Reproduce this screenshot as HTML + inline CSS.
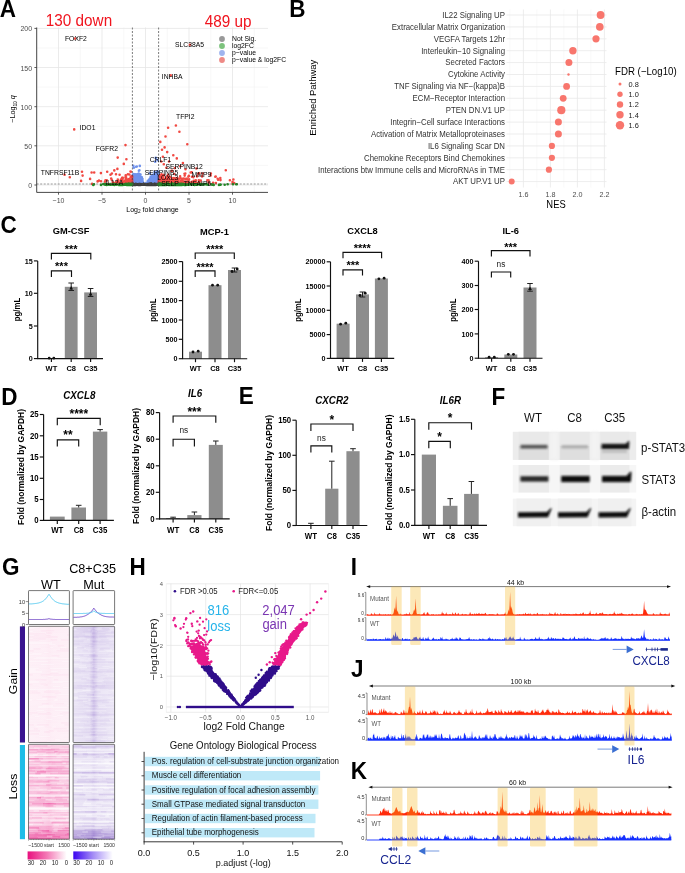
<!DOCTYPE html><html><head><meta charset="utf-8"><style>html,body{margin:0;padding:0;background:#fff;overflow:hidden;}svg{display:block;}</style></head><body><svg style="opacity:0.999" width="685" height="873" viewBox="0 0 685 873" font-family='"Liberation Sans", sans-serif'>
<rect x="0" y="0" width="685" height="873" fill="#fff"/>
<text transform="translate(-0.3 16.7) scale(1 1.08)" font-size="22.5" font-weight="bold">A</text>
<text transform="translate(289.2 16.9) scale(1 1.08)" font-size="22.5" font-weight="bold">B</text>
<text transform="translate(0.6 232.6) scale(1 1.08)" font-size="22.5" font-weight="bold">C</text>
<text transform="translate(1.3 404.7) scale(1 1.08)" font-size="22.5" font-weight="bold">D</text>
<text transform="translate(238.7 404.3) scale(1 1.08)" font-size="22.5" font-weight="bold">E</text>
<text transform="translate(491.6 404.5) scale(1 1.08)" font-size="22.5" font-weight="bold">F</text>
<text transform="translate(1.9 575) scale(1 1.08)" font-size="22.5" font-weight="bold">G</text>
<text transform="translate(129.5 575) scale(1 1.08)" font-size="22.5" font-weight="bold">H</text>
<text transform="translate(350.8 574.7) scale(1 1.08)" font-size="22.5" font-weight="bold">I</text>
<text transform="translate(351.1 677.3) scale(1 1.08)" font-size="22.5" font-weight="bold">J</text>
<text transform="translate(350.8 779.2) scale(1 1.08)" font-size="22.5" font-weight="bold">K</text>
<line x1="36.8" y1="27.5" x2="36.8" y2="192.4" stroke="#f2f2f2" stroke-width="0.6"/>
<line x1="80.2" y1="27.5" x2="80.2" y2="192.4" stroke="#f2f2f2" stroke-width="0.6"/>
<line x1="123.8" y1="27.5" x2="123.8" y2="192.4" stroke="#f2f2f2" stroke-width="0.6"/>
<line x1="167.2" y1="27.5" x2="167.2" y2="192.4" stroke="#f2f2f2" stroke-width="0.6"/>
<line x1="210.8" y1="27.5" x2="210.8" y2="192.4" stroke="#f2f2f2" stroke-width="0.6"/>
<line x1="254.2" y1="27.5" x2="254.2" y2="192.4" stroke="#f2f2f2" stroke-width="0.6"/>
<line x1="36.7" y1="165.4" x2="268" y2="165.4" stroke="#f2f2f2" stroke-width="0.6"/>
<line x1="36.7" y1="126.3" x2="268" y2="126.3" stroke="#f2f2f2" stroke-width="0.6"/>
<line x1="36.7" y1="87.1" x2="268" y2="87.1" stroke="#f2f2f2" stroke-width="0.6"/>
<line x1="36.7" y1="48" x2="268" y2="48" stroke="#f2f2f2" stroke-width="0.6"/>
<line x1="58.5" y1="27.5" x2="58.5" y2="192.4" stroke="#e6e6e6" stroke-width="0.8"/>
<line x1="102" y1="27.5" x2="102" y2="192.4" stroke="#e6e6e6" stroke-width="0.8"/>
<line x1="145.5" y1="27.5" x2="145.5" y2="192.4" stroke="#e6e6e6" stroke-width="0.8"/>
<line x1="189" y1="27.5" x2="189" y2="192.4" stroke="#e6e6e6" stroke-width="0.8"/>
<line x1="232.5" y1="27.5" x2="232.5" y2="192.4" stroke="#e6e6e6" stroke-width="0.8"/>
<line x1="36.7" y1="185" x2="268" y2="185" stroke="#e6e6e6" stroke-width="0.8"/>
<line x1="36.7" y1="145.8" x2="268" y2="145.8" stroke="#e6e6e6" stroke-width="0.8"/>
<line x1="36.7" y1="106.7" x2="268" y2="106.7" stroke="#e6e6e6" stroke-width="0.8"/>
<line x1="36.7" y1="67.5" x2="268" y2="67.5" stroke="#e6e6e6" stroke-width="0.8"/>
<line x1="36.7" y1="28.4" x2="268" y2="28.4" stroke="#e6e6e6" stroke-width="0.8"/>
<path d="M155.6 176h0M156.2 174.5h0M154.6 182.8h0M150.7 178.7h0M148.6 182.2h0M133.8 182.8h0M148.1 182.8h0M153.1 179.7h0M142.5 179.1h0M153 180.7h0M140 183.6h0M149.4 182.3h0M139.7 176.3h0M134.3 181.3h0M143.3 183.1h0M142.3 181.2h0M155.5 182.3h0M142.3 181.8h0M141.6 183.8h0M157.2 178.7h0M153.5 174.6h0M150 181h0M155.2 161.8h0M152.4 180h0M138.2 174.6h0M151.8 175.9h0M148 183h0M140.2 183.2h0M157.7 171.3h0M148 183.1h0M155.1 180.1h0M157.7 177.6h0M152.3 183.6h0M142.2 181.9h0M152.9 178h0M139 180h0M133.7 180.3h0M138.2 181.8h0M142.1 183.3h0M148.7 183.4h0M142.6 183.3h0M138.7 183.6h0M139.7 183.5h0M139.8 165.9h0M143.5 183.9h0M150.6 183.6h0M149.7 181.4h0M150 182.3h0M154 183h0M158.2 183.9h0M143.5 184h0M136.7 182h0M152.2 176.1h0M146.8 183.9h0M147.4 183.7h0M139.9 177.2h0M148.5 182.1h0M153.1 180.6h0M141.8 181.5h0M142.6 182.1h0M151.1 182.7h0M146.6 183.9h0M147.6 183.5h0M157.1 177.8h0M155.3 179.7h0M139.8 182.9h0M147.7 183.4h0M144 183.9h0M146.5 183.9h0M137.8 176.2h0M156 181.7h0M143.7 184h0M132.9 175.1h0M139 175.7h0M154.2 175h0M137.3 182.9h0M153.6 182h0M152 183.3h0M138.7 173.6h0M151.5 179h0M140.4 180.7h0M143.6 183.9h0M155.2 172.7h0M157.7 177.9h0M157.4 177.1h0M151.3 176.5h0M133.3 183h0M150 180.1h0M135.6 179.7h0M135.6 181.1h0M141 183.4h0M135.3 174.3h0M157 181.8h0M139 178.6h0M134.2 179.4h0M156.2 180.9h0M146.5 183.9h0M148.4 182.5h0M152 177.3h0M146.8 184h0M140.5 174.5h0M140.8 177.4h0M141.5 178.8h0M154.6 175.3h0M143 182.5h0M156.5 180.4h0M144.4 183.9h0M152.1 176h0M153.7 178.9h0M142.4 180.5h0M151.3 180.3h0M151.9 182.7h0M138.3 175.5h0M157.7 183.5h0M153.1 181.4h0M157.5 174.4h0M138.4 174.4h0M148.7 183.4h0M134.5 181.3h0M157.9 178.2h0M143 182.2h0M141.8 183.6h0M155.4 176.6h0M146.4 183.9h0M141.4 182.2h0M146.9 183.9h0M133.6 174.1h0M154.2 183.4h0M148.5 181.8h0M147 183.9h0M143.3 183h0M143 183.8h0M133.5 180.4h0M158.5 180.1h0M133 177h0M144.4 183.9h0M153.3 178.9h0M138.1 182h0M157.7 181.4h0M156.6 180.5h0M144 184h0M147.8 180.7h0M158.4 175.8h0M147.5 183.8h0M137.3 178.9h0M140.8 178.9h0M157.8 171.7h0M132.7 182.8h0M155.3 176.6h0M132.9 179.2h0M157 176.8h0M137.1 176h0M155.8 157.9h0M132.7 181.8h0M157.1 172h0M150.8 179.9h0M140.1 175.3h0M148.2 183.3h0M148.1 183.5h0M144.3 183.9h0M155.4 174.3h0M151.7 183h0M151 176.8h0M142.3 181.7h0M144.3 184h0M148.6 182.9h0M151.6 178.5h0M143.4 183.5h0M139.3 174.1h0M144.5 183.9h0M156.4 178.6h0M157.1 178.6h0M136.8 166.5h0M153.4 181.8h0M156.8 180.2h0M154.4 181.8h0M133.7 178.7h0M150.7 176.8h0M155.4 183.3h0M140.8 176.8h0M134.6 182.8h0M151.2 182.5h0M138.6 175.5h0M147.1 184h0M141.6 179.8h0M143.3 183.5h0M149.4 183h0M153.8 176.5h0M138.1 177.7h0M143.9 183.9h0M153.4 175.4h0M149.1 180.1h0M132.5 182.2h0M150.5 179.6h0M138.2 179.2h0M156.9 177.4h0M156.4 182.8h0M153.1 175.7h0M153 176.3h0M149.9 173.3h0M150.6 179.6h0M136.1 180.1h0M137.9 176.8h0M139.8 179.9h0M147.7 182.4h0M138.5 183h0M157.6 176.5h0M143.8 184h0M147.8 183.5h0M141.4 182.8h0M152.6 182h0M156 172.9h0M136.1 181.7h0M158.2 172.3h0M136.5 178.9h0M134 179h0M151.6 181.9h0M153.5 183.5h0M136.8 176.4h0M158 173.1h0M144.1 183.9h0M148.8 180.7h0M152.3 182.7h0M154.5 182.3h0M137 182.6h0M143.6 183.9h0M158.5 179.8h0M146.4 183.9h0M144.2 184h0M147.6 183.7h0M151.8 181.2h0M139.1 180.5h0M139.6 180.8h0M153 181.3h0M144.3 184h0M149.6 180.8h0M155.3 179.1h0M143.9 183.9h0M133.3 177.8h0M143.1 183.7h0M132.5 179h0M149.4 182h0M138.9 170.7h0M157.4 160.1h0M138.9 180.9h0M137 174.4h0M132.9 183.2h0M152.8 179.4h0M147.4 183.9h0M146.4 183h0M151.5 179.4h0M139 183.7h0M135.6 179.3h0M140.3 176.6h0M152.2 181.1h0M141.7 180.6h0M142.4 183.4h0M149.5 181.2h0M139.4 170.3h0M150.8 181.8h0M141.9 180.9h0M155.2 175.2h0M151 180.5h0M139.8 176.9h0M148.7 181.5h0M158.3 172h0M147.9 182.9h0M134.2 179.7h0M142 182h0M139.2 181.5h0M133.1 180.1h0M149.8 178.9h0M141.9 182.9h0M150.4 182.4h0M153.2 179.2h0M134.4 176.5h0M147.2 184h0M132.8 174.9h0M147.8 183.9h0M149.6 179h0M133.4 177.4h0M133.7 180.6h0M153.6 182.8h0M146.7 184h0M140.6 181.2h0M151.3 181.6h0M155.9 174.7h0M147.8 183h0M151 177.2h0M140.2 183.9h0M152.2 180.1h0M155.1 172.9h0M134.1 176.1h0M143.7 183.8h0M157.1 183.3h0M143.3 183.5h0M156.1 175.6h0M153.1 175.7h0M143.6 183.9h0M146.7 183.9h0M138.4 181.9h0M155.4 175.1h0M146.5 183.9h0M149 183.5h0M151.8 178.4h0M135.8 175.4h0M141.8 179.2h0M139.9 177h0M140.5 176.9h0M143.7 183.9h0M151.3 180.5h0M143.4 183.5h0M133.1 179.4h0M153.7 179.1h0M152.4 182.3h0M150 183.5h0M151.8 182.3h0M143 182.9h0M142.5 180.8h0M153.3 177.8h0M154.5 172.1h0M146.9 184h0M137 179h0M152.7 183.4h0M150.8 181.2h0M144.2 184h0M153.4 177.2h0M147.1 184h0M148.1 183.6h0M156.3 182.1h0M136.1 166.7h0M157.7 175h0M149.6 183.3h0M134.9 176.6h0M133.9 177.2h0M146.9 184h0M136.5 176.6h0M154.8 178.4h0M156.3 179.5h0M149.2 184h0M152.3 179h0M158.1 175.1h0M157.1 172.6h0M158.4 177.8h0M136.7 176.5h0M156.4 180.1h0M154.4 178.1h0M136.8 181.1h0M157.2 180.1h0M135.7 177.5h0M135.9 180.3h0M151.8 177.7h0M147.7 183.1h0M153.4 183.7h0M154 180.9h0M147.9 183.7h0M156.2 174.5h0M138.3 175.5h0M155.6 174.3h0M137.7 183.4h0M133.8 180.9h0M150.7 180.8h0M132.8 179.2h0M147.8 183.1h0M150.6 177.6h0M154 179.9h0M158.2 176.5h0M135 182.3h0M148.4 182.9h0M156.4 174h0M141.9 177.2h0M150.1 182.7h0M143.6 183.6h0M148.2 182.7h0M133.8 167.7h0M156.4 183.1h0M137 181.9h0M157.1 172.5h0M157 176.4h0M144.3 184h0M147.8 183.3h0M157.2 171.6h0M149.6 179.8h0M156.1 176.5h0M141.8 180h0M133.3 165.8h0M134.7 174.5h0M154.9 174.8h0M133.9 183.4h0M150.2 179.4h0M141.2 177h0M156.8 174.5h0M141.6 180.7h0M135.6 178.2h0M154 181.4h0M149 180.4h0M132.9 174.6h0M155.5 181.7h0M153.4 177.6h0M156.1 182.2h0M154 184h0M132.7 177h0M151.2 179.4h0M152.9 181.2h0M153.7 175.3h0M132.9 181.4h0M147.5 183.5h0M156.9 182.5h0M138.6 181h0M153.5 176.4h0M137.4 183.6h0M152.7 180.6h0M155.9 183.9h0M151.4 182.5h0M148.5 182.2h0M136.7 176.1h0M154 177.5h0M153.5 176.7h0M135.9 183.6h0M132.6 175.8h0" stroke="#5f86ea" stroke-width="2.6" stroke-linecap="round" fill="none" stroke-opacity="0.9"/>
<path d="M127 181.8h0M125.7 179.7h0M126.1 177.3h0M110.5 174.7h0M116.2 183.2h0M126 177.9h0M127.3 181.3h0M129.7 178.7h0M127.7 182.6h0M112.5 183.6h0M132.4 182.4h0M125.5 183.6h0M126.6 179.2h0M107.2 171.7h0M113.8 183.7h0M127.1 182.1h0M132.1 179.7h0M128.6 179.3h0M119.2 182.8h0M127.5 182.1h0M129.9 183.9h0M126 183.1h0M129 179.3h0M116.5 181.8h0M132.2 179.9h0M128.9 183.7h0M116 174.3h0M129 181.6h0M106.8 180.4h0M127.4 183.4h0M132.1 177.7h0M112.8 183.1h0M120.3 183.2h0M116.3 182.1h0M118.5 181h0M131.4 181.6h0M120 183.8h0M132 183.1h0M117.4 168.9h0M125.5 177.4h0M117.9 182.7h0M125.5 177.7h0M124.7 181.6h0M117.4 183.3h0M125.2 181.5h0M122.6 179.8h0M128.7 182h0M125.2 183.6h0M114.3 170.4h0M122.8 182.1h0M127 182h0M127 183h0M97.6 181.4h0M129.6 180.7h0M132.4 182.8h0M122.8 177.9h0M128.2 183.8h0M92.1 183.9h0M126.1 181.6h0M81.1 180.9h0M129.2 183h0M126.9 183.5h0M105.5 180.4h0M116.9 182.7h0M119.6 174.7h0M129.4 174.5h0M128.5 180.1h0M99 180.6h0M101 181.3h0M125.7 175.4h0M121.6 183.8h0M130.5 181.7h0M127.6 183.8h0M112.7 182.3h0M104.9 181.7h0M130.1 182.3h0M111.9 173.5h0M122.7 182.9h0M123.6 182.9h0M127.2 184h0M132.2 176.4h0M115.3 182.8h0M121.2 183.8h0M111.7 179.8h0M117.5 181.7h0M125.8 178.4h0M128 183.7h0M131 176.8h0M128.6 183.8h0M122.7 183.5h0M125.9 179.1h0M129.3 182.3h0M100.9 173.1h0M108.6 183.8h0M90.1 178.9h0M130.5 171.5h0M130.9 171.8h0M132.1 183.8h0M124.9 180.8h0M122.1 177.8h0M131.1 180.2h0M127.9 174.3h0M120.9 179.6h0M130.8 176.8h0M128.4 183.3h0M126 179h0M127.9 182h0M121.6 182.9h0M131 182.5h0M117.8 179.5h0M129.7 180.8h0M111.2 178.5h0M130.1 183.9h0M82.6 175.6h0M128.7 179.8h0M122.3 180.4h0M127.2 180.4h0M126.8 182.4h0M163.5 181.4h0M183.4 183h0M159.5 183.5h0M176.3 182.9h0M158.7 180.9h0M165.7 183.8h0M175.9 182.2h0M182.3 178.9h0M180.4 178.1h0M164.7 180.7h0M167.2 181.8h0M161.6 182.2h0M159.5 180.6h0M161 182.5h0M181.8 179h0M183 182.4h0M159.5 176.8h0M163.1 180.2h0M165.2 182.8h0M168.4 182.3h0M177.6 181.7h0M160.9 182.6h0M159.8 180.7h0M161 183.2h0M169.8 183.1h0M186.9 179.2h0M163.7 182.9h0M175.5 182.2h0M171.3 183h0M169.2 182h0M187.6 182.6h0M178.9 183.3h0M162.9 183.5h0M191.9 183.6h0M162.8 182.8h0M174.2 181.3h0M160.2 183.1h0M174.6 183.6h0M160.2 181h0M158.6 183.8h0M161.2 180.7h0M164 182.9h0M168.4 179.2h0M159.1 183.6h0M165 181.9h0M160.4 183h0M169.2 183.8h0M163.6 183.9h0M189 183.9h0M160.7 182.3h0M161.8 182.4h0M163.8 175h0M169.2 183h0M161.1 182.8h0M177.3 180.7h0M174 182.2h0M193 182.3h0M168.5 177.3h0M178.2 182.3h0M178.6 180.1h0M162.9 183h0M176.4 182.8h0M164 182.5h0M159.5 183.5h0M213.1 182.7h0M179.3 184h0M163.2 182.6h0M163.3 178.5h0M198.5 182.7h0M160.4 179.5h0M178.5 182h0M159.3 184h0M173.3 181.2h0M166.5 183.1h0M162.6 183.1h0M165.4 182.1h0M165.3 183.2h0M161.8 182h0M193.4 183.3h0M177.2 181.3h0M161.9 183.7h0M181.4 183.5h0M160.1 183.8h0M179.8 182.7h0M158.6 183.4h0M167.8 182.6h0M160.6 180.7h0M173.6 183.2h0M163.4 183.4h0M158.8 182.4h0M162.6 182h0M181.5 182.9h0M162.8 183.1h0M166.7 183.9h0M164.8 183.2h0M160 180.9h0M173.6 182.4h0M159.5 181.8h0M164.6 179.8h0M171.7 183.3h0M176.1 181.7h0M164.1 180.9h0M163.6 183.7h0M159.1 182.4h0M162.6 183.7h0M159.2 181.5h0M162.7 180.3h0M186.8 178.8h0M161.8 178.8h0M170.9 179.7h0M188.6 182.8h0M164.5 179.5h0M162.9 183.8h0M159 182.6h0M163.2 178.4h0M158.7 183.1h0M174.2 181.7h0M181.1 181.1h0M184.5 173.8h0M183.5 181.3h0M165 182.5h0M161.7 183.4h0M167.8 182.8h0M164.7 183.8h0M208.6 182.3h0M166.8 183.1h0M168.8 180.7h0M193.7 180.8h0M193.5 182.4h0M166.6 183.1h0M201 183.5h0M161.8 181.3h0M162 183.9h0M164.3 182.8h0M166.2 183.4h0M163.9 183.3h0M161 182.7h0M161.8 183.6h0M192 176.8h0M164.6 182.5h0M159.8 183.9h0M167.6 177.9h0M159.6 182.9h0M178.4 184h0M169.7 183.3h0M176.3 179.6h0M185.6 179.4h0M159.7 182.1h0M168.9 183.2h0M161.4 182.8h0M165.5 182.9h0M197.2 183h0M183 183.5h0M173.3 182.6h0M164.9 182.7h0M160.4 183.5h0M165.2 183.6h0M182.1 180.7h0M171.1 181.3h0M160.8 184h0M159.6 180.3h0M167 176.4h0M163.5 183.1h0M171.8 179.6h0M165.6 182.7h0M164.1 183.5h0M188.4 176.6h0M165.8 183.7h0M184.3 182.1h0M175.9 182.6h0M159.6 181.6h0M160 179.2h0M160.9 183.2h0M158.6 183.6h0M171.8 183.8h0M160.1 183.9h0M158.7 182.8h0M161.8 181.4h0M172.9 182.3h0M191.8 172.4h0M163.2 181.2h0M173.5 183.5h0M177.9 183.9h0M172.7 178.4h0M171.8 181.2h0M172.1 182.7h0M160 183.2h0M163.3 180.8h0M185.3 173.6h0M163.7 179.7h0M188 183.9h0M168.5 183.8h0M159.6 183h0M174 183.5h0M163.4 182.7h0M168.5 183.7h0M161 184h0M163.4 175.6h0M161.1 181.5h0M171.7 179.4h0M179.1 183.8h0M163.6 180.6h0M171.6 179.5h0M159 180.9h0M164.9 180.9h0M169.6 183h0M168 183.9h0M193.1 177h0M171.7 181.6h0M175.4 182.5h0M162.1 182.1h0M210.6 175.4h0M178.7 183.5h0M163.3 183.4h0M169 178.9h0M170.8 182h0M165.6 183.6h0M162.4 176.5h0M188.6 180.7h0M173.2 183.4h0M158.8 183.9h0M158.8 183.6h0M208.6 180.4h0M161.7 183.8h0M158.8 184h0M160.4 183.3h0M160.7 183.5h0M170.9 183.7h0M160.4 181.4h0M162.7 182.1h0M162.8 181.7h0M158.7 183.5h0M183.7 183h0M171.3 183.4h0M160 183h0M166.3 183.9h0M168 182.8h0M164.2 181.2h0M186.2 182.4h0M163.1 181.2h0M176.5 182.2h0M170.6 183h0M174.8 181.9h0M183.3 183h0M159.4 180.6h0M169.7 180.4h0M175.9 180.3h0M164.2 180.1h0M170.7 182.8h0M160.9 183.8h0M161.9 183.3h0M163.6 182.1h0M199.1 180.9h0M172.3 184h0M173.6 182.1h0M177.5 182.9h0M171.6 182.3h0M177.7 182.5h0M180.5 178.4h0M168.1 182.5h0M174 182.2h0M202.8 173.5h0M167.2 181.5h0M160 179.9h0M170.7 183.9h0M158.7 180.9h0M177.7 181.5h0M165.1 183.4h0M166.9 179h0M171.1 183.9h0M161.5 183.8h0M183.8 178.5h0M191.4 182.1h0M163.3 183.9h0M162.3 183.2h0M164.8 183.2h0M175 179.1h0M164.6 180.6h0M162.9 183.4h0M178.6 183.7h0M159.5 175.6h0M166.6 182.9h0M177.2 178.3h0M164.4 180.8h0M160.3 180.1h0M165.3 183h0M158.7 183.9h0M164.8 183.7h0M172.2 170.7h0M162.9 181.4h0M169.6 181.8h0M177.5 182.3h0M180.8 183.5h0M173 182.2h0M161.3 183.5h0M195.8 180.4h0M167.2 182.5h0M182.4 181.1h0M161.7 178.9h0M182.4 179.7h0M174.1 181.3h0M163.5 176.8h0M174.3 183.5h0M179.5 182.5h0M159.3 180.3h0M161.8 183h0M159.8 182.7h0M168.3 180.3h0M197.3 176.2h0M172.5 182.8h0M193.8 183.1h0M163.3 182.4h0M164.3 182.3h0M160.1 183.5h0M158.8 183h0M162 180.9h0M162.3 183.6h0M174.5 183.5h0M181.6 181.9h0M160.5 181.9h0M232.5 182h0M168.8 182.3h0M196.4 168.5h0M159.3 183.2h0M179.3 182.5h0M167.5 182.2h0M158.7 183.9h0M187.2 182.4h0M166 182.3h0M176.1 178.3h0M159.7 182.3h0M158.6 182.7h0M179.9 182.2h0M164.4 180.2h0M173.4 178.1h0M168.4 183.2h0M173.4 182.4h0M158.6 183.8h0M198.8 180.2h0M159 181.6h0M176.4 183.9h0M215.9 183.1h0M167.5 181.4h0M167 183.1h0M166.7 181.9h0M197 176.4h0M215.7 176.6h0M166.7 183.1h0M188.9 175.9h0M163.1 181.1h0M164 183.9h0M166.6 179.3h0M168.2 180.4h0M181.8 179.5h0M163 179.4h0M159.7 182.8h0M159.6 183.2h0M186 178.9h0M220.5 180.1h0M167.8 183.6h0M166.9 179h0M163.8 180.3h0M163.1 180.9h0M161.2 178h0M160.1 183.8h0M169.3 180.7h0M174.2 182.7h0M174.3 183.4h0M163.6 183.3h0M161.8 183.9h0M161.6 182.6h0M170.3 183.1h0M170.5 183.1h0M179.4 183.9h0M177.2 178h0M169.5 181.7h0M209.3 183.3h0M159.8 182.8h0M174.8 182.1h0M166.9 182.8h0M166.3 179.7h0M159.5 182.2h0M159.8 180.8h0M162.4 181h0M163.4 182.1h0M167.5 177.4h0M166.6 182.5h0M167.3 183.4h0M194.3 182.5h0M160.6 183.6h0M174.6 178.3h0M169.9 177h0M161.8 180h0M177 183.4h0M159.8 183h0M165.4 182.6h0M174.7 183.3h0M162.3 183.2h0M160.8 183h0M170.1 183.3h0M160.4 181.7h0M159.7 180.6h0M170.6 183.4h0M158.7 180.9h0M158.8 181.6h0M168.2 181.5h0M161.4 181.6h0M162.3 182.3h0M200.8 180.6h0M160.7 183.5h0M165.2 180.5h0M178.7 182.7h0M169.7 183h0M167.1 183.2h0M195.2 182.4h0M163.4 182.1h0M161.7 183.8h0M166 180.4h0M164.3 183.3h0M162.9 182.2h0M162.5 182.6h0M167.6 183.9h0M163.5 180.7h0M161.5 181.5h0M159.5 182.8h0M165.5 181.9h0M158.6 183.8h0M165.1 179h0M167.3 179.8h0M168.1 174.8h0M159.6 180.5h0M162.3 183.5h0M168 182.8h0M225.8 170.3h0M174.8 183.3h0M161.9 182.9h0M163.4 183.5h0M161.5 183.4h0M163 183.8h0M163.2 178.2h0M181.4 181.3h0M198.2 173.8h0M159.8 183.9h0M163.7 182.5h0M232.5 183.8h0M173.7 180.2h0M162.4 181.3h0M184.1 183.7h0M172.1 182.5h0M177.2 183.6h0M172.3 184h0M159 183h0M163.9 182.9h0M161.5 174.3h0M165.3 182.6h0M164.1 179.9h0M160.8 179.2h0M161.2 180.2h0M165.6 182.1h0M161.9 180.9h0M161.7 181.2h0M172.1 178.6h0M215.3 176.7h0M160.9 181h0M159.9 181.1h0M190.8 183.5h0M159.1 181.2h0M164 181.8h0M180.1 176.2h0M167.8 180.1h0M189.1 179.3h0M164.4 179.1h0M165.4 179.3h0M164.6 182.7h0M159 183.8h0M191.8 182h0M175.1 182.4h0M174.9 182.2h0M160.5 183.3h0M171.3 183.6h0M194.6 183.8h0M169 179.5h0M175.1 183.6h0M160 181.9h0M165.2 183.8h0M160.2 182.1h0M158.9 183.4h0M194.3 183h0M182.6 183.9h0M161.4 183.9h0M175.1 181.9h0M177 179.6h0M174.7 183.7h0M166.3 183.9h0M178.7 182.7h0M166.4 179.4h0M218.1 179.7h0M164.7 179.9h0M182 183.3h0M166.2 177.9h0M210.9 173.5h0M167 183.6h0M186.5 183.3h0M170.2 182.9h0M182.3 182.7h0M164.5 180.3h0M174.9 168.1h0M160.2 183.7h0M172.8 182.4h0M186.8 182.1h0M159.2 182.9h0M162.2 181h0M179.4 178.6h0M160 182.5h0M161.3 177.1h0M160.6 182.1h0M174.5 183.4h0M169.6 183.7h0M159.2 183.4h0M159.6 183h0M75 38.6h0M74.2 129.4h0M125.5 145.1h0M117.7 157.6h0M123.8 163.9h0M126.4 159.2h0M82 171.7h0M91.6 172.5h0M94.2 172.5h0M64.6 174.8h0M69.8 177.2h0M168.1 127.8h0M175.9 125.5h0M179.4 131.8h0M165.5 136.5h0M187.3 144.3h0M167.2 152.1h0M173.3 155.2h0M176.8 158.4h0M182.9 163.1h0M169 161.5h0M199.4 173.3h0M217.7 178.7h0M229.9 180.3h0M233.4 179.5h0M234.2 183h0M189.9 44.8h0M170.7 75.4h0M184.7 175.6h0M193.3 177.2h0M207.3 180.3h0M163.8 164.3h0M162.9 156.8h0M162 149.8h0M161.2 161.5h0M166.4 167.8h0M171.6 170.9h0M180.3 166.2h0M185.5 169.3h0M190.7 172.5h0M174.2 174h0M202.1 176.4h0M220.3 178h0M160.3 141.9h0M164.6 147.4h0" stroke="#ee2a22" stroke-width="2.6" stroke-linecap="round" fill="none" stroke-opacity="0.85"/>
<path d="M138.8 184.4h0M142.2 184.4h0M148.7 184.9h0M133 184.1h0M139.3 184.8h0M158.3 184.5h0M154.2 184.5h0M149.1 184.8h0M149 184.1h0M146.1 184.2h0M149.9 184.9h0M152.1 184.4h0M140.4 185h0M154.9 184.5h0M151.1 184.1h0M151 184.1h0M142.8 184.2h0M144.1 184h0M155.3 184.9h0M136.1 184.8h0M157.5 184.6h0M148.8 184.7h0M145.7 184.6h0M141.7 184.4h0M147.7 184.1h0M150.2 184.1h0M154.7 184h0M149.9 184.8h0M154.8 184h0M155.9 184.4h0M151 184.8h0M154 184.4h0M140 184.9h0M154.6 184h0M134.9 184.2h0M143.2 184.8h0M140.2 184.2h0M155.1 185h0M148.4 185h0M151.1 184.7h0M155.3 184h0M145.6 184h0M140.6 184.9h0M148.1 185h0M137.7 184.6h0M148.3 184.8h0M133.7 184.1h0M140.7 184h0M155.7 184.6h0M144.5 184.5h0M149.2 184.4h0M147 184.4h0M156.8 184.5h0M143.7 184.3h0M138.7 184.7h0M157.8 184.5h0M146.7 185h0M143.3 184.4h0M133.1 184.4h0M148.9 184.9h0M148.8 184.5h0M150.1 184.6h0M150.8 184.2h0M133.2 184.9h0M150 184h0M139.1 184.5h0M147.9 184.7h0M142 184.7h0M142.1 184.4h0M140.4 184.6h0M152.5 185h0M147.3 184.3h0M140.6 184.8h0M153.3 184.8h0M137.4 184.6h0M150.6 184.9h0M140.9 184.7h0M154.1 184.6h0M154.7 184.8h0M141.3 184.3h0M155.4 184.5h0M138.4 184.9h0M146.3 184.8h0M153.4 184.1h0M137.4 184.7h0M153.4 184.3h0M153.4 184.6h0M136 184.7h0M153.1 184.7h0M141.5 184.6h0M143.4 184.6h0M156.3 184.8h0M132.7 184h0M155.3 184h0M143.8 184h0M156.5 184.8h0M151.8 184.1h0M149.7 184.5h0M140.1 184.7h0M138.5 184.9h0M147.8 184.7h0M153.5 185h0M155.9 184.3h0M156.4 184.1h0M155.8 184.4h0M133 184.2h0M137 184.7h0M149.7 184.5h0M143.3 184h0M148.4 184.7h0M139.1 184.1h0M144.9 184.2h0M141.7 184.8h0M146.4 184.2h0M137 184.2h0M156.4 184.2h0M153.8 185h0M148.8 184.1h0M133.9 184.7h0M139.5 184.5h0M143.5 184.5h0M152.6 185h0M134 184.9h0M135.8 184.9h0M157.7 184.1h0M134.8 184.5h0M140.8 184.7h0M141.7 184.3h0M147.7 184.6h0M137.5 184.7h0M135.8 184.4h0M151.1 184.6h0M134.7 184.8h0M142.2 184.4h0M152.8 184.6h0M153.3 184.4h0M143.7 184.6h0M145.4 184.3h0M143.5 184.3h0M144.5 184.8h0M146.4 184.3h0M134.5 184.6h0M143.6 184.1h0M156.7 184.6h0M155.7 184.2h0M139.4 184.5h0M135.8 184.2h0M149.7 184.1h0M153 184.3h0M151.5 184.4h0M135.3 184.4h0M132.8 184.9h0M152.6 185h0M135 184.9h0M155.3 184.8h0M133.2 184.1h0M135.7 184.1h0M150 184.1h0M157.2 184.4h0M153.2 185h0M152.4 184.5h0M151 184.9h0M151.9 184h0M134.2 184.7h0M147.1 184.2h0M138.9 184.8h0M139.1 184.4h0M152 184.6h0M142.1 184.6h0M141.6 184.6h0M134.8 184.5h0M157.7 184.6h0M151.9 184.8h0M150.4 184.2h0M150 184.5h0M145.1 184.3h0M155.7 184.8h0M135.1 184.2h0M156.2 184.5h0M144 184.3h0M137.4 184.7h0M137.8 184.4h0M140.7 184.8h0M150.4 184h0M140.2 184.3h0M143.3 184.1h0M147.7 184.7h0M138.2 185h0M145 184.6h0M137.1 184.6h0M140.9 184.2h0M136.3 184h0M145 184.4h0M144.7 184.2h0M153.8 184.4h0M145 184.3h0M154.7 184.6h0M151.5 184h0M144.7 184.8h0M138.7 184.3h0M150 184h0M154.6 184.8h0M137.5 184.7h0M137.4 184.3h0M154.7 184.1h0M139.2 184.1h0M140.7 184.6h0M151.4 184.9h0M135 184.2h0M140.1 184.6h0M147.6 184.3h0M132.8 184.7h0M143.9 184.5h0M138 184.4h0M157.2 184.6h0M146.6 184.9h0M139.7 184.3h0M135.5 184.1h0M156 184.9h0M156.9 184.6h0" stroke="#3c3c3c" stroke-width="2.6" stroke-linecap="round" fill="none"/>
<path d="M122.6 184.9h0M121.2 185h0M111 184.7h0M103.3 184.1h0M130.8 184.6h0M130.6 184.2h0M131.3 184.9h0M131.1 184.1h0M129.2 184.7h0M125.8 184.4h0M126.4 184h0M127.7 184.5h0M110 184.8h0M130.3 184.1h0M128.2 184.1h0M112.9 184.6h0M127.9 184.9h0M109.1 184.5h0M127.7 184.8h0M129.6 184.1h0M130.9 184.4h0M121.4 184.5h0M124.6 184.6h0M130 184.2h0M106.8 184.4h0M129.2 184.1h0M129.9 184.8h0M121.3 184.2h0M122.8 184.9h0M93.3 184.8h0M127.7 184h0M114.7 184.2h0M131.6 184.1h0M126.7 185h0M114.8 184.1h0M131.9 184.5h0M106.2 184.7h0M128.4 184.2h0M125.9 184h0M110.5 184.1h0M118.6 184.8h0M119.3 184.4h0M125 184.4h0M128.3 184.8h0M104.9 184.6h0M131.2 184h0M124.4 184.3h0M127.8 184.8h0M127.9 184.2h0M128.8 184.1h0M128.3 184.1h0M130.2 184.5h0M130.9 184.8h0M124.1 184.6h0M123.7 184.8h0M128.2 184.7h0M106.6 184.9h0M126.4 184.1h0M122.8 184.7h0M93.3 184.9h0M130.8 185h0M125.9 184.1h0M128.7 184.7h0M114.4 184.9h0M132.3 184.3h0M131.4 184.5h0M130.7 184.4h0M110.9 184.5h0M128.8 184.4h0M118.8 184.9h0M129.3 184.6h0M124.5 184.7h0M120.3 184.7h0M105.9 184.6h0M129.6 184.9h0M130.9 184.8h0M108.2 184.6h0M125.8 184h0M94 184.2h0M129.3 184.7h0M124.5 184.7h0M127.6 184.8h0M129.3 184.2h0M122 184.5h0M125.2 184.4h0M119.4 185h0M111.5 184.5h0M127.7 184h0M116.5 184.6h0M132.2 184.6h0M125.9 184.6h0M131.3 184.4h0M129.1 184.2h0M123.9 184.7h0M112.7 184.5h0M131.5 184.7h0M131.8 184.6h0M105.4 184h0M120.5 184.8h0M129.4 184.8h0M127.2 184.4h0M132.2 184.5h0M126.2 184.3h0M112.6 184.6h0M122 184.7h0M125.6 184.4h0M131.8 184.5h0M124.6 184.8h0M129.2 184.2h0M127.6 184.8h0M128.7 184.5h0M126.7 184.6h0M128 184.8h0M124.5 184.4h0M131.4 184.4h0M128.3 184h0M101 184.9h0M119 184.6h0M131.1 184.1h0M105.4 184.2h0M174.4 184h0M171.3 184.3h0M175.1 184.1h0M188.9 184.7h0M162.2 184.4h0M172.5 184.6h0M189.4 184.1h0M176.7 184.5h0M177.2 184.8h0M184.4 184.9h0M195.2 184.4h0M163.6 184.8h0M172.9 184.5h0M177.2 184.9h0M191.2 184.6h0M167.6 184.2h0M173.1 184.5h0M164 184.5h0M159 184.7h0M185.9 184.9h0M160 184.1h0M165.9 184.5h0M172.4 184.3h0M164.6 184.2h0M158.6 184.1h0M164.4 184.4h0M164.2 184.2h0M165.9 184.4h0M164.6 184.2h0M182 184.8h0M180.7 184h0M162.8 184.8h0M200.4 184h0M160.7 184.2h0M200.2 184.7h0M182.3 184.7h0M182.8 184.5h0M168.6 184.9h0M175.1 184.3h0M163.9 185h0M160 184.7h0M236.8 184.2h0M194 184.2h0M160.8 184.6h0M205.4 184.1h0M233 184.2h0M178 184.2h0M197.2 184.6h0M159.1 184.7h0M158.8 184.7h0M172.5 184.7h0M163 184.9h0M165.5 184.5h0M172.5 184h0M159.7 184.7h0M159.8 184.1h0M174.2 184.3h0M184.9 185h0M195.1 184.7h0M174.1 184.6h0M180 184.7h0M163.6 184.7h0M178.8 184.5h0M161.2 184.6h0M171.7 184.6h0M172.6 184.1h0M174.6 184.2h0M164.2 184.1h0M202.8 184.5h0M158.9 184.9h0M180.7 184.1h0M178.7 184.5h0M170.7 184.9h0M172.8 184h0M162.2 184.4h0M188.3 184.3h0M165.3 184.8h0M179.2 184.1h0M191.5 184.6h0M179.9 184.2h0M165.9 184.2h0M166.2 184.8h0M158.6 184.3h0M180.4 185h0M159.6 184.7h0M162.2 184.3h0M161.8 184.4h0M171.1 184.6h0M188.8 184.6h0M169.8 184.3h0M166.7 184.8h0M206.4 184.2h0M170.9 184.5h0M173.6 184.7h0M159.7 184.4h0M194.6 184.9h0M220.7 184.6h0M236.8 184.2h0M163.5 184.8h0M192.9 184h0M184.2 184.4h0M170.8 184.2h0M185.6 184.2h0M163.9 184.2h0M206.6 184.4h0M158.7 184.8h0M175 184.6h0M197.7 184.3h0M177.4 184.8h0M170.2 184.3h0M197.5 184.1h0M163.3 184.5h0M219 184.9h0M159.7 184.8h0M179.1 184.7h0M177.8 184.2h0M184.4 185h0M176.8 184.2h0M177.5 184.1h0M185.2 184.4h0M190 184.4h0M160.3 184.7h0M200.8 184.7h0M168.5 184.1h0M176.7 184.2h0M168.5 184.5h0M159.8 184.8h0M161.2 184.5h0M170.3 184.9h0M174.3 184.9h0M166.2 185h0M168.6 184.9h0M202.7 184.6h0M186.2 184.5h0M164.8 184.1h0M163.6 184.5h0M174.5 184h0M177.6 184.9h0M168.1 184h0M188.8 184.6h0M160.7 184.7h0M180.7 184.8h0M193.4 184.7h0M176.9 184.3h0M162.9 184.5h0M174.1 184.7h0M170.4 184.4h0M208 184.7h0M161.5 184.5h0M172.8 184.5h0M196.8 184.8h0M169.7 184.5h0M162 184.5h0M168 184.6h0M181.8 184h0M213 184.8h0M165.8 184h0M159.9 184.9h0M159.6 184h0M169.6 184.6h0M160.2 184.1h0M236.2 184.3h0M196.7 184.4h0M164.4 184.8h0M164.2 184.8h0M165.7 185h0M159.2 184.1h0M188.1 184.2h0M165.3 184.5h0M170.8 184.2h0M164.2 184.5h0M171 184.1h0M165.3 185h0M166.7 184.1h0M161.6 184.4h0M160.8 184.7h0M173.9 184.9h0M168 184.4h0M166.2 184.2h0M187.9 184.7h0M181 184.2h0M172.7 184.4h0M171.7 184.2h0M176.9 184.7h0M175 184.3h0M168.3 184.1h0M164.5 184.4h0M171.7 184.4h0M161.7 184.3h0M160.5 184.5h0M167.9 184.3h0M189.1 184h0M162.6 184.1h0M168.6 184.5h0M159.2 184.1h0M162.6 184.7h0M164.3 184.8h0M163.9 184.7h0M170.5 184.6h0M180.7 184.1h0M200.6 184.6h0M176.5 184.3h0M178.8 184.6h0M161.9 184.2h0M175.3 184.6h0M175.7 184.9h0M182.5 184.1h0M213.7 184.9h0M177 184.2h0M160.9 184.4h0M161.8 184.8h0M159 184.7h0M188.2 184.4h0M183.5 184h0M161.1 184.1h0M194 184.3h0M164.9 184.8h0M167.6 184.6h0M163.3 184.3h0M174.3 184.7h0M161.5 184.5h0M178 184.3h0M174.6 184.1h0M180.8 184.5h0M180 184.3h0M165.1 184.8h0M166 184.3h0M180.3 184.7h0M170.8 184.9h0M172.8 184.5h0M181.4 184.1h0M159.4 184h0M161.5 184h0M224.7 184.8h0M164 184.9h0M196.3 184.2h0M211.6 184.2h0M165.5 184.2h0M165.4 184.7h0M167.2 184.3h0M164.5 184.4h0M171.7 184.2h0M168.5 184.6h0M171.2 184.5h0M179.1 184.9h0M161.6 185h0M166.9 184.1h0M172.9 184.4h0M201.5 184.2h0M164 184.8h0M170.6 184.8h0M172.8 184.9h0M166.3 184.3h0M163.2 184.8h0M180.2 184.8h0M194.8 184.4h0M193 184.5h0M169.1 184.7h0M159.5 184h0M162.4 184.9h0M200.8 184.5h0M172.2 184.1h0M179.2 184.7h0M163.8 184.3h0M176.4 184.8h0M163 184.5h0M159.5 184.2h0M175.3 184.8h0M172.1 184.4h0M160 184.6h0M183.1 184.5h0M178.9 184.8h0M236.8 184.3h0M171.3 185h0M165.4 185h0M167.6 184.8h0M162.9 184.7h0M161 184.7h0M169.5 184.9h0M171.4 184h0M178.6 184h0M160.4 184.3h0M162.9 184h0M169.3 184.3h0M182 184.9h0M160.2 184.2h0M185.3 184.6h0M158.9 185h0M183.8 184.3h0M165.9 184.3h0M184.4 185h0M180 184h0M190.4 184.1h0M167.6 184.4h0M160.4 184.2h0M175.4 184.6h0M159.3 184.8h0M166.6 184.1h0M168.5 184.1h0M161.8 184.7h0M162.8 184.7h0M183.4 184.6h0M164.6 184.3h0M167.8 184.1h0M177.2 184.2h0M167.3 184.6h0M168 184h0M203.7 184.4h0M169.2 184.9h0M189.1 184.4h0M166.9 184.8h0M168.5 184.3h0M163.5 184.7h0M169.8 184.5h0M158.7 184.9h0M165.9 184.3h0M166.1 185h0M162.9 184.8h0M181.2 184.8h0M220.6 184.7h0M161.7 185h0M169.1 184.5h0M182.3 184.3h0M170.8 184.9h0M199.6 184.7h0M162.7 184.8h0M172.4 184.3h0M164.5 184.7h0M158.7 184.4h0M178 184.9h0M162.9 184.2h0M177.9 184.9h0M227.7 184.3h0M178.2 184.7h0M211.7 184.6h0M174.4 184h0M186.7 184.8h0M160.7 184.8h0M160.5 184.1h0M170.8 184.5h0" stroke="#1f8a22" stroke-width="2.6" stroke-linecap="round" fill="none"/>
<line x1="132.4" y1="27.5" x2="132.4" y2="192.4" stroke="#444" stroke-width="0.7" stroke-dasharray="2,1.5"/>
<line x1="158.6" y1="27.5" x2="158.6" y2="192.4" stroke="#444" stroke-width="0.7" stroke-dasharray="2,1.5"/>
<line x1="36.7" y1="184" x2="268" y2="184" stroke="#555" stroke-width="0.6" stroke-dasharray="2,1.5"/>
<line x1="36.7" y1="27.5" x2="36.7" y2="192.4" stroke="#333" stroke-width="0.9"/>
<line x1="36.7" y1="192.4" x2="268" y2="192.4" stroke="#333" stroke-width="0.9"/>
<line x1="34.4" y1="185" x2="36.7" y2="185" stroke="#333" stroke-width="0.8"/>
<text font-size="7.0" text-anchor="end" fill="#4d4d4d" transform="translate(32.1 188) scale(1 1.07)">0</text>
<line x1="34.4" y1="145.8" x2="36.7" y2="145.8" stroke="#333" stroke-width="0.8"/>
<text font-size="7.0" text-anchor="end" fill="#4d4d4d" transform="translate(32.1 148.9) scale(1 1.07)">50</text>
<line x1="34.4" y1="106.7" x2="36.7" y2="106.7" stroke="#333" stroke-width="0.8"/>
<text font-size="7.0" text-anchor="end" fill="#4d4d4d" transform="translate(32.1 109.7) scale(1 1.07)">100</text>
<line x1="34.4" y1="67.5" x2="36.7" y2="67.5" stroke="#333" stroke-width="0.8"/>
<text font-size="7.0" text-anchor="end" fill="#4d4d4d" transform="translate(32.1 70.6) scale(1 1.07)">150</text>
<line x1="34.4" y1="28.4" x2="36.7" y2="28.4" stroke="#333" stroke-width="0.8"/>
<text font-size="7.0" text-anchor="end" fill="#4d4d4d" transform="translate(32.1 31.4) scale(1 1.07)">200</text>
<line x1="58.5" y1="192.4" x2="58.5" y2="194.7" stroke="#333" stroke-width="0.8"/>
<text font-size="7.0" text-anchor="middle" fill="#4d4d4d" transform="translate(58.5 202.6) scale(1 1.07)">−10</text>
<line x1="102" y1="192.4" x2="102" y2="194.7" stroke="#333" stroke-width="0.8"/>
<text font-size="7.0" text-anchor="middle" fill="#4d4d4d" transform="translate(102 202.6) scale(1 1.07)">−5</text>
<line x1="145.5" y1="192.4" x2="145.5" y2="194.7" stroke="#333" stroke-width="0.8"/>
<text font-size="7.0" text-anchor="middle" fill="#4d4d4d" transform="translate(145.5 202.6) scale(1 1.07)">0</text>
<line x1="189" y1="192.4" x2="189" y2="194.7" stroke="#333" stroke-width="0.8"/>
<text font-size="7.0" text-anchor="middle" fill="#4d4d4d" transform="translate(189 202.6) scale(1 1.07)">5</text>
<line x1="232.5" y1="192.4" x2="232.5" y2="194.7" stroke="#333" stroke-width="0.8"/>
<text font-size="7.0" text-anchor="middle" fill="#4d4d4d" transform="translate(232.5 202.6) scale(1 1.07)">10</text>
<text font-size="7" text-anchor="middle" fill="#000" transform="translate(152.5 211.7) scale(1 1.07)">Log<tspan font-size="4.8" dy="1.5">2</tspan><tspan dy="-1.5"> fold change</tspan></text>
<text font-size="6.6" text-anchor="middle" fill="#000" transform="translate(15.3 108.9) rotate(-90) scale(1.07 1)">−Log<tspan font-size="4.5" dy="1.4">10</tspan><tspan dy="-1.4" font-style="italic"> q</tspan></text>
<g transform="translate(0,0)"></g>
<text font-size="15.3" text-anchor="middle" fill="#f0141e" transform="translate(79 26) scale(1 1.07)">130 down</text>
<text font-size="15.3" text-anchor="middle" fill="#f0141e" transform="translate(228 26.5) scale(1 1.07)">489 up</text>
<circle cx="222" cy="39" r="2.9" fill="#999999"/>
<text font-size="6.8" text-anchor="start" fill="#000" transform="translate(232 41.1) scale(1 1.07)">Not Sig.</text>
<circle cx="222" cy="46" r="2.9" fill="#7cc27c"/>
<text font-size="6.8" text-anchor="start" fill="#000" transform="translate(232 48.1) scale(1 1.07)">log2FC</text>
<circle cx="222" cy="53" r="2.9" fill="#9fb4ee"/>
<text font-size="6.8" text-anchor="start" fill="#000" transform="translate(232 55.1) scale(1 1.07)">p−value</text>
<circle cx="222" cy="60" r="2.9" fill="#ee8a86"/>
<text font-size="6.8" text-anchor="start" fill="#000" transform="translate(232 62.1) scale(1 1.07)">p−value &amp; log2FC</text>
<text font-size="6.8" text-anchor="middle" fill="#000" transform="translate(75.9 40.9) scale(1 1.07)">FOXF2</text>
<text font-size="6.8" text-anchor="middle" fill="#000" transform="translate(189.5 47.4) scale(1 1.07)">SLC38A5</text>
<text font-size="6.8" text-anchor="middle" fill="#000" transform="translate(172.2 78.8) scale(1 1.07)">INHBA</text>
<text font-size="6.8" text-anchor="middle" fill="#000" transform="translate(185.3 119.4) scale(1 1.07)">TFPI2</text>
<text font-size="6.8" text-anchor="middle" fill="#000" transform="translate(87.5 130.4) scale(1 1.07)">IDO1</text>
<text font-size="6.8" text-anchor="middle" fill="#000" transform="translate(106.8 151) scale(1 1.07)">FGFR2</text>
<text font-size="6.8" text-anchor="middle" fill="#000" transform="translate(60 175.4) scale(1 1.07)">TNFRSF11B</text>
<text font-size="6.8" text-anchor="middle" fill="#000" transform="translate(160.5 162.2) scale(1 1.07)">CRLF1</text>
<text font-size="6.8" text-anchor="middle" fill="#000" transform="translate(184.2 168.6) scale(1 1.07)">SERPINB12</text>
<text font-size="6.8" text-anchor="middle" fill="#000" transform="translate(161.5 174.7) scale(1 1.07)">SERPINB5</text>
<text font-size="6.8" text-anchor="middle" fill="#000" transform="translate(201.4 176.7) scale(1 1.07)">MMP9</text>
<text font-size="6.8" text-anchor="middle" fill="#000" transform="translate(167.7 180.2) scale(1 1.07)">LOXL3</text>
<text font-size="6.8" text-anchor="middle" fill="#000" transform="translate(170 185.9) scale(1 1.07)">SELP</text>
<text font-size="6.8" text-anchor="middle" fill="#000" transform="translate(197.5 185.9) scale(1 1.07)">TNFAIP6</text>
<text font-size="6.8" text-anchor="middle" fill="#000" transform="translate(114.3 184.9) scale(1 1.07)">IL12A</text>
<line x1="509.9" y1="9.5" x2="509.9" y2="187.5" stroke="#f3f3f3" stroke-width="0.6"/>
<line x1="536.9" y1="9.5" x2="536.9" y2="187.5" stroke="#f3f3f3" stroke-width="0.6"/>
<line x1="563.9" y1="9.5" x2="563.9" y2="187.5" stroke="#f3f3f3" stroke-width="0.6"/>
<line x1="590.9" y1="9.5" x2="590.9" y2="187.5" stroke="#f3f3f3" stroke-width="0.6"/>
<line x1="523.4" y1="9.5" x2="523.4" y2="187.5" stroke="#e9e9e9" stroke-width="0.8"/>
<line x1="550.4" y1="9.5" x2="550.4" y2="187.5" stroke="#e9e9e9" stroke-width="0.8"/>
<line x1="577.4" y1="9.5" x2="577.4" y2="187.5" stroke="#e9e9e9" stroke-width="0.8"/>
<line x1="604.4" y1="9.5" x2="604.4" y2="187.5" stroke="#e9e9e9" stroke-width="0.8"/>
<line x1="506.5" y1="15" x2="606.5" y2="15" stroke="#e9e9e9" stroke-width="0.8"/>
<line x1="506.5" y1="26.9" x2="606.5" y2="26.9" stroke="#e9e9e9" stroke-width="0.8"/>
<line x1="506.5" y1="38.8" x2="606.5" y2="38.8" stroke="#e9e9e9" stroke-width="0.8"/>
<line x1="506.5" y1="50.7" x2="606.5" y2="50.7" stroke="#e9e9e9" stroke-width="0.8"/>
<line x1="506.5" y1="62.6" x2="606.5" y2="62.6" stroke="#e9e9e9" stroke-width="0.8"/>
<line x1="506.5" y1="74.5" x2="606.5" y2="74.5" stroke="#e9e9e9" stroke-width="0.8"/>
<line x1="506.5" y1="86.4" x2="606.5" y2="86.4" stroke="#e9e9e9" stroke-width="0.8"/>
<line x1="506.5" y1="98.3" x2="606.5" y2="98.3" stroke="#e9e9e9" stroke-width="0.8"/>
<line x1="506.5" y1="110.2" x2="606.5" y2="110.2" stroke="#e9e9e9" stroke-width="0.8"/>
<line x1="506.5" y1="122.1" x2="606.5" y2="122.1" stroke="#e9e9e9" stroke-width="0.8"/>
<line x1="506.5" y1="134" x2="606.5" y2="134" stroke="#e9e9e9" stroke-width="0.8"/>
<line x1="506.5" y1="145.9" x2="606.5" y2="145.9" stroke="#e9e9e9" stroke-width="0.8"/>
<line x1="506.5" y1="157.8" x2="606.5" y2="157.8" stroke="#e9e9e9" stroke-width="0.8"/>
<line x1="506.5" y1="169.7" x2="606.5" y2="169.7" stroke="#e9e9e9" stroke-width="0.8"/>
<line x1="506.5" y1="181.6" x2="606.5" y2="181.6" stroke="#e9e9e9" stroke-width="0.8"/>
<text font-size="7.85" text-anchor="end" fill="#333" transform="translate(505 17.8) scale(1 1.07)">IL22 Signaling UP</text>
<circle cx="600.6" cy="15" r="3.9" fill="#f8766d"/>
<text font-size="7.85" text-anchor="end" fill="#333" transform="translate(505 29.7) scale(1 1.07)">Extracellular Matrix Organization</text>
<circle cx="599.8" cy="26.9" r="3.8" fill="#f8766d"/>
<text font-size="7.85" text-anchor="end" fill="#333" transform="translate(505 41.6) scale(1 1.07)">VEGFA Targets 12hr</text>
<circle cx="596" cy="38.8" r="3.6" fill="#f8766d"/>
<text font-size="7.85" text-anchor="end" fill="#333" transform="translate(505 53.5) scale(1 1.07)">Interleukin−10 Signaling</text>
<circle cx="572.9" cy="50.7" r="3.7" fill="#f8766d"/>
<text font-size="7.85" text-anchor="end" fill="#333" transform="translate(505 65.4) scale(1 1.07)">Secreted Factors</text>
<circle cx="568.9" cy="62.6" r="3.5" fill="#f8766d"/>
<text font-size="7.85" text-anchor="end" fill="#333" transform="translate(505 77.3) scale(1 1.07)">Cytokine Activity</text>
<circle cx="568.5" cy="74.5" r="1.2" fill="#f8766d"/>
<text font-size="7.85" text-anchor="end" fill="#333" transform="translate(505 89.2) scale(1 1.07)">TNF Signaling via NF−(kappa)B</text>
<circle cx="566.6" cy="86.4" r="3.4" fill="#f8766d"/>
<text font-size="7.85" text-anchor="end" fill="#333" transform="translate(505 101.1) scale(1 1.07)">ECM−Receptor Interaction</text>
<circle cx="563.2" cy="98.3" r="3.4" fill="#f8766d"/>
<text font-size="7.85" text-anchor="end" fill="#333" transform="translate(505 113) scale(1 1.07)">PTEN DN.V1 UP</text>
<circle cx="561.3" cy="110.2" r="4.1" fill="#f8766d"/>
<text font-size="7.85" text-anchor="end" fill="#333" transform="translate(505 124.9) scale(1 1.07)">Integrin−Cell surface Interactions</text>
<circle cx="558.4" cy="122.1" r="3.5" fill="#f8766d"/>
<text font-size="7.85" text-anchor="end" fill="#333" transform="translate(505 136.8) scale(1 1.07)">Activation of Matrix Metalloproteinases</text>
<circle cx="558.4" cy="134" r="3.5" fill="#f8766d"/>
<text font-size="7.85" text-anchor="end" fill="#333" transform="translate(505 148.7) scale(1 1.07)">IL6 Signaling Scar DN</text>
<circle cx="551.9" cy="145.9" r="3.1" fill="#f8766d"/>
<text font-size="7.85" text-anchor="end" fill="#333" transform="translate(505 160.6) scale(1 1.07)">Chemokine Receptors Bind Chemokines</text>
<circle cx="551.9" cy="157.8" r="3.1" fill="#f8766d"/>
<text font-size="7.85" text-anchor="end" fill="#333" transform="translate(505 172.5) scale(1 1.07)">Interactions btw Immune cells and MicroRNAs in TME</text>
<circle cx="548.9" cy="169.7" r="3.1" fill="#f8766d"/>
<text font-size="7.85" text-anchor="end" fill="#333" transform="translate(505 184.4) scale(1 1.07)">AKT UP.V1 UP</text>
<circle cx="511.7" cy="181.6" r="3" fill="#f8766d"/>
<text font-size="7.2" text-anchor="middle" fill="#4d4d4d" transform="translate(523.4 197.4) scale(1 1.07)">1.6</text>
<text font-size="7.2" text-anchor="middle" fill="#4d4d4d" transform="translate(550.4 197.4) scale(1 1.07)">1.8</text>
<text font-size="7.2" text-anchor="middle" fill="#4d4d4d" transform="translate(577.4 197.4) scale(1 1.07)">2.0</text>
<text font-size="7.2" text-anchor="middle" fill="#4d4d4d" transform="translate(604.4 197.4) scale(1 1.07)">2.2</text>
<text font-size="9.4" text-anchor="middle" fill="#000" transform="translate(556 208.4) scale(1 1.07)">NES</text>
<text font-size="8.75" text-anchor="middle" fill="#000" transform="translate(316.1 97.8) rotate(-90) scale(1.08 1)">Enriched Pathway</text>
<text font-size="9.7" text-anchor="start" fill="#000" transform="translate(615 74.5) scale(1 1.07)">FDR (−Log10)</text>
<circle cx="620" cy="84" r="1.5" fill="#f8766d"/>
<text font-size="7.4" text-anchor="start" fill="#222" transform="translate(628.5 86.7) scale(1 1.07)">0.8</text>
<circle cx="620" cy="94.3" r="2.7" fill="#f8766d"/>
<text font-size="7.4" text-anchor="start" fill="#222" transform="translate(628.5 97) scale(1 1.07)">1.0</text>
<circle cx="620" cy="104.5" r="3.2" fill="#f8766d"/>
<text font-size="7.4" text-anchor="start" fill="#222" transform="translate(628.5 107.2) scale(1 1.07)">1.2</text>
<circle cx="620" cy="114.8" r="3.7" fill="#f8766d"/>
<text font-size="7.4" text-anchor="start" fill="#222" transform="translate(628.5 117.5) scale(1 1.07)">1.4</text>
<circle cx="620" cy="125.2" r="4.2" fill="#f8766d"/>
<text font-size="7.4" text-anchor="start" fill="#222" transform="translate(628.5 127.9) scale(1 1.07)">1.6</text>
<rect x="45" y="358.3" width="12.8" height="0.3" fill="#8d8d8d"/>
<rect x="64.8" y="286.8" width="12.8" height="71.8" fill="#8d8d8d"/>
<rect x="84.2" y="292.4" width="12.8" height="66.2" fill="#8d8d8d"/>
<circle cx="49.2" cy="358.2" r="1.4" fill="#111"/>
<circle cx="53.8" cy="358.2" r="1.4" fill="#111"/>
<line x1="71.2" y1="283" x2="71.2" y2="290.5" stroke="#222" stroke-width="1.0"/>
<line x1="68.4" y1="283" x2="74" y2="283" stroke="#222" stroke-width="1.0"/>
<line x1="68.4" y1="290.5" x2="74" y2="290.5" stroke="#222" stroke-width="1.0"/>
<path d="M71.2 286L69.3 289.4L73.1 289.4Z" fill="#111"/>
<line x1="90.6" y1="288.5" x2="90.6" y2="296.5" stroke="#222" stroke-width="1.0"/>
<line x1="87.8" y1="288.5" x2="93.4" y2="288.5" stroke="#222" stroke-width="1.0"/>
<line x1="87.8" y1="296.5" x2="93.4" y2="296.5" stroke="#222" stroke-width="1.0"/>
<path d="M90.6 292L88.7 295.4L92.5 295.4Z" fill="#111"/>
<line x1="37.7" y1="260.9" x2="37.7" y2="359.1" stroke="#111" stroke-width="1.15"/>
<line x1="37.2" y1="358.6" x2="103" y2="358.6" stroke="#111" stroke-width="1.15"/>
<line x1="33.9" y1="358.6" x2="37.7" y2="358.6" stroke="#111" stroke-width="1.15"/>
<text font-size="7.2" text-anchor="end" fill="#000" font-weight="bold" transform="translate(32.7 361.2) scale(1 1.07)">0</text>
<line x1="33.9" y1="326" x2="37.7" y2="326" stroke="#111" stroke-width="1.15"/>
<text font-size="7.2" text-anchor="end" fill="#000" font-weight="bold" transform="translate(32.7 328.6) scale(1 1.07)">5</text>
<line x1="33.9" y1="293.3" x2="37.7" y2="293.3" stroke="#111" stroke-width="1.15"/>
<text font-size="7.2" text-anchor="end" fill="#000" font-weight="bold" transform="translate(32.7 295.9) scale(1 1.07)">10</text>
<line x1="33.9" y1="260.9" x2="37.7" y2="260.9" stroke="#111" stroke-width="1.15"/>
<text font-size="7.2" text-anchor="end" fill="#000" font-weight="bold" transform="translate(32.7 263.5) scale(1 1.07)">15</text>
<line x1="51.4" y1="358.6" x2="51.4" y2="362.1" stroke="#111" stroke-width="1.15"/>
<text font-size="7.5" text-anchor="middle" fill="#000" font-weight="bold" transform="translate(51.4 370.9) scale(1 1.07)">WT</text>
<line x1="71.2" y1="358.6" x2="71.2" y2="362.1" stroke="#111" stroke-width="1.15"/>
<text font-size="7.5" text-anchor="middle" fill="#000" font-weight="bold" transform="translate(71.2 370.9) scale(1 1.07)">C8</text>
<line x1="90.6" y1="358.6" x2="90.6" y2="362.1" stroke="#111" stroke-width="1.15"/>
<text font-size="7.5" text-anchor="middle" fill="#000" font-weight="bold" transform="translate(90.6 370.9) scale(1 1.07)">C35</text>
<path d="M51.4 277L51.4 270.8L71.5 270.8L71.5 277" fill="none" stroke="#111" stroke-width="1.15"/>
<text font-size="11" text-anchor="middle" fill="#000" font-weight="bold" transform="translate(61.5 270.4) scale(1 1.07)">***</text>
<path d="M51.4 259.6L51.4 253.4L90.8 253.4L90.8 259.6" fill="none" stroke="#111" stroke-width="1.15"/>
<text font-size="11" text-anchor="middle" fill="#000" font-weight="bold" transform="translate(71.1 252.8) scale(1 1.07)">***</text>
<text font-size="9.3" text-anchor="middle" fill="#000" font-weight="bold" transform="translate(71 234.1) scale(1 1.07)">GM-CSF</text>
<text font-size="8.35" text-anchor="middle" fill="#000" font-weight="bold" transform="translate(19.9 309.5) rotate(-90) scale(0.933 1)">pg/mL</text>
<rect x="189" y="351.7" width="13" height="7" fill="#8d8d8d"/>
<rect x="208.5" y="285.2" width="13" height="73.5" fill="#8d8d8d"/>
<rect x="228" y="270" width="13" height="88.7" fill="#8d8d8d"/>
<circle cx="193" cy="352" r="1.4" fill="#111"/>
<circle cx="198.2" cy="351.2" r="1.4" fill="#111"/>
<circle cx="212.5" cy="285.2" r="1.4" fill="#111"/>
<circle cx="217.7" cy="285.2" r="1.4" fill="#111"/>
<line x1="234.5" y1="268" x2="234.5" y2="272" stroke="#222" stroke-width="1.0"/>
<line x1="231.7" y1="268" x2="237.3" y2="268" stroke="#222" stroke-width="1.0"/>
<line x1="231.7" y1="272" x2="237.3" y2="272" stroke="#222" stroke-width="1.0"/>
<circle cx="232" cy="271.5" r="1.4" fill="#111"/>
<circle cx="237.2" cy="269" r="1.4" fill="#111"/>
<line x1="182.6" y1="261.6" x2="182.6" y2="359.1" stroke="#111" stroke-width="1.15"/>
<line x1="182.2" y1="358.7" x2="247.2" y2="358.7" stroke="#111" stroke-width="1.15"/>
<line x1="178.8" y1="358.7" x2="182.6" y2="358.7" stroke="#111" stroke-width="1.15"/>
<text font-size="7.2" text-anchor="end" fill="#000" font-weight="bold" transform="translate(177.6 361.3) scale(1 1.07)">0</text>
<line x1="178.8" y1="339.3" x2="182.6" y2="339.3" stroke="#111" stroke-width="1.15"/>
<text font-size="7.2" text-anchor="end" fill="#000" font-weight="bold" transform="translate(177.6 341.9) scale(1 1.07)">500</text>
<line x1="178.8" y1="320" x2="182.6" y2="320" stroke="#111" stroke-width="1.15"/>
<text font-size="7.2" text-anchor="end" fill="#000" font-weight="bold" transform="translate(177.6 322.6) scale(1 1.07)">1000</text>
<line x1="178.8" y1="300.6" x2="182.6" y2="300.6" stroke="#111" stroke-width="1.15"/>
<text font-size="7.2" text-anchor="end" fill="#000" font-weight="bold" transform="translate(177.6 303.2) scale(1 1.07)">1500</text>
<line x1="178.8" y1="281.3" x2="182.6" y2="281.3" stroke="#111" stroke-width="1.15"/>
<text font-size="7.2" text-anchor="end" fill="#000" font-weight="bold" transform="translate(177.6 283.9) scale(1 1.07)">2000</text>
<line x1="178.8" y1="261.6" x2="182.6" y2="261.6" stroke="#111" stroke-width="1.15"/>
<text font-size="7.2" text-anchor="end" fill="#000" font-weight="bold" transform="translate(177.6 264.2) scale(1 1.07)">2500</text>
<line x1="195.5" y1="358.7" x2="195.5" y2="362.2" stroke="#111" stroke-width="1.15"/>
<text font-size="7.5" text-anchor="middle" fill="#000" font-weight="bold" transform="translate(195.5 371.3) scale(1 1.07)">WT</text>
<line x1="215" y1="358.7" x2="215" y2="362.2" stroke="#111" stroke-width="1.15"/>
<text font-size="7.5" text-anchor="middle" fill="#000" font-weight="bold" transform="translate(215 371.3) scale(1 1.07)">C8</text>
<line x1="234.5" y1="358.7" x2="234.5" y2="362.2" stroke="#111" stroke-width="1.15"/>
<text font-size="7.5" text-anchor="middle" fill="#000" font-weight="bold" transform="translate(234.5 371.3) scale(1 1.07)">C35</text>
<path d="M195.2 277L195.2 270.8L215 270.8L215 277" fill="none" stroke="#111" stroke-width="1.15"/>
<text font-size="11" text-anchor="middle" fill="#000" font-weight="bold" transform="translate(205.1 271.2) scale(1 1.07)">****</text>
<path d="M195.2 259L195.2 253L234.3 253L234.3 259" fill="none" stroke="#111" stroke-width="1.15"/>
<text font-size="11" text-anchor="middle" fill="#000" font-weight="bold" transform="translate(214.8 253.1) scale(1 1.07)">****</text>
<text font-size="9.3" text-anchor="middle" fill="#000" font-weight="bold" transform="translate(214.4 234.9) scale(1 1.07)">MCP-1</text>
<text font-size="8.35" text-anchor="middle" fill="#000" font-weight="bold" transform="translate(155.7 310.2) rotate(-90) scale(0.933 1)">pg/mL</text>
<rect x="336.6" y="323.7" width="13" height="34.7" fill="#8d8d8d"/>
<rect x="356" y="294.4" width="13" height="64" fill="#8d8d8d"/>
<rect x="374.9" y="278.5" width="13" height="79.9" fill="#8d8d8d"/>
<circle cx="340.6" cy="324.2" r="1.4" fill="#111"/>
<circle cx="345.8" cy="323.2" r="1.4" fill="#111"/>
<line x1="362.5" y1="292" x2="362.5" y2="297" stroke="#222" stroke-width="1.0"/>
<line x1="359.7" y1="292" x2="365.3" y2="292" stroke="#222" stroke-width="1.0"/>
<line x1="359.7" y1="297" x2="365.3" y2="297" stroke="#222" stroke-width="1.0"/>
<circle cx="360" cy="295.5" r="1.4" fill="#111"/>
<circle cx="365.2" cy="293.2" r="1.4" fill="#111"/>
<circle cx="378.9" cy="278.8" r="1.4" fill="#111"/>
<circle cx="384.1" cy="278.2" r="1.4" fill="#111"/>
<line x1="330.5" y1="261.8" x2="330.5" y2="358.8" stroke="#111" stroke-width="1.15"/>
<line x1="330.1" y1="358.4" x2="394.2" y2="358.4" stroke="#111" stroke-width="1.15"/>
<line x1="326.7" y1="358.4" x2="330.5" y2="358.4" stroke="#111" stroke-width="1.15"/>
<text font-size="7.2" text-anchor="end" fill="#000" font-weight="bold" transform="translate(325.5 361) scale(1 1.07)">0</text>
<line x1="326.7" y1="334.6" x2="330.5" y2="334.6" stroke="#111" stroke-width="1.15"/>
<text font-size="7.2" text-anchor="end" fill="#000" font-weight="bold" transform="translate(325.5 337.2) scale(1 1.07)">5000</text>
<line x1="326.7" y1="310.3" x2="330.5" y2="310.3" stroke="#111" stroke-width="1.15"/>
<text font-size="7.2" text-anchor="end" fill="#000" font-weight="bold" transform="translate(325.5 312.9) scale(1 1.07)">10000</text>
<line x1="326.7" y1="286" x2="330.5" y2="286" stroke="#111" stroke-width="1.15"/>
<text font-size="7.2" text-anchor="end" fill="#000" font-weight="bold" transform="translate(325.5 288.6) scale(1 1.07)">15000</text>
<line x1="326.7" y1="261.8" x2="330.5" y2="261.8" stroke="#111" stroke-width="1.15"/>
<text font-size="7.2" text-anchor="end" fill="#000" font-weight="bold" transform="translate(325.5 264.4) scale(1 1.07)">20000</text>
<line x1="343.1" y1="358.4" x2="343.1" y2="361.9" stroke="#111" stroke-width="1.15"/>
<text font-size="7.5" text-anchor="middle" fill="#000" font-weight="bold" transform="translate(343.1 370.7) scale(1 1.07)">WT</text>
<line x1="362.5" y1="358.4" x2="362.5" y2="361.9" stroke="#111" stroke-width="1.15"/>
<text font-size="7.5" text-anchor="middle" fill="#000" font-weight="bold" transform="translate(362.5 370.7) scale(1 1.07)">C8</text>
<line x1="381.4" y1="358.4" x2="381.4" y2="361.9" stroke="#111" stroke-width="1.15"/>
<text font-size="7.5" text-anchor="middle" fill="#000" font-weight="bold" transform="translate(381.4 370.7) scale(1 1.07)">C35</text>
<path d="M343 275.5L343 269.8L362.5 269.8L362.5 275.5" fill="none" stroke="#111" stroke-width="1.15"/>
<text font-size="11" text-anchor="middle" fill="#000" font-weight="bold" transform="translate(352.8 269.2) scale(1 1.07)">***</text>
<path d="M343 258.2L343 252.4L381.6 252.4L381.6 258.2" fill="none" stroke="#111" stroke-width="1.15"/>
<text font-size="11" text-anchor="middle" fill="#000" font-weight="bold" transform="translate(362.3 251.8) scale(1 1.07)">****</text>
<text font-size="9.3" text-anchor="middle" fill="#000" font-weight="bold" transform="translate(362.5 233.7) scale(1 1.07)">CXCL8</text>
<text font-size="8.35" text-anchor="middle" fill="#000" font-weight="bold" transform="translate(300.8 310.2) rotate(-90) scale(0.933 1)">pg/mL</text>
<rect x="485.1" y="357.2" width="13" height="1" fill="#8d8d8d"/>
<rect x="504.3" y="354.5" width="13" height="3.7" fill="#8d8d8d"/>
<rect x="523.5" y="287.5" width="13" height="70.7" fill="#8d8d8d"/>
<circle cx="489.1" cy="357.2" r="1.4" fill="#111"/>
<circle cx="494.3" cy="357.2" r="1.4" fill="#111"/>
<circle cx="508.3" cy="354.3" r="1.4" fill="#111"/>
<circle cx="513.5" cy="354.3" r="1.4" fill="#111"/>
<line x1="530" y1="283.5" x2="530" y2="291.2" stroke="#222" stroke-width="1.0"/>
<line x1="527.2" y1="283.5" x2="532.8" y2="283.5" stroke="#222" stroke-width="1.0"/>
<line x1="527.2" y1="291.2" x2="532.8" y2="291.2" stroke="#222" stroke-width="1.0"/>
<path d="M530 286.5L528.1 289.9L531.9 289.9Z" fill="#111"/>
<line x1="478.5" y1="261.2" x2="478.5" y2="358.6" stroke="#111" stroke-width="1.15"/>
<line x1="478.1" y1="358.2" x2="542.5" y2="358.2" stroke="#111" stroke-width="1.15"/>
<line x1="474.7" y1="358.2" x2="478.5" y2="358.2" stroke="#111" stroke-width="1.15"/>
<text font-size="7.2" text-anchor="end" fill="#000" font-weight="bold" transform="translate(473.5 360.8) scale(1 1.07)">0</text>
<line x1="474.7" y1="333.9" x2="478.5" y2="333.9" stroke="#111" stroke-width="1.15"/>
<text font-size="7.2" text-anchor="end" fill="#000" font-weight="bold" transform="translate(473.5 336.5) scale(1 1.07)">100</text>
<line x1="474.7" y1="309.5" x2="478.5" y2="309.5" stroke="#111" stroke-width="1.15"/>
<text font-size="7.2" text-anchor="end" fill="#000" font-weight="bold" transform="translate(473.5 312.1) scale(1 1.07)">200</text>
<line x1="474.7" y1="285.5" x2="478.5" y2="285.5" stroke="#111" stroke-width="1.15"/>
<text font-size="7.2" text-anchor="end" fill="#000" font-weight="bold" transform="translate(473.5 288.1) scale(1 1.07)">300</text>
<line x1="474.7" y1="261.2" x2="478.5" y2="261.2" stroke="#111" stroke-width="1.15"/>
<text font-size="7.2" text-anchor="end" fill="#000" font-weight="bold" transform="translate(473.5 263.8) scale(1 1.07)">400</text>
<line x1="491.6" y1="358.2" x2="491.6" y2="361.7" stroke="#111" stroke-width="1.15"/>
<text font-size="7.5" text-anchor="middle" fill="#000" font-weight="bold" transform="translate(491.6 370.7) scale(1 1.07)">WT</text>
<line x1="510.8" y1="358.2" x2="510.8" y2="361.7" stroke="#111" stroke-width="1.15"/>
<text font-size="7.5" text-anchor="middle" fill="#000" font-weight="bold" transform="translate(510.8 370.7) scale(1 1.07)">C8</text>
<line x1="530" y1="358.2" x2="530" y2="361.7" stroke="#111" stroke-width="1.15"/>
<text font-size="7.5" text-anchor="middle" fill="#000" font-weight="bold" transform="translate(530 370.7) scale(1 1.07)">C35</text>
<path d="M491.4 277.5L491.4 272L510.7 272L510.7 277.5" fill="none" stroke="#111" stroke-width="1.15"/>
<text font-size="8.3" text-anchor="middle" fill="#222" transform="translate(501 266.8) scale(1 1.07)">ns</text>
<path d="M491.4 256.4L491.4 250.6L530 250.6L530 256.4" fill="none" stroke="#111" stroke-width="1.15"/>
<text font-size="11" text-anchor="middle" fill="#000" font-weight="bold" transform="translate(510.7 250.6) scale(1 1.07)">***</text>
<text font-size="9.3" text-anchor="middle" fill="#000" font-weight="bold" transform="translate(510.7 233.7) scale(1 1.07)">IL-6</text>
<text font-size="8.35" text-anchor="middle" fill="#000" font-weight="bold" transform="translate(456.4 310.2) rotate(-90) scale(0.933 1)">pg/mL</text>
<rect x="49.9" y="516.6" width="14.8" height="3.8" fill="#8d8d8d"/>
<rect x="71.4" y="507.5" width="14.6" height="12.9" fill="#8d8d8d"/>
<rect x="92.9" y="431.6" width="14.4" height="88.8" fill="#8d8d8d"/>
<line x1="78.7" y1="505.3" x2="78.7" y2="507.5" stroke="#222" stroke-width="1.0"/>
<line x1="75.9" y1="505.3" x2="81.5" y2="505.3" stroke="#222" stroke-width="1.0"/>
<line x1="100.1" y1="429.6" x2="100.1" y2="431.6" stroke="#222" stroke-width="1.0"/>
<line x1="97.3" y1="429.6" x2="102.9" y2="429.6" stroke="#222" stroke-width="1.0"/>
<line x1="43.6" y1="414.5" x2="43.6" y2="520.9" stroke="#111" stroke-width="1.15"/>
<line x1="43.1" y1="520.4" x2="113.9" y2="520.4" stroke="#111" stroke-width="1.15"/>
<line x1="39.8" y1="520.4" x2="43.6" y2="520.4" stroke="#111" stroke-width="1.15"/>
<text font-size="7.8" text-anchor="end" fill="#000" font-weight="bold" transform="translate(38.6 523.2) scale(1 1.07)">0</text>
<line x1="39.8" y1="499.5" x2="43.6" y2="499.5" stroke="#111" stroke-width="1.15"/>
<text font-size="7.8" text-anchor="end" fill="#000" font-weight="bold" transform="translate(38.6 502.3) scale(1 1.07)">5</text>
<line x1="39.8" y1="478.3" x2="43.6" y2="478.3" stroke="#111" stroke-width="1.15"/>
<text font-size="7.8" text-anchor="end" fill="#000" font-weight="bold" transform="translate(38.6 481.1) scale(1 1.07)">10</text>
<line x1="39.8" y1="457" x2="43.6" y2="457" stroke="#111" stroke-width="1.15"/>
<text font-size="7.8" text-anchor="end" fill="#000" font-weight="bold" transform="translate(38.6 459.8) scale(1 1.07)">15</text>
<line x1="39.8" y1="435.8" x2="43.6" y2="435.8" stroke="#111" stroke-width="1.15"/>
<text font-size="7.8" text-anchor="end" fill="#000" font-weight="bold" transform="translate(38.6 438.6) scale(1 1.07)">20</text>
<line x1="39.8" y1="414.5" x2="43.6" y2="414.5" stroke="#111" stroke-width="1.15"/>
<text font-size="7.8" text-anchor="end" fill="#000" font-weight="bold" transform="translate(38.6 417.3) scale(1 1.07)">25</text>
<line x1="57.3" y1="520.4" x2="57.3" y2="523.9" stroke="#111" stroke-width="1.15"/>
<text font-size="7.9" text-anchor="middle" fill="#000" font-weight="bold" transform="translate(57.3 533) scale(1 1.07)">WT</text>
<line x1="78.7" y1="520.4" x2="78.7" y2="523.9" stroke="#111" stroke-width="1.15"/>
<text font-size="7.9" text-anchor="middle" fill="#000" font-weight="bold" transform="translate(78.7 533) scale(1 1.07)">C8</text>
<line x1="100.1" y1="520.4" x2="100.1" y2="523.9" stroke="#111" stroke-width="1.15"/>
<text font-size="7.9" text-anchor="middle" fill="#000" font-weight="bold" transform="translate(100.1 533) scale(1 1.07)">C35</text>
<path d="M57.3 446.4L57.3 439.8L78.7 439.8L78.7 446.4" fill="none" stroke="#111" stroke-width="1.15"/>
<text font-size="12" text-anchor="middle" fill="#000" font-weight="bold" transform="translate(68 439.4) scale(1 1.07)">**</text>
<path d="M57.3 425.2L57.3 418.3L100.2 418.3L100.2 425.2" fill="none" stroke="#111" stroke-width="1.15"/>
<text font-size="12" text-anchor="middle" fill="#000" font-weight="bold" transform="translate(78.8 418.4) scale(1 1.07)">****</text>
<text font-size="9.8" text-anchor="middle" fill="#000" font-weight="bold" font-style="italic" transform="translate(79.3 399.1) scale(1 1.07)">CXCL8</text>
<text font-size="9.1" text-anchor="middle" fill="#000" font-weight="bold" transform="translate(24.1 467) rotate(-90) scale(0.933 1)">Fold (normalized by GAPDH)</text>
<rect x="166.1" y="518" width="14" height="0.9" fill="#8d8d8d"/>
<rect x="187.3" y="515.1" width="14.2" height="3.8" fill="#8d8d8d"/>
<rect x="208.8" y="444.9" width="14" height="74" fill="#8d8d8d"/>
<line x1="173.1" y1="517.2" x2="173.1" y2="518" stroke="#222" stroke-width="1.0"/>
<line x1="170.3" y1="517.2" x2="175.9" y2="517.2" stroke="#222" stroke-width="1.0"/>
<line x1="194.4" y1="512" x2="194.4" y2="515.1" stroke="#222" stroke-width="1.0"/>
<line x1="191.6" y1="512" x2="197.2" y2="512" stroke="#222" stroke-width="1.0"/>
<line x1="215.8" y1="441" x2="215.8" y2="444.9" stroke="#222" stroke-width="1.0"/>
<line x1="213" y1="441" x2="218.6" y2="441" stroke="#222" stroke-width="1.0"/>
<line x1="159.6" y1="412.6" x2="159.6" y2="519.4" stroke="#111" stroke-width="1.15"/>
<line x1="159.2" y1="518.9" x2="229.7" y2="518.9" stroke="#111" stroke-width="1.15"/>
<line x1="155.8" y1="518.9" x2="159.6" y2="518.9" stroke="#111" stroke-width="1.15"/>
<text font-size="7.8" text-anchor="end" fill="#000" font-weight="bold" transform="translate(154.6 521.7) scale(1 1.07)">0</text>
<line x1="155.8" y1="492.3" x2="159.6" y2="492.3" stroke="#111" stroke-width="1.15"/>
<text font-size="7.8" text-anchor="end" fill="#000" font-weight="bold" transform="translate(154.6 495.1) scale(1 1.07)">20</text>
<line x1="155.8" y1="465.8" x2="159.6" y2="465.8" stroke="#111" stroke-width="1.15"/>
<text font-size="7.8" text-anchor="end" fill="#000" font-weight="bold" transform="translate(154.6 468.6) scale(1 1.07)">40</text>
<line x1="155.8" y1="439.2" x2="159.6" y2="439.2" stroke="#111" stroke-width="1.15"/>
<text font-size="7.8" text-anchor="end" fill="#000" font-weight="bold" transform="translate(154.6 442) scale(1 1.07)">60</text>
<line x1="155.8" y1="412.6" x2="159.6" y2="412.6" stroke="#111" stroke-width="1.15"/>
<text font-size="7.8" text-anchor="end" fill="#000" font-weight="bold" transform="translate(154.6 415.4) scale(1 1.07)">80</text>
<line x1="173.1" y1="518.9" x2="173.1" y2="522.4" stroke="#111" stroke-width="1.15"/>
<text font-size="7.9" text-anchor="middle" fill="#000" font-weight="bold" transform="translate(173.1 532.8) scale(1 1.07)">WT</text>
<line x1="194.4" y1="518.9" x2="194.4" y2="522.4" stroke="#111" stroke-width="1.15"/>
<text font-size="7.9" text-anchor="middle" fill="#000" font-weight="bold" transform="translate(194.4 532.8) scale(1 1.07)">C8</text>
<line x1="215.8" y1="518.9" x2="215.8" y2="522.4" stroke="#111" stroke-width="1.15"/>
<text font-size="7.9" text-anchor="middle" fill="#000" font-weight="bold" transform="translate(215.8 532.8) scale(1 1.07)">C35</text>
<path d="M173.1 446.4L173.1 439.2L194.4 439.2L194.4 446.4" fill="none" stroke="#111" stroke-width="1.15"/>
<text font-size="8.3" text-anchor="middle" fill="#222" transform="translate(183.8 433.4) scale(1 1.07)">ns</text>
<path d="M173.1 422.7L173.1 416L215.8 416L215.8 422.7" fill="none" stroke="#111" stroke-width="1.15"/>
<text font-size="12" text-anchor="middle" fill="#000" font-weight="bold" transform="translate(194.4 415.8) scale(1 1.07)">***</text>
<text font-size="9.8" text-anchor="middle" fill="#000" font-weight="bold" font-style="italic" transform="translate(195 397.2) scale(1 1.07)">IL6</text>
<text font-size="9.1" text-anchor="middle" fill="#000" font-weight="bold" transform="translate(139.3 466) rotate(-90) scale(0.933 1)">Fold (normalized by GAPDH)</text>
<rect x="325.2" y="488.7" width="13.2" height="36.8" fill="#8d8d8d"/>
<rect x="346.4" y="451.2" width="13.2" height="74.3" fill="#8d8d8d"/>
<line x1="310.9" y1="523.3" x2="310.9" y2="525.5" stroke="#222" stroke-width="1.0"/>
<line x1="308.1" y1="523.3" x2="313.7" y2="523.3" stroke="#222" stroke-width="1.0"/>
<line x1="331.8" y1="461.2" x2="331.8" y2="488.7" stroke="#222" stroke-width="1.0"/>
<line x1="329" y1="461.2" x2="334.6" y2="461.2" stroke="#222" stroke-width="1.0"/>
<line x1="353" y1="448.7" x2="353" y2="451.2" stroke="#222" stroke-width="1.0"/>
<line x1="350.2" y1="448.7" x2="355.8" y2="448.7" stroke="#222" stroke-width="1.0"/>
<line x1="296.2" y1="420.2" x2="296.2" y2="526" stroke="#111" stroke-width="1.15"/>
<line x1="295.8" y1="525.5" x2="367.3" y2="525.5" stroke="#111" stroke-width="1.15"/>
<line x1="292.4" y1="525.5" x2="296.2" y2="525.5" stroke="#111" stroke-width="1.15"/>
<text font-size="7.8" text-anchor="end" fill="#000" font-weight="bold" transform="translate(291.2 528.3) scale(1 1.07)">0</text>
<line x1="292.4" y1="490.4" x2="296.2" y2="490.4" stroke="#111" stroke-width="1.15"/>
<text font-size="7.8" text-anchor="end" fill="#000" font-weight="bold" transform="translate(291.2 493.2) scale(1 1.07)">50</text>
<line x1="292.4" y1="455.3" x2="296.2" y2="455.3" stroke="#111" stroke-width="1.15"/>
<text font-size="7.8" text-anchor="end" fill="#000" font-weight="bold" transform="translate(291.2 458.1) scale(1 1.07)">100</text>
<line x1="292.4" y1="420.2" x2="296.2" y2="420.2" stroke="#111" stroke-width="1.15"/>
<text font-size="7.8" text-anchor="end" fill="#000" font-weight="bold" transform="translate(291.2 423) scale(1 1.07)">150</text>
<line x1="310.9" y1="525.5" x2="310.9" y2="529" stroke="#111" stroke-width="1.15"/>
<text font-size="7.9" text-anchor="middle" fill="#000" font-weight="bold" transform="translate(310.9 539.3) scale(1 1.07)">WT</text>
<line x1="331.8" y1="525.5" x2="331.8" y2="529" stroke="#111" stroke-width="1.15"/>
<text font-size="7.9" text-anchor="middle" fill="#000" font-weight="bold" transform="translate(331.8 539.3) scale(1 1.07)">C8</text>
<line x1="353" y1="525.5" x2="353" y2="529" stroke="#111" stroke-width="1.15"/>
<text font-size="7.9" text-anchor="middle" fill="#000" font-weight="bold" transform="translate(353 539.3) scale(1 1.07)">C35</text>
<path d="M310.9 452.5L310.9 445.8L331.8 445.8L331.8 452.5" fill="none" stroke="#111" stroke-width="1.15"/>
<text font-size="8.3" text-anchor="middle" fill="#222" transform="translate(321.4 440.6) scale(1 1.07)">ns</text>
<path d="M310.9 430.9L310.9 424L353 424L353 430.9" fill="none" stroke="#111" stroke-width="1.15"/>
<text font-size="12" text-anchor="middle" fill="#000" font-weight="bold" transform="translate(331.9 424) scale(1 1.07)">*</text>
<text font-size="9.8" text-anchor="middle" fill="#000" font-weight="bold" font-style="italic" transform="translate(331.8 404) scale(1 1.07)">CXCR2</text>
<text font-size="9.1" text-anchor="middle" fill="#000" font-weight="bold" transform="translate(271.5 473) rotate(-90) scale(0.933 1)">Fold (normalized by GAPDH)</text>
<rect x="421.8" y="454.6" width="14.2" height="70.8" fill="#8d8d8d"/>
<rect x="442.9" y="505.8" width="14.6" height="19.6" fill="#8d8d8d"/>
<rect x="464.1" y="493.9" width="14.6" height="31.5" fill="#8d8d8d"/>
<line x1="450.2" y1="498.6" x2="450.2" y2="505.8" stroke="#222" stroke-width="1.0"/>
<line x1="447.4" y1="498.6" x2="453" y2="498.6" stroke="#222" stroke-width="1.0"/>
<line x1="471.4" y1="481.5" x2="471.4" y2="493.9" stroke="#222" stroke-width="1.0"/>
<line x1="468.6" y1="481.5" x2="474.2" y2="481.5" stroke="#222" stroke-width="1.0"/>
<line x1="414.8" y1="419.3" x2="414.8" y2="525.9" stroke="#111" stroke-width="1.15"/>
<line x1="414.4" y1="525.4" x2="487" y2="525.4" stroke="#111" stroke-width="1.15"/>
<line x1="411" y1="525.4" x2="414.8" y2="525.4" stroke="#111" stroke-width="1.15"/>
<text font-size="7.8" text-anchor="end" fill="#000" font-weight="bold" transform="translate(409.8 528.2) scale(1 1.07)">0.0</text>
<line x1="411" y1="490" x2="414.8" y2="490" stroke="#111" stroke-width="1.15"/>
<text font-size="7.8" text-anchor="end" fill="#000" font-weight="bold" transform="translate(409.8 492.8) scale(1 1.07)">0.5</text>
<line x1="411" y1="454.6" x2="414.8" y2="454.6" stroke="#111" stroke-width="1.15"/>
<text font-size="7.8" text-anchor="end" fill="#000" font-weight="bold" transform="translate(409.8 457.4) scale(1 1.07)">1.0</text>
<line x1="411" y1="419.3" x2="414.8" y2="419.3" stroke="#111" stroke-width="1.15"/>
<text font-size="7.8" text-anchor="end" fill="#000" font-weight="bold" transform="translate(409.8 422.1) scale(1 1.07)">1.5</text>
<line x1="428.9" y1="525.4" x2="428.9" y2="528.9" stroke="#111" stroke-width="1.15"/>
<text font-size="7.9" text-anchor="middle" fill="#000" font-weight="bold" transform="translate(428.9 538.8) scale(1 1.07)">WT</text>
<line x1="450.2" y1="525.4" x2="450.2" y2="528.9" stroke="#111" stroke-width="1.15"/>
<text font-size="7.9" text-anchor="middle" fill="#000" font-weight="bold" transform="translate(450.2 538.8) scale(1 1.07)">C8</text>
<line x1="471.4" y1="525.4" x2="471.4" y2="528.9" stroke="#111" stroke-width="1.15"/>
<text font-size="7.9" text-anchor="middle" fill="#000" font-weight="bold" transform="translate(471.4 538.8) scale(1 1.07)">C35</text>
<path d="M428.8 448.3L428.8 441.3L450.3 441.3L450.3 448.3" fill="none" stroke="#111" stroke-width="1.15"/>
<text font-size="12" text-anchor="middle" fill="#000" font-weight="bold" transform="translate(439.6 441.4) scale(1 1.07)">*</text>
<path d="M428.8 429.7L428.8 422.7L471.5 422.7L471.5 429.7" fill="none" stroke="#111" stroke-width="1.15"/>
<text font-size="12" text-anchor="middle" fill="#000" font-weight="bold" transform="translate(450.1 422.1) scale(1 1.07)">*</text>
<text font-size="9.8" text-anchor="middle" fill="#000" font-weight="bold" font-style="italic" transform="translate(450.4 403.5) scale(1 1.07)">IL6R</text>
<text font-size="9.1" text-anchor="middle" fill="#000" font-weight="bold" transform="translate(392.4 472.5) rotate(-90) scale(0.933 1)">Fold (normalized by GAPDH)</text>
<defs><filter id="bl1" x="-20%" y="-50%" width="140%" height="200%"><feGaussianBlur stdDeviation="0.9"/></filter><filter id="bl2" x="-20%" y="-50%" width="140%" height="200%"><feGaussianBlur stdDeviation="1.6"/></filter></defs>
<text font-size="11.5" text-anchor="middle" fill="#111" transform="translate(533 422.4) scale(1 1.07)">WT</text>
<text font-size="11.5" text-anchor="middle" fill="#111" transform="translate(574.6 422.4) scale(1 1.07)">C8</text>
<text font-size="11.5" text-anchor="middle" fill="#111" transform="translate(614.7 422.4) scale(1 1.07)">C35</text>
<rect x="512.8" y="431.8" width="123.4" height="28.1" fill="#ececec"/>
<rect x="518.5" y="431.8" width="30.4" height="14" fill="#e9e9e9"/>
<rect x="518.5" y="445.8" width="30.4" height="14.1" fill="#dedede"/>
<rect x="559.7" y="431.8" width="30" height="14" fill="#e9e9e9"/>
<rect x="559.7" y="445.8" width="30" height="14.1" fill="#dedede"/>
<rect x="600.1" y="431.8" width="29.4" height="14" fill="#e9e9e9"/>
<rect x="600.1" y="445.8" width="29.4" height="14.1" fill="#dedede"/>
<rect x="549.9" y="431.8" width="8.8" height="28.1" fill="#f3f3f3" filter="url(#bl2)"/>
<rect x="590.7" y="431.8" width="8.4" height="28.1" fill="#f3f3f3" filter="url(#bl2)"/>
<g filter="url(#bl1)">
<rect x="520.5" y="444.8" width="27" height="3.8" fill="#585858"/>
<rect x="561.5" y="445.2" width="26.5" height="3.2" fill="#adadad"/>
<rect x="601.5" y="443.8" width="26" height="5.4" fill="#151515"/>
<path d="M625 444.5 L628.6 441 L629.4 441.5 L629 448.8 L625 448.8Z" fill="#151515"/>
<rect x="602" y="450.6" width="25" height="2" fill="#b5b5b5"/>
</g>
<rect x="512.8" y="465" width="123.4" height="27.5" fill="#f6f6f6"/>
<rect x="518.5" y="465" width="30.4" height="27.5" fill="#ebebeb"/>
<rect x="559.7" y="465" width="30" height="27.5" fill="#ebebeb"/>
<rect x="600.1" y="465" width="29.4" height="27.5" fill="#ebebeb"/>
<g filter="url(#bl1)">
<rect x="520.4" y="476.2" width="28" height="5.4" fill="#2c2c2c"/>
<rect x="561.2" y="475.9" width="28.5" height="6.2" fill="#0c0c0c"/>
<rect x="602" y="475.9" width="28.5" height="6.2" fill="#0c0c0c"/>
<path d="M626 476.5 L630.5 471.5 L631.5 472 L631 481.6 L626 481.6Z" fill="#0c0c0c"/>
</g>
<rect x="512.8" y="498.6" width="123.4" height="27.6" fill="#f4f4f4"/>
<rect x="516.5" y="498.6" width="34.4" height="27.6" fill="#f0f0f0"/>
<rect x="557.7" y="498.6" width="34" height="27.6" fill="#f0f0f0"/>
<rect x="598.1" y="498.6" width="33.4" height="27.6" fill="#f0f0f0"/>
<g filter="url(#bl1)">
<path d="M518 512.2 L547 512.0 L551 508.0 L551.8 508.6 L548 517.2 L518 517.6 Z" fill="#0a0a0a"/>
<path d="M558 512.2 L586.5 512.0 L590.5 508.0 L591.3 508.6 L587.5 517.2 L558 517.6 Z" fill="#0a0a0a"/>
<path d="M598.5 512.2 L626 512.0 L630 508.0 L630.8 508.6 L627 517.2 L598.5 517.6 Z" fill="#0a0a0a"/>
</g>
<text font-size="11.5" text-anchor="start" fill="#111" transform="translate(641 452.1) scale(1 1.07)">p-STAT3</text>
<text font-size="11.5" text-anchor="start" fill="#111" transform="translate(641.5 483.8) scale(1 1.07)">STAT3</text>
<text font-size="11.5" text-anchor="start" fill="#111" transform="translate(641.5 516.1) scale(1 1.07)">β-actin</text>
<defs><linearGradient id="hgP" gradientUnits="userSpaceOnUse" x1="28.5" x2="69.4" y1="0" y2="0"><stop offset="0" stop-color="#e8127f" stop-opacity="0.78"/><stop offset="0.4" stop-color="#e8127f" stop-opacity="0.85"/><stop offset="0.5" stop-color="#e8127f" stop-opacity="1"/><stop offset="0.6" stop-color="#e8127f" stop-opacity="0.85"/><stop offset="1" stop-color="#e8127f" stop-opacity="0.78"/></linearGradient><linearGradient id="hgM" gradientUnits="userSpaceOnUse" x1="73.1" x2="114.6" y1="0" y2="0"><stop offset="0" stop-color="#6a3fb8" stop-opacity="0.42"/><stop offset="0.4" stop-color="#6a3fb8" stop-opacity="0.55"/><stop offset="0.5" stop-color="#6a3fb8" stop-opacity="1"/><stop offset="0.6" stop-color="#6a3fb8" stop-opacity="0.55"/><stop offset="1" stop-color="#6a3fb8" stop-opacity="0.42"/></linearGradient><linearGradient id="hgM2" gradientUnits="userSpaceOnUse" x1="73.1" x2="114.6" y1="0" y2="0"><stop offset="0" stop-color="#6a3fb8" stop-opacity="0.75"/><stop offset="0.42" stop-color="#6a3fb8" stop-opacity="0.8"/><stop offset="0.5" stop-color="#6a3fb8" stop-opacity="1"/><stop offset="0.58" stop-color="#6a3fb8" stop-opacity="0.8"/><stop offset="1" stop-color="#6a3fb8" stop-opacity="0.75"/></linearGradient><linearGradient id="cbP" x1="0" x2="1" y1="0" y2="0"><stop offset="0" stop-color="#e8107e"/><stop offset="0.5" stop-color="#f47ab6"/><stop offset="1" stop-color="#ffffff"/></linearGradient><linearGradient id="cbM" x1="0" x2="1" y1="0" y2="0"><stop offset="0" stop-color="#3a04f0"/><stop offset="0.5" stop-color="#a48cf6"/><stop offset="1" stop-color="#ffffff"/></linearGradient></defs>
<rect x="28.5" y="626.3" width="40.9" height="116.2" fill="#fff"/>
<path d="M28.5 689.3h3.7v1.1h-3.7zM32.2 689.3h9.5v1.1h-9.5zM41.6 689.3h3.5v1.1h-3.5zM45 689.3h5.1v1.1h-5.1zM50 689.3h5.6v1.1h-5.6zM55.6 689.3h9.6v1.1h-9.6zM65.2 689.3h4.3v1.1h-4.3zM35.2 726.3h9.8v1.1h-9.8zM52.4 726.3h3.7v1.1h-3.7z" fill="url(#hgP)" fill-opacity="0.04"/>
<path d="M28.5 626.3h8.2v1.1h-8.2zM36.6 626.3h9.5v1.1h-9.5zM46.1 626.3h8.7v1.1h-8.7zM54.7 626.3h11.8v1.1h-11.8zM66.4 626.3h3v1.1h-3zM28.5 627.3h10.7v1.1h-10.7zM63.1 627.3h6.3v1.1h-6.3zM28.5 628.3h5.7v1.1h-5.7zM54.7 629.3h6.5v1.1h-6.5zM61.2 629.3h6.2v1.1h-6.2zM28.5 630.3h12.4v1.1h-12.4zM28.5 631.3h4v1.1h-4zM46.1 631.3h4.3v1.1h-4.3zM50.4 631.3h4.2v1.1h-4.2zM54.5 631.3h11.8v1.1h-11.8zM66.2 631.3h3.2v1.1h-3.2zM65.4 638.3h4v1.1h-4zM28.5 641.3h9.9v1.1h-9.9zM38.4 641.3h9.5v1.1h-9.5zM47.8 641.3h3.9v1.1h-3.9zM51.7 641.3h14v1.1h-14zM65.6 641.3h3.9v1.1h-3.9zM28.5 642.3h12.3v1.1h-12.3zM40.7 642.3h11.3v1.1h-11.3zM28.5 643.3h5.9v1.1h-5.9zM34.3 643.3h6.4v1.1h-6.4zM40.6 643.3h5.3v1.1h-5.3zM45.9 643.3h13v1.1h-13zM58.8 643.3h7.9v1.1h-7.9zM66.7 643.3h2.8v1.1h-2.8zM48.8 644.3h6.5v1.1h-6.5zM41.2 646.3h11.8v1.1h-11.8zM60.7 646.3h5.7v1.1h-5.7zM50.3 647.3h10.6v1.1h-10.6zM60.8 647.3h8.6v1.1h-8.6zM43.9 651.3h12.5v1.1h-12.5zM56.3 651.3h4v1.1h-4zM32.2 652.3h5v1.1h-5zM37.1 652.3h11.7v1.1h-11.7zM28.5 653.3h13.5v1.1h-13.5zM28.5 654.3h13v1.1h-13zM36.1 656.3h13.2v1.1h-13.2zM49.2 656.3h8.3v1.1h-8.3zM33.6 657.3h13.2v1.1h-13.2zM46.8 657.3h11.6v1.1h-11.6zM58.4 657.3h5.2v1.1h-5.2zM63.5 657.3h6v1.1h-6zM28.5 658.3h11.1v1.1h-11.1zM39.5 658.3h8.7v1.1h-8.7zM48.2 658.3h5.2v1.1h-5.2zM53.3 658.3h7.9v1.1h-7.9zM61.1 658.3h8.3v1.1h-8.3zM28.5 660.3h6.5v1.1h-6.5zM35 660.3h13.2v1.1h-13.2zM62.1 660.3h4.5v1.1h-4.5zM66.6 660.3h2.9v1.1h-2.9zM28.5 661.3h12.2v1.1h-12.2zM40.7 661.3h11.7v1.1h-11.7zM52.3 661.3h7.5v1.1h-7.5zM59.8 661.3h3.2v1.1h-3.2zM63 661.3h6.5v1.1h-6.5zM40.7 663.3h13.2v1.1h-13.2zM28.5 664.3h3.2v1.1h-3.2zM31.6 664.3h12.3v1.1h-12.3zM43.9 664.3h8v1.1h-8zM51.9 664.3h7.5v1.1h-7.5zM59.4 664.3h4.9v1.1h-4.9zM67.4 664.3h2.1v1.1h-2.1zM28.5 667.3h6.8v1.1h-6.8zM35.3 667.3h3.2v1.1h-3.2zM38.4 667.3h10.1v1.1h-10.1zM48.4 667.3h5.6v1.1h-5.6zM54 667.3h10.4v1.1h-10.4zM64.3 667.3h5.2v1.1h-5.2zM28.5 668.3h10.1v1.1h-10.1zM49.9 668.3h3.3v1.1h-3.3zM53.2 668.3h11.2v1.1h-11.2zM64.3 668.3h5.1v1.1h-5.1zM28.5 669.3h7.2v1.1h-7.2zM28.5 670.3h11.4v1.1h-11.4zM39.9 670.3h13.3v1.1h-13.3zM53.1 670.3h8.2v1.1h-8.2zM28.5 671.3h13.4v1.1h-13.4zM50.7 671.3h7.1v1.1h-7.1zM28.5 672.3h3.2v1.1h-3.2zM31.7 672.3h3.5v1.1h-3.5zM35.1 672.3h11.4v1.1h-11.4zM62.9 672.3h6.6v1.1h-6.6zM42.5 675.3h11.1v1.1h-11.1zM47.7 676.3h5.1v1.1h-5.1zM66.5 676.3h2.9v1.1h-2.9zM28.5 678.3h12.3v1.1h-12.3zM28.5 680.3h3.9v1.1h-3.9zM32.3 680.3h10.3v1.1h-10.3zM49 680.3h10.7v1.1h-10.7zM59.6 680.3h4.6v1.1h-4.6zM64.2 680.3h5.3v1.1h-5.3zM28.5 681.3h10.9v1.1h-10.9zM52.4 681.3h13.1v1.1h-13.1zM65.5 681.3h4v1.1h-4zM28.5 682.3h12.9v1.1h-12.9zM41.3 682.3h7v1.1h-7zM48.3 682.3h7v1.1h-7zM55.3 682.3h7.3v1.1h-7.3zM28.5 685.3h10.2v1.1h-10.2zM52.8 685.3h7.4v1.1h-7.4zM39.3 686.3h7.6v1.1h-7.6zM46.8 686.3h10.4v1.1h-10.4zM57.1 686.3h12.3v1.1h-12.3zM62.6 687.3h6.8v1.1h-6.8zM28.5 688.3h4.9v1.1h-4.9zM33.3 688.3h7.7v1.1h-7.7zM41 688.3h13.7v1.1h-13.7zM54.7 688.3h6.4v1.1h-6.4zM58.3 693.3h11.1v1.1h-11.1zM38 694.3h6.4v1.1h-6.4zM55.9 694.3h5.3v1.1h-5.3zM61.2 694.3h8.3v1.1h-8.3zM42.1 697.3h5.9v1.1h-5.9zM28.5 698.3h4.1v1.1h-4.1zM36.6 698.3h10.8v1.1h-10.8zM54.8 698.3h9.6v1.1h-9.6zM64.3 698.3h5.2v1.1h-5.2zM28.5 699.3h7.5v1.1h-7.5zM36 699.3h13.2v1.1h-13.2zM49.1 699.3h8.7v1.1h-8.7zM28.5 700.3h3.2v1.1h-3.2zM54.1 700.3h9.7v1.1h-9.7zM63.7 700.3h5.7v1.1h-5.7zM48 702.3h12.2v1.1h-12.2zM42.4 704.3h9.7v1.1h-9.7zM52 704.3h12.1v1.1h-12.1zM64.1 704.3h5.3v1.1h-5.3zM28.5 705.3h12.2v1.1h-12.2zM40.6 705.3h9.1v1.1h-9.1zM49.7 705.3h3.4v1.1h-3.4zM66.9 705.3h2.6v1.1h-2.6zM38 706.3h3.2v1.1h-3.2zM41.2 706.3h8.2v1.1h-8.2zM49.3 706.3h7.3v1.1h-7.3zM56.6 706.3h5v1.1h-5zM61.5 706.3h6v1.1h-6zM28.5 707.3h10.4v1.1h-10.4zM38.9 707.3h13.6v1.1h-13.6zM52.4 707.3h8.2v1.1h-8.2zM60.6 707.3h8.8v1.1h-8.8zM28.5 709.3h7.8v1.1h-7.8zM36.3 709.3h6.6v1.1h-6.6zM42.8 709.3h11v1.1h-11zM53.8 709.3h11.1v1.1h-11.1zM64.8 709.3h4.6v1.1h-4.6zM36.4 710.3h7.4v1.1h-7.4zM54.4 710.3h5.7v1.1h-5.7zM60.1 710.3h9.4v1.1h-9.4zM57.3 714.3h12.2v1.1h-12.2zM28.5 715.3h11v1.1h-11zM52.4 715.3h10.9v1.1h-10.9zM34.9 716.3h5.2v1.1h-5.2zM45.6 716.3h11.7v1.1h-11.7zM65.1 717.3h4.4v1.1h-4.4zM28.5 718.3h11.9v1.1h-11.9zM46.5 718.3h5.8v1.1h-5.8zM52.2 718.3h9.1v1.1h-9.1zM43.8 719.3h8.5v1.1h-8.5zM28.5 721.3h5.6v1.1h-5.6zM34.1 721.3h5.5v1.1h-5.5zM39.5 721.3h8.5v1.1h-8.5zM48 721.3h9.6v1.1h-9.6zM66.9 721.3h2.6v1.1h-2.6zM35.8 725.3h7.7v1.1h-7.7zM28.5 726.3h6.8v1.1h-6.8zM44.9 726.3h7.5v1.1h-7.5zM56 726.3h10.7v1.1h-10.7zM66.6 726.3h2.8v1.1h-2.8zM53.2 729.3h13v1.1h-13zM28.5 732.3h3.5v1.1h-3.5zM60.1 732.3h9.4v1.1h-9.4zM39.2 735.3h10.8v1.1h-10.8zM35.3 736.3h9.3v1.1h-9.3zM44.5 736.3h10.4v1.1h-10.4zM63.1 736.3h6.4v1.1h-6.4zM54.2 738.3h5.6v1.1h-5.6zM55.1 739.3h14.3v1.1h-14.3zM28.5 740.3h10.9v1.1h-10.9zM49.9 740.3h12.1v1.1h-12.1zM62 740.3h7.5v1.1h-7.5zM28.5 742.3h10.8v0.3h-10.8z" fill="url(#hgP)" fill-opacity="0.06"/>
<path d="M39.1 627.3h13.9v1.1h-13.9zM52.9 627.3h10.2v1.1h-10.2zM34.2 628.3h8.2v1.1h-8.2zM42.3 628.3h12.3v1.1h-12.3zM54.5 628.3h10.1v1.1h-10.1zM64.6 628.3h4.9v1.1h-4.9zM28.5 629.3h14v1.1h-14zM42.5 629.3h12.3v1.1h-12.3zM67.4 629.3h2.1v1.1h-2.1zM54.3 630.3h7.4v1.1h-7.4zM61.7 630.3h7.8v1.1h-7.8zM32.5 631.3h13.7v1.1h-13.7zM28.5 632.3h10.1v1.1h-10.1zM38.6 632.3h7.7v1.1h-7.7zM52.2 632.3h11.9v1.1h-11.9zM64 632.3h5.4v1.1h-5.4zM45 633.3h5.4v1.1h-5.4zM50.3 633.3h11.5v1.1h-11.5zM61.8 633.3h7.6v1.1h-7.6zM28.5 634.3h9.7v1.1h-9.7zM46.1 634.3h8.4v1.1h-8.4zM54.4 634.3h12.6v1.1h-12.6zM28.5 635.3h5.8v1.1h-5.8zM50.5 635.3h12.8v1.1h-12.8zM63.2 635.3h6.2v1.1h-6.2zM57.5 636.3h11.9v1.1h-11.9zM28.5 637.3h9.2v1.1h-9.2zM37.7 637.3h9.8v1.1h-9.8zM47.4 637.3h13.1v1.1h-13.1zM60.5 637.3h3.2v1.1h-3.2zM63.7 637.3h5.8v1.1h-5.8zM28.5 638.3h4.5v1.1h-4.5zM45.7 638.3h10.3v1.1h-10.3zM56 638.3h9.5v1.1h-9.5zM39.2 639.3h3.3v1.1h-3.3zM42.4 639.3h8.4v1.1h-8.4zM57.3 639.3h3.9v1.1h-3.9zM28.5 640.3h13.1v1.1h-13.1zM41.6 640.3h10.6v1.1h-10.6zM52.1 640.3h12.6v1.1h-12.6zM64.7 640.3h4.8v1.1h-4.8zM52 642.3h9.7v1.1h-9.7zM61.6 642.3h5.6v1.1h-5.6zM67.1 642.3h2.3v1.1h-2.3zM28.5 644.3h13.1v1.1h-13.1zM41.6 644.3h7.3v1.1h-7.3zM55.3 644.3h8.5v1.1h-8.5zM63.7 644.3h5.7v1.1h-5.7zM28.5 645.3h6.1v1.1h-6.1zM34.5 645.3h8v1.1h-8zM42.5 645.3h5.4v1.1h-5.4zM47.9 645.3h9.9v1.1h-9.9zM64.2 645.3h5.2v1.1h-5.2zM28.5 646.3h3.5v1.1h-3.5zM32 646.3h9.3v1.1h-9.3zM52.9 646.3h4.5v1.1h-4.5zM57.4 646.3h3.3v1.1h-3.3zM66.3 646.3h3.1v1.1h-3.1zM28.5 647.3h10v1.1h-10zM38.4 647.3h11.9v1.1h-11.9zM28.5 648.3h5v1.1h-5zM40.3 648.3h8.8v1.1h-8.8zM49 648.3h11.4v1.1h-11.4zM28.5 649.3h13.3v1.1h-13.3zM41.8 649.3h4.5v1.1h-4.5zM46.2 649.3h9.9v1.1h-9.9zM56.1 649.3h7.2v1.1h-7.2zM63.2 649.3h6.2v1.1h-6.2zM33.8 650.3h12.1v1.1h-12.1zM45.8 650.3h10.9v1.1h-10.9zM28.5 651.3h9v1.1h-9zM37.4 651.3h6.6v1.1h-6.6zM60.3 651.3h9.2v1.1h-9.2zM28.5 652.3h3.8v1.1h-3.8zM48.8 652.3h4.7v1.1h-4.7zM53.4 652.3h11v1.1h-11zM64.4 652.3h5.1v1.1h-5.1zM41.9 653.3h5.5v1.1h-5.5zM47.4 653.3h6.2v1.1h-6.2zM53.6 653.3h10.1v1.1h-10.1zM63.6 653.3h5.9v1.1h-5.9zM41.4 654.3h12.4v1.1h-12.4zM53.8 654.3h8.8v1.1h-8.8zM62.5 654.3h6.9v1.1h-6.9zM28.5 655.3h9.7v1.1h-9.7zM38.2 655.3h13.7v1.1h-13.7zM59.2 655.3h10.2v1.1h-10.2zM28.5 656.3h7.6v1.1h-7.6zM57.4 656.3h7.8v1.1h-7.8zM65.2 656.3h4.3v1.1h-4.3zM28.5 657.3h5.2v1.1h-5.2zM28.5 659.3h5.3v1.1h-5.3zM33.7 659.3h10.1v1.1h-10.1zM43.8 659.3h12.4v1.1h-12.4zM56.1 659.3h13.3v1.1h-13.3zM48.1 660.3h14v1.1h-14zM28.5 662.3h11.4v1.1h-11.4zM39.8 662.3h10.6v1.1h-10.6zM50.4 662.3h3.8v1.1h-3.8zM54.2 662.3h3.5v1.1h-3.5zM57.6 662.3h8.7v1.1h-8.7zM66.2 662.3h3.2v1.1h-3.2zM28.5 663.3h12.3v1.1h-12.3zM53.9 663.3h3.7v1.1h-3.7zM57.6 663.3h8.1v1.1h-8.1zM65.7 663.3h3.7v1.1h-3.7zM64.2 664.3h3.2v1.1h-3.2zM28.5 665.3h10v1.1h-10zM38.4 665.3h9.6v1.1h-9.6zM48 665.3h13.9v1.1h-13.9zM61.8 665.3h7.6v1.1h-7.6zM28.5 666.3h7.5v1.1h-7.5zM36 666.3h12.7v1.1h-12.7zM48.6 666.3h11.5v1.1h-11.5zM60.1 666.3h9.4v1.1h-9.4zM38.6 668.3h11.4v1.1h-11.4zM35.6 669.3h5.8v1.1h-5.8zM41.4 669.3h9.1v1.1h-9.1zM50.4 669.3h13.7v1.1h-13.7zM64.1 669.3h5.4v1.1h-5.4zM61.3 670.3h8.2v1.1h-8.2zM41.9 671.3h8.8v1.1h-8.8zM57.7 671.3h11.7v1.1h-11.7zM46.4 672.3h12.9v1.1h-12.9zM59.3 672.3h3.6v1.1h-3.6zM28.5 673.3h7.8v1.1h-7.8zM36.2 673.3h13.8v1.1h-13.8zM58.7 673.3h10.8v1.1h-10.8zM32.8 674.3h8.1v1.1h-8.1zM28.5 675.3h14v1.1h-14zM53.6 675.3h4.3v1.1h-4.3zM57.8 675.3h11.6v1.1h-11.6zM28.5 676.3h9.3v1.1h-9.3zM37.7 676.3h10v1.1h-10zM52.8 676.3h13.8v1.1h-13.8zM28.5 677.3h6v1.1h-6zM34.5 677.3h9.9v1.1h-9.9zM44.3 677.3h9v1.1h-9zM53.3 677.3h4v1.1h-4zM57.2 677.3h9.1v1.1h-9.1zM66.3 677.3h3.1v1.1h-3.1zM40.7 678.3h4.4v1.1h-4.4zM45 678.3h9.9v1.1h-9.9zM54.9 678.3h5.4v1.1h-5.4zM60.2 678.3h5.9v1.1h-5.9zM66.1 678.3h3.4v1.1h-3.4zM28.5 679.3h6.6v1.1h-6.6zM46.3 679.3h7.8v1.1h-7.8zM58.1 679.3h3.9v1.1h-3.9zM61.9 679.3h7.5v1.1h-7.5zM42.6 680.3h6.4v1.1h-6.4zM39.3 681.3h13.2v1.1h-13.2zM62.6 682.3h6.9v1.1h-6.9zM28.5 683.3h12.3v1.1h-12.3zM45.6 683.3h12.7v1.1h-12.7zM58.3 683.3h3.3v1.1h-3.3zM61.6 683.3h7.9v1.1h-7.9zM32.2 684.3h11.7v1.1h-11.7zM47.8 684.3h12.9v1.1h-12.9zM60.7 684.3h8.8v1.1h-8.8zM38.6 685.3h5.5v1.1h-5.5zM44.1 685.3h8.8v1.1h-8.8zM60.1 685.3h9.3v1.1h-9.3zM28.5 686.3h10.8v1.1h-10.8zM28.5 687.3h13.6v1.1h-13.6zM42 687.3h8.8v1.1h-8.8zM50.8 687.3h11.9v1.1h-11.9zM61.1 688.3h8.4v1.1h-8.4zM37.5 690.3h8.3v1.1h-8.3zM58.6 690.3h6.8v1.1h-6.8zM65.3 690.3h4.1v1.1h-4.1zM32 691.3h11.9v1.1h-11.9zM58.7 691.3h10.8v1.1h-10.8zM40.3 692.3h9.7v1.1h-9.7zM49.9 692.3h4.8v1.1h-4.8zM60.5 692.3h8.9v1.1h-8.9zM28.5 693.3h6v1.1h-6zM34.4 693.3h4.7v1.1h-4.7zM39.1 693.3h3.1v1.1h-3.1zM42.1 693.3h12.4v1.1h-12.4zM54.4 693.3h4v1.1h-4zM28.5 694.3h9.5v1.1h-9.5zM44.3 694.3h7.6v1.1h-7.6zM51.9 694.3h4.1v1.1h-4.1zM28.5 695.3h6.5v1.1h-6.5zM34.9 695.3h3.9v1.1h-3.9zM38.8 695.3h8.2v1.1h-8.2zM46.9 695.3h7v1.1h-7zM53.9 695.3h4.2v1.1h-4.2zM58 695.3h8.1v1.1h-8.1zM66.1 695.3h3.3v1.1h-3.3zM28.5 696.3h5.7v1.1h-5.7zM34.1 696.3h8.1v1.1h-8.1zM56.1 696.3h5.3v1.1h-5.3zM61.3 696.3h8.1v1.1h-8.1zM28.5 697.3h6.3v1.1h-6.3zM34.8 697.3h7.4v1.1h-7.4zM47.9 697.3h11.1v1.1h-11.1zM59 697.3h10.5v1.1h-10.5zM32.5 698.3h4.1v1.1h-4.1zM47.3 698.3h7.5v1.1h-7.5zM57.7 699.3h11.7v1.1h-11.7zM31.7 700.3h10.7v1.1h-10.7zM42.4 700.3h11.7v1.1h-11.7zM28.5 701.3h4.2v1.1h-4.2zM32.7 701.3h8.7v1.1h-8.7zM41.3 701.3h12.1v1.1h-12.1zM53.3 701.3h4.8v1.1h-4.8zM58.1 701.3h11.4v1.1h-11.4zM28.5 702.3h10.9v1.1h-10.9zM39.3 702.3h8.7v1.1h-8.7zM60.2 702.3h9.2v1.1h-9.2zM28.5 703.3h4v1.1h-4zM32.4 703.3h9.4v1.1h-9.4zM48.4 703.3h7v1.1h-7zM64.2 703.3h5.2v1.1h-5.2zM28.5 704.3h14v1.1h-14zM53 705.3h13.9v1.1h-13.9zM28.5 706.3h9.6v1.1h-9.6zM67.4 706.3h2.1v1.1h-2.1zM28.5 708.3h14v1.1h-14zM42.4 708.3h12.5v1.1h-12.5zM54.8 708.3h7.8v1.1h-7.8zM62.6 708.3h6.8v1.1h-6.8zM28.5 710.3h8v1.1h-8zM43.8 710.3h10.7v1.1h-10.7zM28.5 711.3h13.1v1.1h-13.1zM41.5 711.3h10.4v1.1h-10.4zM51.8 711.3h7.7v1.1h-7.7zM59.5 711.3h5.5v1.1h-5.5zM64.9 711.3h4.5v1.1h-4.5zM37.4 712.3h3.1v1.1h-3.1zM40.4 712.3h6.3v1.1h-6.3zM50.4 712.3h12v1.1h-12zM31.8 713.3h6.4v1.1h-6.4zM51.5 713.3h8.2v1.1h-8.2zM65.9 713.3h3.5v1.1h-3.5zM28.5 714.3h4.9v1.1h-4.9zM33.4 714.3h14v1.1h-14zM47.3 714.3h10v1.1h-10zM39.5 715.3h13v1.1h-13zM63.2 715.3h6.2v1.1h-6.2zM28.5 716.3h6.4v1.1h-6.4zM40 716.3h5.6v1.1h-5.6zM57.3 716.3h12.1v1.1h-12.1zM28.5 717.3h5.6v1.1h-5.6zM34 717.3h13.2v1.1h-13.2zM47.2 717.3h6.1v1.1h-6.1zM53.3 717.3h4v1.1h-4zM57.2 717.3h7.9v1.1h-7.9zM40.3 718.3h6.2v1.1h-6.2zM61.2 718.3h8.2v1.1h-8.2zM28.5 719.3h8.1v1.1h-8.1zM36.6 719.3h7.3v1.1h-7.3zM52.3 719.3h9.2v1.1h-9.2zM61.4 719.3h8v1.1h-8zM28.5 720.3h12.3v1.1h-12.3zM40.8 720.3h8.8v1.1h-8.8zM49.5 720.3h5v1.1h-5zM54.4 720.3h4.9v1.1h-4.9zM59.3 720.3h5.6v1.1h-5.6zM64.8 720.3h4.6v1.1h-4.6zM57.6 721.3h9.3v1.1h-9.3zM28.5 722.3h7.9v1.1h-7.9zM36.4 722.3h11.8v1.1h-11.8zM48.1 722.3h13v1.1h-13zM28.5 723.3h4.7v1.1h-4.7zM33.1 723.3h3.5v1.1h-3.5zM36.6 723.3h9.9v1.1h-9.9zM46.4 723.3h6v1.1h-6zM52.3 723.3h4v1.1h-4zM56.3 723.3h4.9v1.1h-4.9zM61.2 723.3h4.8v1.1h-4.8zM65.9 723.3h3.5v1.1h-3.5zM33.9 724.3h3.5v1.1h-3.5zM48.7 724.3h4.6v1.1h-4.6zM53.3 724.3h11.2v1.1h-11.2zM28.5 725.3h7.4v1.1h-7.4zM46.9 725.3h11.4v1.1h-11.4zM58.3 725.3h5.6v1.1h-5.6zM63.8 725.3h5.7v1.1h-5.7zM28.5 727.3h7.4v1.1h-7.4zM35.8 727.3h7.2v1.1h-7.2zM43 727.3h5.4v1.1h-5.4zM48.4 727.3h5.1v1.1h-5.1zM53.4 727.3h4.9v1.1h-4.9zM58.2 727.3h5.4v1.1h-5.4zM63.6 727.3h5.9v1.1h-5.9zM28.5 728.3h5.3v1.1h-5.3zM37.6 728.3h7v1.1h-7zM44.5 728.3h3.3v1.1h-3.3zM47.7 728.3h5.9v1.1h-5.9zM66.8 728.3h2.7v1.1h-2.7zM28.5 729.3h13.4v1.1h-13.4zM41.8 729.3h11.5v1.1h-11.5zM66.2 729.3h3.2v1.1h-3.2zM40 730.3h3.7v1.1h-3.7zM43.6 730.3h5.7v1.1h-5.7zM53.9 730.3h3.4v1.1h-3.4zM28.5 731.3h11v1.1h-11zM39.5 731.3h4.7v1.1h-4.7zM50.2 731.3h7.5v1.1h-7.5zM57.6 731.3h11.8v1.1h-11.8zM31.9 732.3h10v1.1h-10zM41.9 732.3h11.9v1.1h-11.9zM53.8 732.3h6.3v1.1h-6.3zM38.8 733.3h12.6v1.1h-12.6zM51.4 733.3h10v1.1h-10zM61.3 733.3h8.1v1.1h-8.1zM28.5 734.3h8.5v1.1h-8.5zM37 734.3h4.8v1.1h-4.8zM41.7 734.3h8.3v1.1h-8.3zM49.9 734.3h10.4v1.1h-10.4zM60.3 734.3h4.1v1.1h-4.1zM64.3 734.3h5.2v1.1h-5.2zM28.5 735.3h10.8v1.1h-10.8zM49.9 735.3h7.4v1.1h-7.4zM57.2 735.3h3.7v1.1h-3.7zM60.9 735.3h3.7v1.1h-3.7zM64.5 735.3h4.9v1.1h-4.9zM28.5 736.3h6.9v1.1h-6.9zM54.9 736.3h8.2v1.1h-8.2zM28.5 737.3h13.4v1.1h-13.4zM41.9 737.3h10v1.1h-10zM51.8 737.3h7.6v1.1h-7.6zM59.3 737.3h6.1v1.1h-6.1zM65.3 737.3h4.1v1.1h-4.1zM28.5 738.3h8.6v1.1h-8.6zM37.1 738.3h7v1.1h-7zM44 738.3h4.7v1.1h-4.7zM48.7 738.3h5.6v1.1h-5.6zM59.8 738.3h9.7v1.1h-9.7zM28.5 739.3h8.5v1.1h-8.5zM36.9 739.3h9.1v1.1h-9.1zM46 739.3h9.2v1.1h-9.2zM39.4 740.3h10.6v1.1h-10.6zM28.5 741.3h7.1v1.1h-7.1zM46.8 741.3h5.7v1.1h-5.7zM52.4 741.3h6.6v1.1h-6.6zM59 741.3h10.5v1.1h-10.5zM39.3 742.3h8v0.3h-8zM47.2 742.3h8.3v0.3h-8.3zM55.5 742.3h13.9v0.3h-13.9z" fill="url(#hgP)" fill-opacity="0.08"/>
<path d="M40.8 630.3h5.4v1.1h-5.4zM46.1 630.3h8.2v1.1h-8.2zM46.2 632.3h6v1.1h-6zM28.5 633.3h12.4v1.1h-12.4zM40.9 633.3h4.2v1.1h-4.2zM38.1 634.3h8v1.1h-8zM67 634.3h2.5v1.1h-2.5zM34.2 635.3h11.2v1.1h-11.2zM45.4 635.3h5.2v1.1h-5.2zM28.5 636.3h10.8v1.1h-10.8zM39.3 636.3h12.1v1.1h-12.1zM51.3 636.3h6.3v1.1h-6.3zM32.9 638.3h12.9v1.1h-12.9zM28.5 639.3h10.8v1.1h-10.8zM50.7 639.3h6.6v1.1h-6.6zM61.1 639.3h8.4v1.1h-8.4zM57.7 645.3h6.5v1.1h-6.5zM33.5 648.3h6.9v1.1h-6.9zM60.3 648.3h9.1v1.1h-9.1zM28.5 650.3h5.3v1.1h-5.3zM56.6 650.3h12.8v1.1h-12.8zM51.8 655.3h7.5v1.1h-7.5zM49.9 673.3h8.8v1.1h-8.8zM28.5 674.3h4.3v1.1h-4.3zM40.8 674.3h3.6v1.1h-3.6zM44.4 674.3h4.4v1.1h-4.4zM48.7 674.3h10.4v1.1h-10.4zM59.1 674.3h5.9v1.1h-5.9zM64.9 674.3h4.5v1.1h-4.5zM35.1 679.3h11.3v1.1h-11.3zM54 679.3h4.1v1.1h-4.1zM40.7 683.3h5v1.1h-5zM28.5 684.3h3.8v1.1h-3.8zM43.9 684.3h3.9v1.1h-3.9zM28.5 690.3h9.1v1.1h-9.1zM45.8 690.3h12.8v1.1h-12.8zM28.5 691.3h3.6v1.1h-3.6zM43.9 691.3h8.9v1.1h-8.9zM52.7 691.3h6.1v1.1h-6.1zM28.5 692.3h11.8v1.1h-11.8zM54.7 692.3h5.9v1.1h-5.9zM42.2 696.3h14v1.1h-14zM41.8 703.3h6.7v1.1h-6.7zM55.4 703.3h4.4v1.1h-4.4zM59.7 703.3h4.5v1.1h-4.5zM28.5 712.3h9v1.1h-9zM46.7 712.3h3.7v1.1h-3.7zM62.4 712.3h7.1v1.1h-7.1zM28.5 713.3h3.4v1.1h-3.4zM38.2 713.3h13.3v1.1h-13.3zM59.7 713.3h6.3v1.1h-6.3zM61.1 722.3h8.3v1.1h-8.3zM28.5 724.3h5.4v1.1h-5.4zM37.3 724.3h11.4v1.1h-11.4zM64.5 724.3h4.9v1.1h-4.9zM43.5 725.3h3.4v1.1h-3.4zM33.8 728.3h3.9v1.1h-3.9zM53.6 728.3h13.2v1.1h-13.2zM28.5 730.3h11.5v1.1h-11.5zM49.2 730.3h4.7v1.1h-4.7zM57.2 730.3h7.7v1.1h-7.7zM64.9 730.3h4.6v1.1h-4.6zM44.1 731.3h6.1v1.1h-6.1zM28.5 733.3h10.4v1.1h-10.4zM35.6 741.3h11.3v1.1h-11.3z" fill="url(#hgP)" fill-opacity="0.1"/>
<rect x="73.1" y="626.3" width="41.5" height="116.2" fill="#fff"/>
<path d="M81.7 698.3h5.1v1.1h-5.1z" fill="url(#hgM)" fill-opacity="0.14"/>
<path d="M80 660.3h8.9v1.1h-8.9zM77.1 689.3h13.6v1.1h-13.6zM94.8 689.3h13.6v1.1h-13.6zM82.5 690.3h11.9v1.1h-11.9zM73.1 698.3h5.1v1.1h-5.1zM78.1 698.3h3.6v1.1h-3.6zM86.1 710.3h10.1v1.1h-10.1zM96.2 710.3h10.4v1.1h-10.4zM73.1 717.3h4.4v1.1h-4.4zM98.3 727.3h13.1v1.1h-13.1z" fill="url(#hgM)" fill-opacity="0.16"/>
<path d="M73.1 657.3h14v1.1h-14zM73.1 658.3h7.1v1.1h-7.1zM87.5 658.3h4v1.1h-4zM88.8 660.3h11.7v1.1h-11.7zM100.5 660.3h8.6v1.1h-8.6zM109.1 660.3h5.6v1.1h-5.6zM86.7 698.3h8.8v1.1h-8.8zM82.5 716.3h6.7v1.1h-6.7zM88 717.3h9.2v1.1h-9.2zM110.4 717.3h4.2v1.1h-4.2zM108.9 719.3h3.7v1.1h-3.7zM108.5 726.3h6.1v1.1h-6.1zM84.4 727.3h14v1.1h-14zM73.1 730.3h8.5v1.1h-8.5zM85.2 736.3h10.5v1.1h-10.5z" fill="url(#hgM)" fill-opacity="0.18"/>
<path d="M73.1 638.3h7.8v1.1h-7.8zM88.8 649.3h10.7v1.1h-10.7zM103.9 649.3h8.2v1.1h-8.2zM105.5 650.3h9.1v1.1h-9.1zM106.5 651.3h8.1v1.1h-8.1zM92.5 653.3h13.5v1.1h-13.5zM95.2 657.3h10.3v1.1h-10.3zM105.4 657.3h9.3v1.1h-9.3zM101.6 658.3h13.1v1.1h-13.1zM73.1 663.3h8.9v1.1h-8.9zM99.8 663.3h12.4v1.1h-12.4zM112.1 663.3h2.5v1.1h-2.5zM73.1 664.3h5.9v1.1h-5.9zM73.1 666.3h8v1.1h-8zM81.1 666.3h12.2v1.1h-12.2zM78.6 667.3h8.4v1.1h-8.4zM88.2 669.3h10.5v1.1h-10.5zM88.1 672.3h7.9v1.1h-7.9zM102.4 672.3h3.8v1.1h-3.8zM111.6 673.3h3v1.1h-3zM93.3 679.3h5.5v1.1h-5.5zM73.1 689.3h4v1.1h-4zM111.7 689.3h2.9v1.1h-2.9zM111.8 690.3h2.8v1.1h-2.8zM73.1 696.3h4.6v1.1h-4.6zM103.6 696.3h11.1v1.1h-11.1zM73.1 697.3h5.2v1.1h-5.2zM112 697.3h2.7v1.1h-2.7zM95.5 698.3h9.3v1.1h-9.3zM102.5 703.3h12.2v1.1h-12.2zM88.3 704.3h6.2v1.1h-6.2zM86.5 707.3h8.4v1.1h-8.4zM107.1 707.3h7.6v1.1h-7.6zM73.1 716.3h9.4v1.1h-9.4zM111.5 716.3h3.2v1.1h-3.2zM77.4 717.3h10.6v1.1h-10.6zM97.1 717.3h13.4v1.1h-13.4zM76.7 721.3h3.2v1.1h-3.2zM73.1 722.3h13.9v1.1h-13.9zM73.1 726.3h10.2v1.1h-10.2zM79 727.3h5.5v1.1h-5.5zM91.4 730.3h10.3v1.1h-10.3zM73.1 733.3h13.3v1.1h-13.3zM86.4 733.3h5v1.1h-5zM107.9 736.3h6.7v1.1h-6.7zM73.1 737.3h11v1.1h-11zM84 737.3h10.7v1.1h-10.7zM106.9 737.3h7.7v1.1h-7.7zM105.9 741.3h8.7v1.1h-8.7zM73.1 742.3h3.3v0.3h-3.3zM79.7 742.3h9.9v0.3h-9.9z" fill="url(#hgM)" fill-opacity="0.2"/>
<path d="M109 628.3h5.6v1.1h-5.6zM79.2 637.3h6.6v1.1h-6.6zM106.7 637.3h5v1.1h-5zM99 645.3h10.1v1.1h-10.1zM73.1 646.3h8.4v1.1h-8.4zM73.1 647.3h4.2v1.1h-4.2zM73.1 649.3h3.2v1.1h-3.2zM73.1 650.3h9.8v1.1h-9.8zM98.6 650.3h7v1.1h-7zM93.1 651.3h13.4v1.1h-13.4zM73.1 652.3h9.4v1.1h-9.4zM82.5 652.3h12.6v1.1h-12.6zM73.1 653.3h9.7v1.1h-9.7zM82.7 653.3h3.8v1.1h-3.8zM86.4 653.3h6.1v1.1h-6.1zM97.8 655.3h13.5v1.1h-13.5zM87.1 657.3h8.1v1.1h-8.1zM84.6 659.3h8.2v1.1h-8.2zM105.2 659.3h9.4v1.1h-9.4zM73.1 660.3h6.9v1.1h-6.9zM79 664.3h13.2v1.1h-13.2zM73.1 665.3h13v1.1h-13zM92.3 665.3h5.9v1.1h-5.9zM98.2 665.3h7.8v1.1h-7.8zM105.9 665.3h8.8v1.1h-8.8zM102.1 666.3h7.4v1.1h-7.4zM73.1 673.3h4.4v1.1h-4.4zM90.9 673.3h13.2v1.1h-13.2zM73.1 675.3h11.2v1.1h-11.2zM93.7 675.3h6.9v1.1h-6.9zM104.3 676.3h5.6v1.1h-5.6zM90.8 678.3h12.4v1.1h-12.4zM82.1 681.3h5.8v1.1h-5.8zM88.5 684.3h13.5v1.1h-13.5zM86.3 688.3h13.3v1.1h-13.3zM108.7 691.3h5.9v1.1h-5.9zM90.1 693.3h9v1.1h-9zM90.4 695.3h12.1v1.1h-12.1zM90.3 696.3h13.3v1.1h-13.3zM107.7 697.3h4.4v1.1h-4.4zM104.7 698.3h9.9v1.1h-9.9zM107.5 700.3h7.1v1.1h-7.1zM109.4 701.3h5.3v1.1h-5.3zM73.1 702.3h6.4v1.1h-6.4zM97.7 703.3h4.8v1.1h-4.8zM98.7 706.3h11.8v1.1h-11.8zM73.1 707.3h13.5v1.1h-13.5zM94.8 707.3h12.3v1.1h-12.3zM84.4 709.3h13.2v1.1h-13.2zM107.5 712.3h7.2v1.1h-7.2zM79.2 715.3h8.4v1.1h-8.4zM89.1 716.3h3.6v1.1h-3.6zM101.5 716.3h10.1v1.1h-10.1zM86.9 722.3h6.4v1.1h-6.4zM94.8 726.3h13.8v1.1h-13.8zM73.1 727.3h5.9v1.1h-5.9zM93.2 729.3h13.5v1.1h-13.5zM101.7 730.3h12.9v1.1h-12.9zM95.3 733.3h11.2v1.1h-11.2zM90.4 738.3h12.5v1.1h-12.5zM102.9 738.3h4.2v1.1h-4.2zM101.1 739.3h7v1.1h-7zM73.1 741.3h8.6v1.1h-8.6z" fill="url(#hgM)" fill-opacity="0.22"/>
<path d="M85.3 634.3h5v1.1h-5zM110.2 634.3h4.5v1.1h-4.5zM95.9 638.3h13.5v1.1h-13.5zM83.5 640.3h6.6v1.1h-6.6zM78.6 642.3h9.4v1.1h-9.4zM108.7 642.3h5.9v1.1h-5.9zM93.9 645.3h5.2v1.1h-5.2zM84 647.3h12.2v1.1h-12.2zM73.1 648.3h13v1.1h-13zM73.1 651.3h12.1v1.1h-12.1zM85.1 651.3h8.1v1.1h-8.1zM106 653.3h8.6v1.1h-8.6zM80.2 658.3h7.4v1.1h-7.4zM91.4 658.3h10.2v1.1h-10.2zM73.1 659.3h11.6v1.1h-11.6zM105.2 662.3h3.2v1.1h-3.2zM81.9 663.3h4.3v1.1h-4.3zM109.5 666.3h5.2v1.1h-5.2zM97.5 667.3h13.6v1.1h-13.6zM111.1 667.3h3.5v1.1h-3.5zM97.4 668.3h11.3v1.1h-11.3zM80.8 669.3h7.5v1.1h-7.5zM112.5 669.3h2.1v1.1h-2.1zM80.9 672.3h7.2v1.1h-7.2zM109.4 674.3h5.2v1.1h-5.2zM84.3 675.3h9.5v1.1h-9.5zM98.7 679.3h8.9v1.1h-8.9zM93.3 680.3h11v1.1h-11zM76.3 681.3h5.8v1.1h-5.8zM87.9 681.3h8.4v1.1h-8.4zM96.2 681.3h6.2v1.1h-6.2zM86.4 683.3h11.7v1.1h-11.7zM81.7 684.3h6.9v1.1h-6.9zM90.6 689.3h4.3v1.1h-4.3zM108.4 689.3h3.4v1.1h-3.4zM73.1 690.3h9.4v1.1h-9.4zM94.4 690.3h3.8v1.1h-3.8zM98.1 690.3h13.8v1.1h-13.8zM73.1 691.3h11.5v1.1h-11.5zM100.7 691.3h8.1v1.1h-8.1zM73.1 692.3h4.7v1.1h-4.7zM86 692.3h6.7v1.1h-6.7zM92.7 692.3h10.2v1.1h-10.2zM102.9 692.3h8.8v1.1h-8.8zM111.6 692.3h3v1.1h-3zM99.1 693.3h11.4v1.1h-11.4zM99.7 697.3h8v1.1h-8zM88.3 699.3h8.6v1.1h-8.6zM82.7 700.3h8.2v1.1h-8.2zM73.1 701.3h11.2v1.1h-11.2zM84.2 701.3h3.3v1.1h-3.3zM94.4 704.3h10.6v1.1h-10.6zM73.1 705.3h7.2v1.1h-7.2zM98 705.3h8.1v1.1h-8.1zM83.2 706.3h6.1v1.1h-6.1zM110.5 706.3h4.1v1.1h-4.1zM73.1 710.3h13.1v1.1h-13.1zM106.5 710.3h8.1v1.1h-8.1zM108.2 715.3h6.4v1.1h-6.4zM92.2 718.3h3.7v1.1h-3.7zM83.2 719.3h8.1v1.1h-8.1zM91.2 719.3h4.2v1.1h-4.2zM103.7 721.3h10.9v1.1h-10.9zM105.8 722.3h8.9v1.1h-8.9zM73.1 724.3h11.6v1.1h-11.6zM92.8 724.3h8.1v1.1h-8.1zM83.3 726.3h11.5v1.1h-11.5zM111.4 727.3h3.3v1.1h-3.3zM108.6 731.3h6.1v1.1h-6.1zM82.8 735.3h5.5v1.1h-5.5zM88.3 735.3h9.9v1.1h-9.9zM95.7 736.3h7v1.1h-7zM107 738.3h7.6v1.1h-7.6zM73.1 739.3h10.7v1.1h-10.7zM83.8 739.3h8.2v1.1h-8.2zM91.9 739.3h9.2v1.1h-9.2zM108 739.3h6.6v1.1h-6.6zM81.6 741.3h7.3v1.1h-7.3zM88.9 741.3h8.2v1.1h-8.2zM94.6 742.3h12.2v0.3h-12.2zM106.8 742.3h7.8v0.3h-7.8z" fill="url(#hgM)" fill-opacity="0.24"/>
<path d="M108.1 630.3h6.5v1.1h-6.5zM90.2 634.3h4.9v1.1h-4.9zM111.7 637.3h3v1.1h-3zM80.8 638.3h8.6v1.1h-8.6zM109.4 638.3h5.3v1.1h-5.3zM87 639.3h13.6v1.1h-13.6zM108 639.3h6.6v1.1h-6.6zM73.1 642.3h5.6v1.1h-5.6zM87.9 642.3h3.4v1.1h-3.4zM91.3 642.3h8v1.1h-8zM73.1 645.3h11.9v1.1h-11.9zM93.3 646.3h11.5v1.1h-11.5zM86 648.3h13.9v1.1h-13.9zM109.8 648.3h4.8v1.1h-4.8zM76.3 649.3h6.5v1.1h-6.5zM82.7 649.3h6.1v1.1h-6.1zM88 650.3h10.7v1.1h-10.7zM95.1 652.3h12.4v1.1h-12.4zM108.1 654.3h6.5v1.1h-6.5zM73.1 655.3h7v1.1h-7zM73.1 656.3h7v1.1h-7zM85 661.3h3.6v1.1h-3.6zM92.1 664.3h8.4v1.1h-8.4zM86 665.3h6.3v1.1h-6.3zM93.3 666.3h8.9v1.1h-8.9zM94.5 667.3h3.1v1.1h-3.1zM85.1 670.3h10.1v1.1h-10.1zM95.2 670.3h11.4v1.1h-11.4zM106.2 672.3h8.4v1.1h-8.4zM77.4 673.3h13.5v1.1h-13.5zM104 673.3h7.6v1.1h-7.6zM73.1 674.3h12.7v1.1h-12.7zM85.7 674.3h3.4v1.1h-3.4zM96.2 674.3h13.3v1.1h-13.3zM107.4 675.3h7.3v1.1h-7.3zM82.4 676.3h7v1.1h-7zM109.8 676.3h4.8v1.1h-4.8zM73.1 677.3h12.1v1.1h-12.1zM85.2 677.3h10.9v1.1h-10.9zM86.7 678.3h4.2v1.1h-4.2zM89.2 679.3h4.1v1.1h-4.1zM107.5 679.3h4.4v1.1h-4.4zM73.1 683.3h13.4v1.1h-13.4zM98.1 683.3h8v1.1h-8zM91.6 685.3h3.8v1.1h-3.8zM82.2 687.3h9.2v1.1h-9.2zM84.6 691.3h9.5v1.1h-9.5zM110.5 693.3h4.2v1.1h-4.2zM102.4 695.3h8.5v1.1h-8.5zM73.1 699.3h3.9v1.1h-3.9zM92.4 702.3h9.9v1.1h-9.9zM78 704.3h5.6v1.1h-5.6zM105 704.3h9.7v1.1h-9.7zM78 709.3h6.4v1.1h-6.4zM98.8 713.3h6.1v1.1h-6.1zM95.8 718.3h9.1v1.1h-9.1zM73.1 719.3h10.2v1.1h-10.2zM112.5 719.3h2.1v1.1h-2.1zM109.9 720.3h4.7v1.1h-4.7zM73.1 721.3h3.7v1.1h-3.7zM79.9 721.3h7.4v1.1h-7.4zM91.3 721.3h12.4v1.1h-12.4zM93.3 722.3h12.6v1.1h-12.6zM107 723.3h7.6v1.1h-7.6zM103.2 725.3h11.5v1.1h-11.5zM106.2 728.3h8.5v1.1h-8.5zM106.6 729.3h8v1.1h-8zM81.5 730.3h9.9v1.1h-9.9zM107.4 732.3h7.3v1.1h-7.3zM106.4 733.3h8.3v1.1h-8.3zM98.1 735.3h13.7v1.1h-13.7zM73.1 736.3h12.2v1.1h-12.2zM102.6 736.3h5.4v1.1h-5.4zM94.7 737.3h12.3v1.1h-12.3zM76.3 742.3h3.4v0.3h-3.4zM89.5 742.3h5.2v0.3h-5.2z" fill="url(#hgM)" fill-opacity="0.26"/>
<path d="M82.2 633.3h9.9v1.1h-9.9zM89.4 638.3h6.6v1.1h-6.6zM83 641.3h9.3v1.1h-9.3zM93.4 643.3h12.6v1.1h-12.6zM104.8 646.3h9.9v1.1h-9.9zM96.2 647.3h5v1.1h-5zM99.4 649.3h4.5v1.1h-4.5zM111.3 655.3h3.4v1.1h-3.4zM80.1 656.3h6.5v1.1h-6.5zM73.1 662.3h8.8v1.1h-8.8zM91.6 662.3h13.7v1.1h-13.7zM86.2 663.3h13.7v1.1h-13.7zM73.1 667.3h5.6v1.1h-5.6zM79.4 668.3h9.5v1.1h-9.5zM108.7 668.3h6v1.1h-6zM73.1 672.3h7.9v1.1h-7.9zM95.9 672.3h6.6v1.1h-6.6zM89.1 674.3h7.2v1.1h-7.2zM100.5 675.3h6.9v1.1h-6.9zM97.6 676.3h6.7v1.1h-6.7zM96.1 677.3h9.8v1.1h-9.8zM73.1 678.3h8.1v1.1h-8.1zM73.1 679.3h4.7v1.1h-4.7zM77.8 679.3h11.5v1.1h-11.5zM111.9 679.3h2.8v1.1h-2.8zM73.1 680.3h13.2v1.1h-13.2zM104.2 680.3h10.5v1.1h-10.5zM73.1 681.3h3.3v1.1h-3.3zM91.4 687.3h6.4v1.1h-6.4zM94 691.3h6.7v1.1h-6.7zM73.1 694.3h13.9v1.1h-13.9zM93.9 694.3h13.9v1.1h-13.9zM112.3 694.3h2.4v1.1h-2.4zM79.3 695.3h11.2v1.1h-11.2zM77.7 696.3h12.7v1.1h-12.7zM109.7 699.3h4.9v1.1h-4.9zM87.4 701.3h11.8v1.1h-11.8zM99.2 701.3h10.2v1.1h-10.2zM85.3 702.3h7.1v1.1h-7.1zM109.2 702.3h5.5v1.1h-5.5zM73.1 703.3h6.7v1.1h-6.7zM79.8 703.3h5.6v1.1h-5.6zM85.3 703.3h12.4v1.1h-12.4zM73.1 704.3h4.9v1.1h-4.9zM80.3 705.3h8.5v1.1h-8.5zM89.2 706.3h4v1.1h-4zM93.2 706.3h5.6v1.1h-5.6zM97.5 709.3h8.7v1.1h-8.7zM83.7 711.3h13.9v1.1h-13.9zM97.6 711.3h4.4v1.1h-4.4zM99.1 712.3h8.5v1.1h-8.5zM90.1 713.3h8.7v1.1h-8.7zM73.1 715.3h6.1v1.1h-6.1zM87.5 715.3h12.5v1.1h-12.5zM92.7 716.3h8.8v1.1h-8.8zM95.4 719.3h13.6v1.1h-13.6zM73.1 720.3h7.9v1.1h-7.9zM84.8 723.3h8v1.1h-8zM92.7 723.3h7.9v1.1h-7.9zM73.1 728.3h12.3v1.1h-12.3zM86.6 729.3h6.6v1.1h-6.6zM95.1 731.3h13.5v1.1h-13.5zM90 732.3h7.2v1.1h-7.2zM91.3 733.3h4v1.1h-4zM111.7 735.3h3v1.1h-3zM73.1 738.3h3.5v1.1h-3.5zM97 741.3h8.9v1.1h-8.9z" fill="url(#hgM)" fill-opacity="0.28"/>
<path d="M73.1 626.3h3.6v1.1h-3.6zM90.6 627.3h11.9v1.1h-11.9zM109.5 627.3h5.1v1.1h-5.1zM73.1 628.3h3.2v1.1h-3.2zM94.1 628.3h7.7v1.1h-7.7zM73.1 629.3h3.5v1.1h-3.5zM87.6 629.3h4.4v1.1h-4.4zM95.2 629.3h8.4v1.1h-8.4zM109.9 629.3h4.7v1.1h-4.7zM105.3 631.3h5.9v1.1h-5.9zM73.1 632.3h6.5v1.1h-6.5zM105.3 633.3h9.3v1.1h-9.3zM95.1 634.3h3.9v1.1h-3.9zM98.9 634.3h11.3v1.1h-11.3zM97.7 637.3h9.1v1.1h-9.1zM73.1 639.3h13.9v1.1h-13.9zM97 640.3h4.7v1.1h-4.7zM101.7 640.3h7.2v1.1h-7.2zM108.8 640.3h5.8v1.1h-5.8zM99.2 642.3h9.6v1.1h-9.6zM81.5 646.3h11.8v1.1h-11.8zM112 649.3h2.7v1.1h-2.7zM82.8 650.3h5.2v1.1h-5.2zM107.5 652.3h7.2v1.1h-7.2zM73.1 654.3h5.7v1.1h-5.7zM83.2 654.3h5.8v1.1h-5.8zM80.1 655.3h11v1.1h-11zM110 656.3h4.7v1.1h-4.7zM79.3 661.3h5.8v1.1h-5.8zM100.5 664.3h14.2v1.1h-14.2zM73.1 669.3h7.7v1.1h-7.7zM98.7 669.3h13.9v1.1h-13.9zM73.1 676.3h9.4v1.1h-9.4zM103.1 678.3h11.5v1.1h-11.5zM73.1 684.3h8.6v1.1h-8.6zM101.9 684.3h12.7v1.1h-12.7zM93.6 686.3h6.9v1.1h-6.9zM105.7 686.3h9v1.1h-9zM99.6 688.3h8.4v1.1h-8.4zM107.9 688.3h6.7v1.1h-6.7zM73.1 693.3h6.7v1.1h-6.7zM73.1 695.3h6.2v1.1h-6.2zM78.2 697.3h10.5v1.1h-10.5zM88.7 697.3h11v1.1h-11zM96.9 699.3h6.7v1.1h-6.7zM79.4 702.3h5.9v1.1h-5.9zM106.1 705.3h8.5v1.1h-8.5zM73.1 706.3h10.1v1.1h-10.1zM73.1 711.3h10.7v1.1h-10.7zM101.9 711.3h3.7v1.1h-3.7zM105.6 711.3h9.1v1.1h-9.1zM73.1 712.3h12.7v1.1h-12.7zM73.1 714.3h13.4v1.1h-13.4zM100 715.3h8.3v1.1h-8.3zM73.1 718.3h14v1.1h-14zM84.6 724.3h8.3v1.1h-8.3zM100.8 724.3h13.8v1.1h-13.8zM89.7 725.3h13.5v1.1h-13.5zM82.1 729.3h4.6v1.1h-4.6zM73.1 731.3h8.1v1.1h-8.1zM104.1 732.3h3.3v1.1h-3.3zM76.4 734.3h12.5v1.1h-12.5zM76.6 738.3h13.9v1.1h-13.9zM73.1 740.3h3.2v1.1h-3.2zM76.3 740.3h9.6v1.1h-9.6z" fill="url(#hgM)" fill-opacity="0.3"/>
<path d="M98.4 626.3h6.6v1.1h-6.6zM89.6 628.3h4.5v1.1h-4.5zM73.1 630.3h7.4v1.1h-7.4zM84.5 632.3h14v1.1h-14zM88.1 635.3h11.1v1.1h-11.1zM85.7 637.3h6.7v1.1h-6.7zM92.4 637.3h5.4v1.1h-5.4zM88.8 644.3h12.2v1.1h-12.2zM85 645.3h8.9v1.1h-8.9zM109.1 645.3h5.5v1.1h-5.5zM101.2 647.3h13.5v1.1h-13.5zM95.8 654.3h12.4v1.1h-12.4zM86.6 656.3h9.7v1.1h-9.7zM96.2 656.3h13.8v1.1h-13.8zM88.6 661.3h8v1.1h-8zM108.3 662.3h6.3v1.1h-6.3zM87 667.3h7.5v1.1h-7.5zM73.1 668.3h6.4v1.1h-6.4zM88.9 668.3h8.5v1.1h-8.5zM89.4 676.3h8.3v1.1h-8.3zM105.8 677.3h8.8v1.1h-8.8zM81.1 678.3h5.6v1.1h-5.6zM86.3 680.3h7.1v1.1h-7.1zM102.4 681.3h8.7v1.1h-8.7zM111 681.3h3.7v1.1h-3.7zM73.1 682.3h12.5v1.1h-12.5zM94.5 682.3h8.9v1.1h-8.9zM106 683.3h8.6v1.1h-8.6zM73.1 686.3h11.7v1.1h-11.7zM84.7 686.3h3.9v1.1h-3.9zM88.6 686.3h5.1v1.1h-5.1zM77.7 692.3h8.3v1.1h-8.3zM79.7 693.3h10.5v1.1h-10.5zM104.2 700.3h3.3v1.1h-3.3zM83.6 704.3h4.8v1.1h-4.8zM90.3 708.3h13.1v1.1h-13.1zM103.4 708.3h11.3v1.1h-11.3zM106.1 709.3h8.5v1.1h-8.5zM85.7 712.3h13.4v1.1h-13.4zM87.1 718.3h5.1v1.1h-5.1zM104.8 718.3h9.8v1.1h-9.8zM88.6 720.3h11.2v1.1h-11.2zM87.2 721.3h4.2v1.1h-4.2zM73.1 723.3h11.8v1.1h-11.8zM100.5 723.3h6.5v1.1h-6.5zM73.1 725.3h10.4v1.1h-10.4zM83.5 725.3h6.3v1.1h-6.3zM73.1 729.3h9v1.1h-9zM81.2 731.3h14v1.1h-14zM97.2 732.3h7v1.1h-7z" fill="url(#hgM)" fill-opacity="0.32"/>
<path d="M91.9 629.3h3.3v1.1h-3.3zM91.8 630.3h7.3v1.1h-7.3zM91 631.3h6.1v1.1h-6.1zM73.1 633.3h9.1v1.1h-9.1zM73.1 635.3h3.2v1.1h-3.2zM73.1 637.3h6.1v1.1h-6.1zM100.6 639.3h7.5v1.1h-7.5zM73.1 640.3h10.5v1.1h-10.5zM90.1 640.3h7v1.1h-7zM112.5 641.3h2.2v1.1h-2.2zM79.5 643.3h13.9v1.1h-13.9zM73.1 644.3h5.6v1.1h-5.6zM78.7 644.3h10.2v1.1h-10.2zM109.6 644.3h5.1v1.1h-5.1zM91.1 655.3h6.8v1.1h-6.8zM81.9 662.3h9.8v1.1h-9.8zM106.6 670.3h8.1v1.1h-8.1zM76.3 671.3h11.3v1.1h-11.3zM85.5 682.3h9v1.1h-9zM103.4 682.3h11.3v1.1h-11.3zM100.5 686.3h5.2v1.1h-5.2zM73.1 688.3h13.2v1.1h-13.2zM107.8 694.3h4.5v1.1h-4.5zM110.9 695.3h3.7v1.1h-3.7zM103.5 699.3h6.3v1.1h-6.3zM73.1 700.3h9.7v1.1h-9.7zM102.2 702.3h7v1.1h-7zM88.7 705.3h9.4v1.1h-9.4zM73.1 708.3h5.4v1.1h-5.4zM73.1 709.3h5v1.1h-5zM73.1 713.3h5.6v1.1h-5.6zM78.6 713.3h11.6v1.1h-11.6zM104.8 713.3h9.8v1.1h-9.8zM80.9 720.3h7.7v1.1h-7.7zM85.3 728.3h9.5v1.1h-9.5zM94.8 728.3h11.4v1.1h-11.4zM73.1 732.3h6.4v1.1h-6.4zM106.3 734.3h5.5v1.1h-5.5zM111.7 734.3h2.9v1.1h-2.9zM90 740.3h8.2v1.1h-8.2zM104.6 740.3h10v1.1h-10z" fill="url(#hgM)" fill-opacity="0.34"/>
<path d="M76.3 628.3h13.4v1.1h-13.4zM101.7 628.3h7.4v1.1h-7.4zM99.1 630.3h9.1v1.1h-9.1zM78.9 631.3h4.4v1.1h-4.4zM92 633.3h13.4v1.1h-13.4zM73.1 634.3h12.2v1.1h-12.2zM73.1 641.3h10v1.1h-10zM106 643.3h8.7v1.1h-8.7zM100.9 644.3h8.7v1.1h-8.7zM77.2 647.3h6.9v1.1h-6.9zM99.9 648.3h10v1.1h-10zM89 654.3h6.8v1.1h-6.8zM92.8 659.3h12.5v1.1h-12.5zM73.1 661.3h6.3v1.1h-6.3zM96.6 661.3h8.1v1.1h-8.1zM104.7 661.3h4.2v1.1h-4.2zM87.6 671.3h3.1v1.1h-3.1zM90.7 671.3h7.7v1.1h-7.7zM112.1 671.3h2.5v1.1h-2.5zM73.1 685.3h4.2v1.1h-4.2zM87 694.3h7v1.1h-7zM76.9 699.3h11.4v1.1h-11.4zM90.8 700.3h13.4v1.1h-13.4zM78.5 708.3h11.9v1.1h-11.9zM99.8 720.3h10.2v1.1h-10.2zM79.4 732.3h10.6v1.1h-10.6zM73.1 735.3h9.8v1.1h-9.8z" fill="url(#hgM)" fill-opacity="0.36"/>
<path d="M85.3 626.3h7.4v1.1h-7.4zM92.6 626.3h5.8v1.1h-5.8zM103.5 629.3h6.5v1.1h-6.5zM80.4 630.3h11.5v1.1h-11.5zM97 631.3h8.4v1.1h-8.4zM79.5 632.3h5.1v1.1h-5.1zM98.5 632.3h12.6v1.1h-12.6zM76.2 635.3h12v1.1h-12zM93.6 636.3h5.5v1.1h-5.5zM106.2 636.3h8.4v1.1h-8.4zM92.3 641.3h12.3v1.1h-12.3zM104.5 641.3h8v1.1h-8zM78.8 654.3h4.5v1.1h-4.5zM108.8 661.3h5.8v1.1h-5.8zM73.1 670.3h12.1v1.1h-12.1zM98.3 671.3h13.9v1.1h-13.9zM87.9 685.3h3.7v1.1h-3.7zM73.1 687.3h9.2v1.1h-9.2zM97.7 687.3h10.8v1.1h-10.8zM108.4 687.3h6.2v1.1h-6.2zM88.9 734.3h10.8v1.1h-10.8zM85.8 740.3h4.3v1.1h-4.3z" fill="url(#hgM)" fill-opacity="0.38"/>
<path d="M76.7 626.3h8.6v1.1h-8.6zM105 626.3h9.7v1.1h-9.7zM73.1 627.3h7.7v1.1h-7.7zM102.4 627.3h7.2v1.1h-7.2zM76.6 629.3h11.1v1.1h-11.1zM73.1 631.3h5.8v1.1h-5.8zM99.2 635.3h11.9v1.1h-11.9zM73.1 643.3h6.5v1.1h-6.5zM73.1 671.3h3.3v1.1h-3.3zM104.6 685.3h10v1.1h-10zM86.5 714.3h13.2v1.1h-13.2zM99.7 714.3h6.2v1.1h-6.2zM105.9 714.3h8.8v1.1h-8.8zM73.1 734.3h3.4v1.1h-3.4zM98.2 740.3h6.5v1.1h-6.5z" fill="url(#hgM)" fill-opacity="0.4"/>
<path d="M80.7 627.3h9.9v1.1h-9.9zM83.2 631.3h3.3v1.1h-3.3zM86.4 631.3h4.6v1.1h-4.6zM111.1 635.3h3.6v1.1h-3.6zM90.4 636.3h3.3v1.1h-3.3zM81.5 685.3h6.5v1.1h-6.5zM99.6 734.3h6.8v1.1h-6.8z" fill="url(#hgM)" fill-opacity="0.42"/>
<path d="M111 632.3h3.6v1.1h-3.6zM77.2 636.3h7.5v1.1h-7.5zM99.1 636.3h7.1v1.1h-7.1zM77.2 685.3h4.4v1.1h-4.4zM95.4 685.3h9.3v1.1h-9.3z" fill="url(#hgM)" fill-opacity="0.44"/>
<path d="M111.2 631.3h3.5v1.1h-3.5z" fill="url(#hgM)" fill-opacity="0.48"/>
<path d="M73.1 636.3h4.2v1.1h-4.2zM84.6 636.3h5.8v1.1h-5.8z" fill="url(#hgM)" fill-opacity="0.5"/>
<rect x="28.5" y="744.3" width="40.9" height="94.9" fill="#fff"/>
<path d="M42.3 757.3h12.6v1.1h-12.6zM28.5 759.3h9.7v1.1h-9.7zM46.1 759.3h13.9v1.1h-13.9zM36 774.3h7.2v1.1h-7.2zM50.1 774.3h6.9v1.1h-6.9zM40.9 808.3h13.9v1.1h-13.9zM54.8 808.3h14.7v1.1h-14.7z" fill="url(#hgP)" fill-opacity="0.02"/>
<path d="M28.5 755.3h3.5v1.1h-3.5zM31.9 755.3h5.2v1.1h-5.2zM40.2 755.3h9.5v1.1h-9.5zM58.6 755.3h4.5v1.1h-4.5zM63 755.3h6.4v1.1h-6.4zM28.5 757.3h13.8v1.1h-13.8zM54.8 757.3h9.7v1.1h-9.7zM64.5 757.3h5v1.1h-5zM38.2 759.3h8v1.1h-8zM60 759.3h7.1v1.1h-7.1zM67 759.3h2.5v1.1h-2.5zM28.5 774.3h7.5v1.1h-7.5zM43.1 774.3h7.1v1.1h-7.1zM57 774.3h12.5v1.1h-12.5zM28.5 775.3h12.3v1.1h-12.3zM40.8 775.3h10.1v1.1h-10.1zM50.8 775.3h6.5v1.1h-6.5zM28.5 778.3h3.4v1.1h-3.4zM45.7 778.3h12.6v1.1h-12.6zM62.7 778.3h4v1.1h-4zM66.7 778.3h2.8v1.1h-2.8zM28.5 794.3h12.5v1.1h-12.5zM28.5 807.3h13.9v1.1h-13.9zM42.4 807.3h3.2v1.1h-3.2zM45.6 807.3h10.1v1.1h-10.1zM55.6 807.3h9.8v1.1h-9.8zM65.3 807.3h4.1v1.1h-4.1zM28.5 808.3h12.4v1.1h-12.4zM28.5 813.3h10.4v1.1h-10.4zM38.9 813.3h5.4v1.1h-5.4zM44.3 813.3h9.7v1.1h-9.7zM62.8 816.3h6.6v1.1h-6.6zM58.9 819.3h10.6v1.1h-10.6z" fill="url(#hgP)" fill-opacity="0.04"/>
<path d="M54.3 744.3h3.9v1.1h-3.9zM37.1 755.3h3.2v1.1h-3.2zM49.6 755.3h9v1.1h-9zM40 765.3h8.2v1.1h-8.2zM66 765.3h3.4v1.1h-3.4zM57.3 775.3h12.1v1.1h-12.1zM31.9 778.3h6.9v1.1h-6.9zM38.8 778.3h7v1.1h-7zM58.3 778.3h4.4v1.1h-4.4zM61.8 794.3h3.6v1.1h-3.6zM55.6 811.3h11.2v1.1h-11.2zM41.5 816.3h7.1v1.1h-7.1zM55.3 819.3h3.6v1.1h-3.6z" fill="url(#hgP)" fill-opacity="0.06"/>
<path d="M58.1 744.3h11.4v1.1h-11.4zM48.2 765.3h8.3v1.1h-8.3zM32 786.3h7v1.1h-7zM38.6 789.3h4.4v1.1h-4.4zM50.8 789.3h10.5v1.1h-10.5zM40.9 794.3h11.3v1.1h-11.3zM60.1 795.3h9.4v1.1h-9.4zM59.1 809.3h7.4v1.1h-7.4zM53.9 813.3h10.4v1.1h-10.4zM64.2 813.3h5.2v1.1h-5.2zM42.1 819.3h13.2v1.1h-13.2zM53.3 823.3h5.3v1.1h-5.3z" fill="url(#hgP)" fill-opacity="0.08"/>
<path d="M41.2 744.3h13.1v1.1h-13.1zM28.5 753.3h11v1.1h-11zM51.5 753.3h4.8v1.1h-4.8zM59.6 753.3h7.2v1.1h-7.2zM32.7 754.3h5.2v1.1h-5.2zM43 754.3h4.9v1.1h-4.9zM56.4 765.3h9.7v1.1h-9.7zM32.1 769.3h6.7v1.1h-6.7zM38.7 769.3h11.6v1.1h-11.6zM33.1 776.3h12.9v1.1h-12.9zM33.7 783.3h9.4v1.1h-9.4zM56.2 786.3h3.4v1.1h-3.4zM59.5 786.3h7.1v1.1h-7.1zM48.1 790.3h12.1v1.1h-12.1zM52.2 794.3h9.6v1.1h-9.6zM65.3 794.3h4.1v1.1h-4.1zM28.5 795.3h9.2v1.1h-9.2zM62.6 798.3h6.8v1.1h-6.8zM28.5 809.3h6.6v1.1h-6.6zM35.1 809.3h14v1.1h-14zM55 809.3h4.1v1.1h-4.1zM66.4 809.3h3v1.1h-3zM28.5 816.3h6.2v1.1h-6.2zM34.7 816.3h6.9v1.1h-6.9zM48.5 816.3h3.1v1.1h-3.1zM51.6 816.3h11.3v1.1h-11.3zM28.5 819.3h13.7v1.1h-13.7zM28.5 823.3h13.9v1.1h-13.9zM58.6 823.3h4.4v1.1h-4.4zM28.5 824.3h4.6v1.1h-4.6z" fill="url(#hgP)" fill-opacity="0.1"/>
<path d="M28.5 744.3h12.7v1.1h-12.7zM28.5 748.3h11.4v1.1h-11.4zM28.5 750.3h3.8v1.1h-3.8zM32.2 750.3h5.7v1.1h-5.7zM39.4 753.3h12.1v1.1h-12.1zM28.5 754.3h4.3v1.1h-4.3zM28.5 765.3h11.6v1.1h-11.6zM61.9 769.3h7.5v1.1h-7.5zM56.9 783.3h7.2v1.1h-7.2zM28.5 786.3h3.5v1.1h-3.5zM38.9 786.3h3.9v1.1h-3.9zM33.4 789.3h5.3v1.1h-5.3zM42.9 789.3h7.9v1.1h-7.9zM61.3 789.3h8.2v1.1h-8.2zM65.8 790.3h3.6v1.1h-3.6zM37.7 795.3h11.3v1.1h-11.3zM49 795.3h11.1v1.1h-11.1zM28.5 806.3h6.8v1.1h-6.8zM35.2 806.3h10.4v1.1h-10.4zM28.5 811.3h6.2v1.1h-6.2zM34.6 811.3h11.5v1.1h-11.5zM46.1 811.3h9.6v1.1h-9.6zM66.8 811.3h2.7v1.1h-2.7zM28.5 820.3h6.9v1.1h-6.9zM50.1 820.3h10.3v1.1h-10.3zM60.3 820.3h9.1v1.1h-9.1zM54.3 824.3h4.6v1.1h-4.6z" fill="url(#hgP)" fill-opacity="0.12"/>
<path d="M33.9 747.3h5.4v1.1h-5.4zM43.2 748.3h4.6v1.1h-4.6zM47.8 748.3h3.4v1.1h-3.4zM59.3 748.3h6.6v1.1h-6.6zM65.8 748.3h3.6v1.1h-3.6zM63.9 750.3h5.5v1.1h-5.5zM47.9 754.3h8.9v1.1h-8.9zM61.4 754.3h8v1.1h-8zM28.5 760.3h3.1v1.1h-3.1zM55.7 763.3h3.3v1.1h-3.3zM59 763.3h3.4v1.1h-3.4zM64 776.3h5.4v1.1h-5.4zM66.6 786.3h2.9v1.1h-2.9zM28.5 789.3h4.9v1.1h-4.9zM43.9 796.3h11.1v1.1h-11.1zM28.5 798.3h7.8v1.1h-7.8zM28.5 800.3h5.9v1.1h-5.9zM49 809.3h6.1v1.1h-6.1zM33.7 810.3h5.5v1.1h-5.5zM52.7 815.3h10.8v1.1h-10.8zM35.4 820.3h7v1.1h-7zM58.9 824.3h4.6v1.1h-4.6z" fill="url(#hgP)" fill-opacity="0.14"/>
<path d="M47.4 745.3h3.2v1.1h-3.2zM37.8 754.3h5.3v1.1h-5.3zM56.8 754.3h4.7v1.1h-4.7zM40.6 760.3h10.1v1.1h-10.1zM39 763.3h12.5v1.1h-12.5zM50.3 769.3h3.5v1.1h-3.5zM57.2 776.3h6.9v1.1h-6.9zM67.1 782.3h2.3v1.1h-2.3zM42.8 786.3h13.4v1.1h-13.4zM35.4 788.3h11.8v1.1h-11.8zM28.5 790.3h6.3v1.1h-6.3zM54 802.3h9.3v1.1h-9.3zM60.4 810.3h9v1.1h-9zM31.8 815.3h3.5v1.1h-3.5zM63.4 815.3h6v1.1h-6zM63 823.3h6.5v1.1h-6.5zM33 824.3h9.6v1.1h-9.6z" fill="url(#hgP)" fill-opacity="0.16"/>
<path d="M51.7 746.3h9v1.1h-9zM39.3 747.3h11.4v1.1h-11.4zM37.8 750.3h12.3v1.1h-12.3zM50.1 750.3h13.8v1.1h-13.8zM28.5 762.3h4.8v1.1h-4.8zM62.3 762.3h3.7v1.1h-3.7zM62.3 763.3h3.8v1.1h-3.8zM28.5 776.3h4.6v1.1h-4.6zM50.3 782.3h8.8v1.1h-8.8zM59 782.3h8.1v1.1h-8.1zM28.5 783.3h5.2v1.1h-5.2zM28.5 788.3h7v1.1h-7zM34.7 790.3h13.4v1.1h-13.4zM28.5 796.3h11.6v1.1h-11.6zM36.3 798.3h13.4v1.1h-13.4zM49.6 798.3h13v1.1h-13zM45.4 799.3h6.5v1.1h-6.5zM28.5 815.3h3.4v1.1h-3.4zM35.2 815.3h13.2v1.1h-13.2zM48.4 815.3h4.3v1.1h-4.3zM31.8 818.3h12.7v1.1h-12.7zM28.5 821.3h11.9v1.1h-11.9zM40.4 821.3h12.1v1.1h-12.1zM42.5 824.3h11.9v1.1h-11.9zM63.4 824.3h3.4v1.1h-3.4zM66.8 824.3h2.7v1.1h-2.7zM53.7 825.3h5.4v1.1h-5.4zM53.1 829.3h10v1.1h-10z" fill="url(#hgP)" fill-opacity="0.18"/>
<path d="M28.5 746.3h5v1.1h-5zM46.3 746.3h5.4v1.1h-5.4zM50.7 747.3h13.6v1.1h-13.6zM37 752.3h9.3v1.1h-9.3zM55.2 752.3h3.4v1.1h-3.4zM66.8 753.3h2.6v1.1h-2.6zM50.6 760.3h10.9v1.1h-10.9zM33.3 762.3h7.6v1.1h-7.6zM28.5 763.3h10.6v1.1h-10.6zM51.4 763.3h4.3v1.1h-4.3zM66 763.3h3.5v1.1h-3.5zM28.5 769.3h3.6v1.1h-3.6zM53.7 769.3h8.2v1.1h-8.2zM45.9 772.3h8.1v1.1h-8.1zM45.9 776.3h5.9v1.1h-5.9zM58.7 777.3h10.8v1.1h-10.8zM59.4 780.3h4.1v1.1h-4.1zM63.4 780.3h3.6v1.1h-3.6zM49.3 781.3h11.9v1.1h-11.9zM35.7 787.3h4.2v1.1h-4.2zM60.1 790.3h5.8v1.1h-5.8zM48 800.3h10.9v1.1h-10.9zM53.3 805.3h10.5v1.1h-10.5zM56 806.3h10.4v1.1h-10.4zM51.7 810.3h8.8v1.1h-8.8zM32.5 814.3h3.9v1.1h-3.9zM36.3 814.3h13.5v1.1h-13.5zM48.1 817.3h5.5v1.1h-5.5zM42.3 820.3h7.8v1.1h-7.8zM42.3 823.3h11v1.1h-11zM65.5 826.3h3.9v1.1h-3.9zM28.5 829.3h9.1v1.1h-9.1z" fill="url(#hgP)" fill-opacity="0.2"/>
<path d="M62.1 745.3h7.4v1.1h-7.4zM28.5 747.3h5.5v1.1h-5.5zM64.2 747.3h5.3v1.1h-5.3zM39.8 748.3h3.4v1.1h-3.4zM56.3 753.3h3.4v1.1h-3.4zM31.5 760.3h3.1v1.1h-3.1zM54 772.3h4.1v1.1h-4.1zM51.7 776.3h5.5v1.1h-5.5zM49.7 777.3h5.2v1.1h-5.2zM61.2 781.3h8.3v1.1h-8.3zM40 782.3h10.4v1.1h-10.4zM43.1 783.3h13.9v1.1h-13.9zM28.5 784.3h13.4v1.1h-13.4zM41.8 784.3h4.4v1.1h-4.4zM28.5 792.3h8.3v1.1h-8.3zM41.9 817.3h6.3v1.1h-6.3zM44.4 818.3h10.8v1.1h-10.8zM65.7 818.3h3.7v1.1h-3.7zM28.5 831.3h4.7v1.1h-4.7z" fill="url(#hgP)" fill-opacity="0.22"/>
<path d="M57.9 745.3h4.3v1.1h-4.3zM33.4 746.3h13v1.1h-13zM60.7 746.3h8.8v1.1h-8.8zM28.5 756.3h6.2v1.1h-6.2zM42.8 767.3h4.7v1.1h-4.7zM56.1 779.3h10.2v1.1h-10.2zM67 780.3h2.5v1.1h-2.5zM64.1 783.3h5.3v1.1h-5.3zM57.3 792.3h3.3v1.1h-3.3zM55 796.3h14.5v1.1h-14.5zM51.9 799.3h4v1.1h-4zM66.9 799.3h2.6v1.1h-2.6zM41.4 804.3h11.9v1.1h-11.9zM53.2 804.3h5.3v1.1h-5.3zM45.5 806.3h10.5v1.1h-10.5zM66.4 806.3h3.1v1.1h-3.1zM28.5 810.3h5.2v1.1h-5.2zM45.5 810.3h6.3v1.1h-6.3zM56.9 817.3h7.7v1.1h-7.7zM64.5 817.3h4.9v1.1h-4.9zM59.8 821.3h3.1v1.1h-3.1zM43.8 822.3h7.6v1.1h-7.6zM52.4 826.3h13.2v1.1h-13.2z" fill="url(#hgP)" fill-opacity="0.24"/>
<path d="M50.6 745.3h7.3v1.1h-7.3zM51.1 748.3h8.3v1.1h-8.3zM56.6 756.3h5.1v1.1h-5.1zM38.9 764.3h12.8v1.1h-12.8zM40.4 773.3h9.7v1.1h-9.7zM37.9 777.3h11.9v1.1h-11.9zM28.5 782.3h11.5v1.1h-11.5zM64.7 784.3h4.8v1.1h-4.8zM28.5 787.3h7.2v1.1h-7.2zM39.9 787.3h11.5v1.1h-11.5zM62.2 787.3h4v1.1h-4zM47.1 788.3h12v1.1h-12zM59.1 788.3h10.4v1.1h-10.4zM67 793.3h2.5v1.1h-2.5zM40 796.3h3.9v1.1h-3.9zM58.9 800.3h10.5v1.1h-10.5zM58.5 804.3h11v1.1h-11zM31.5 805.3h5.7v1.1h-5.7zM28.5 825.3h13.1v1.1h-13.1zM41.5 825.3h12.2v1.1h-12.2zM59 825.3h3.7v1.1h-3.7zM54 828.3h3.7v1.1h-3.7zM63 829.3h6.4v1.1h-6.4z" fill="url(#hgP)" fill-opacity="0.26"/>
<path d="M65.9 762.3h3.5v1.1h-3.5zM64.5 766.3h5v1.1h-5zM66.5 767.3h2.9v1.1h-2.9zM28.5 771.3h8.6v1.1h-8.6zM28.5 772.3h6.8v1.1h-6.8zM66.2 779.3h3.2v1.1h-3.2zM51.7 784.3h13.1v1.1h-13.1zM34.4 800.3h13.7v1.1h-13.7zM28.5 804.3h13v1.1h-13zM49.8 814.3h10.9v1.1h-10.9zM67.3 814.3h2.1v1.1h-2.1zM53.6 817.3h3.4v1.1h-3.4zM52.4 821.3h7.4v1.1h-7.4zM62.8 821.3h6.6v1.1h-6.6zM62.6 825.3h6.8v1.1h-6.8zM47.5 827.3h9.3v1.1h-9.3zM56.8 827.3h8.1v1.1h-8.1zM33.2 831.3h9.4v1.1h-9.4zM52.3 831.3h11.3v1.1h-11.3zM63.5 831.3h5.9v1.1h-5.9z" fill="url(#hgP)" fill-opacity="0.28"/>
<path d="M28.5 745.3h6.5v1.1h-6.5zM28.5 751.3h8.5v1.1h-8.5zM45.3 751.3h8.9v1.1h-8.9zM61.5 760.3h8v1.1h-8zM40.8 762.3h11.1v1.1h-11.1zM28.5 764.3h10.4v1.1h-10.4zM42.4 766.3h6.2v1.1h-6.2zM35.4 767.3h3.6v1.1h-3.6zM55.1 767.3h11.4v1.1h-11.4zM41.2 768.3h4.5v1.1h-4.5zM58 772.3h11.4v1.1h-11.4zM42.6 779.3h13.6v1.1h-13.6zM37.2 780.3h10.6v1.1h-10.6zM41.1 791.3h9.3v1.1h-9.3zM60.2 791.3h7.2v1.1h-7.2zM67.3 791.3h2.1v1.1h-2.1zM36.8 792.3h12.7v1.1h-12.7zM28.5 793.3h6.8v1.1h-6.8zM56 793.3h11v1.1h-11zM44.8 801.3h10.1v1.1h-10.1zM41.7 802.3h12.4v1.1h-12.4zM28.5 805.3h3.1v1.1h-3.1zM37.2 805.3h5.5v1.1h-5.5zM39.1 810.3h6.4v1.1h-6.4zM28.5 814.3h4v1.1h-4zM28.5 817.3h3.6v1.1h-3.6zM28.5 818.3h3.4v1.1h-3.4zM43.6 829.3h9.5v1.1h-9.5z" fill="url(#hgP)" fill-opacity="0.3"/>
<path d="M34.9 745.3h8.7v1.1h-8.7zM43.6 745.3h3.9v1.1h-3.9zM28.5 752.3h8.5v1.1h-8.5zM46.2 752.3h5.1v1.1h-5.1zM66.7 752.3h2.8v1.1h-2.8zM28.5 761.3h13.3v1.1h-13.3zM41.8 761.3h6.5v1.1h-6.5zM51.6 764.3h9.5v1.1h-9.5zM46.1 771.3h12.6v1.1h-12.6zM33.2 779.3h9.4v1.1h-9.4zM28.5 780.3h8.7v1.1h-8.7zM32.1 791.3h9.1v1.1h-9.1zM35.3 793.3h8.6v1.1h-8.6zM54.8 801.3h14.6v1.1h-14.6zM28.5 802.3h13.2v1.1h-13.2zM63.2 802.3h6.2v1.1h-6.2zM28.5 803.3h3.5v1.1h-3.5zM47.6 812.3h8.7v1.1h-8.7zM38.9 827.3h8.6v1.1h-8.6zM46.7 835.3h5.5v1.1h-5.5z" fill="url(#hgP)" fill-opacity="0.32"/>
<path d="M59.8 749.3h9.7v1.1h-9.7zM51.3 752.3h3.9v1.1h-3.9zM58.5 752.3h8.2v1.1h-8.2zM34.5 760.3h6.1v1.1h-6.1zM61 764.3h8.4v1.1h-8.4zM47.5 767.3h7.7v1.1h-7.7zM58.6 771.3h10.9v1.1h-10.9zM28.5 773.3h7.1v1.1h-7.1zM34.6 777.3h3.4v1.1h-3.4zM28.5 779.3h4.8v1.1h-4.8zM28.5 781.3h8.2v1.1h-8.2zM28.5 791.3h3.6v1.1h-3.6zM49.5 792.3h7.9v1.1h-7.9zM43.8 793.3h12.2v1.1h-12.2zM28.5 799.3h10.1v1.1h-10.1zM60.6 814.3h3.1v1.1h-3.1zM55.2 818.3h10.6v1.1h-10.6zM37.6 829.3h6.1v1.1h-6.1z" fill="url(#hgP)" fill-opacity="0.34"/>
<path d="M34.6 756.3h11.3v1.1h-11.3zM61.6 756.3h7.8v1.1h-7.8zM52.5 758.3h11.6v1.1h-11.6zM38.9 767.3h3.9v1.1h-3.9zM35.2 772.3h10.7v1.1h-10.7zM28.5 777.3h6.1v1.1h-6.1zM47.7 780.3h11.7v1.1h-11.7zM38.6 785.3h11.6v1.1h-11.6zM58.2 785.3h7.1v1.1h-7.1zM53.5 791.3h6.7v1.1h-6.7zM60.6 792.3h8.8v1.1h-8.8zM34.5 801.3h10.3v1.1h-10.3zM63.8 805.3h5.7v1.1h-5.7zM56.2 812.3h13.3v1.1h-13.3zM63.7 814.3h3.7v1.1h-3.7zM28.5 822.3h5.2v1.1h-5.2zM28.5 828.3h8.1v1.1h-8.1zM40.1 828.3h9.3v1.1h-9.3zM49.4 828.3h4.6v1.1h-4.6zM57.7 828.3h3.9v1.1h-3.9zM54.3 830.3h3.2v1.1h-3.2zM28.5 833.3h6.5v1.1h-6.5zM38.4 833.3h5.7v1.1h-5.7zM44 833.3h11.6v1.1h-11.6z" fill="url(#hgP)" fill-opacity="0.36"/>
<path d="M45.9 756.3h10.7v1.1h-10.7zM43.3 758.3h9.3v1.1h-9.3zM51.9 762.3h10.5v1.1h-10.5zM28.5 766.3h13.9v1.1h-13.9zM48.6 766.3h8.6v1.1h-8.6zM54.8 777.3h3.9v1.1h-3.9zM46.1 784.3h5.6v1.1h-5.6zM50.2 785.3h8.1v1.1h-8.1zM40.9 797.3h13.3v1.1h-13.3zM62.1 797.3h7.3v1.1h-7.3zM32 817.3h9.9v1.1h-9.9zM41 826.3h11.4v1.1h-11.4z" fill="url(#hgP)" fill-opacity="0.38"/>
<path d="M57.5 751.3h7.1v1.1h-7.1zM54.7 761.3h8.1v1.1h-8.1zM62.2 768.3h7.2v1.1h-7.2zM34.8 770.3h5.3v1.1h-5.3zM43.9 770.3h13.5v1.1h-13.5zM50.1 773.3h10.8v1.1h-10.8zM36.6 781.3h6.1v1.1h-6.1zM50.3 791.3h3.2v1.1h-3.2zM55.9 799.3h11.1v1.1h-11.1zM33.7 822.3h6.1v1.1h-6.1zM28.5 826.3h12.6v1.1h-12.6zM46.7 836.3h5.6v1.1h-5.6z" fill="url(#hgP)" fill-opacity="0.4"/>
<path d="M54.7 749.3h5.1v1.1h-5.1zM36.9 751.3h8.5v1.1h-8.5zM48.3 761.3h6.5v1.1h-6.5zM62.8 761.3h6.6v1.1h-6.6zM57.1 766.3h7.4v1.1h-7.4zM28.5 768.3h12.8v1.1h-12.8zM57.4 770.3h6.6v1.1h-6.6zM42.7 781.3h6.7v1.1h-6.7zM51.3 787.3h11v1.1h-11zM66.2 787.3h3.3v1.1h-3.3zM38.6 799.3h6.9v1.1h-6.9zM28.5 801.3h6v1.1h-6zM28.5 812.3h4.8v1.1h-4.8zM33.2 812.3h9.9v1.1h-9.9zM55.6 833.3h11.4v1.1h-11.4z" fill="url(#hgP)" fill-opacity="0.42"/>
<path d="M38.3 749.3h3.5v1.1h-3.5zM64.1 758.3h5.4v1.1h-5.4zM28.5 767.3h7v1.1h-7zM63.9 770.3h5.6v1.1h-5.6zM28.5 785.3h10.2v1.1h-10.2zM65.3 785.3h4.2v1.1h-4.2zM42.7 805.3h10.7v1.1h-10.7zM39.8 822.3h4v1.1h-4zM49 830.3h5.3v1.1h-5.3z" fill="url(#hgP)" fill-opacity="0.44"/>
<path d="M60.8 773.3h8.6v1.1h-8.6zM54.2 797.3h8v1.1h-8zM36.5 828.3h3.7v1.1h-3.7zM28.5 830.3h9.6v1.1h-9.6zM42.5 831.3h9.8v1.1h-9.8z" fill="url(#hgP)" fill-opacity="0.46"/>
<path d="M58.5 768.3h3.8v1.1h-3.8zM28.5 770.3h6.4v1.1h-6.4zM40.1 770.3h3.9v1.1h-3.9zM28.5 797.3h8.3v1.1h-8.3zM55.7 822.3h13.8v1.1h-13.8zM61.6 828.3h4.6v1.1h-4.6zM41.1 832.3h12.9v1.1h-12.9zM60.1 836.3h9.3v1.1h-9.3zM45.8 837.3h11.7v1.1h-11.7z" fill="url(#hgP)" fill-opacity="0.48"/>
<path d="M49 749.3h5.8v1.1h-5.8zM64.6 751.3h4.9v1.1h-4.9zM38.7 758.3h4.6v1.1h-4.6zM45.7 768.3h12.8v1.1h-12.8zM32 803.3h11.1v1.1h-11.1zM51.4 822.3h4.4v1.1h-4.4zM66.1 828.3h3.4v1.1h-3.4zM52.2 835.3h7.1v1.1h-7.1z" fill="url(#hgP)" fill-opacity="0.5"/>
<path d="M41.7 749.3h7.3v1.1h-7.3zM35.5 773.3h5v1.1h-5z" fill="url(#hgP)" fill-opacity="0.52"/>
<path d="M43.1 812.3h4.5v1.1h-4.5zM64.8 827.3h4.6v1.1h-4.6zM59.2 835.3h10.2v1.1h-10.2zM37.8 837.3h8v1.1h-8zM63 837.3h6.4v1.1h-6.4z" fill="url(#hgP)" fill-opacity="0.54"/>
<path d="M28.5 749.3h9.8v1.1h-9.8zM37 771.3h9.1v1.1h-9.1zM34.9 833.3h3.5v1.1h-3.5z" fill="url(#hgP)" fill-opacity="0.56"/>
<path d="M55.8 803.3h8v1.1h-8zM63.8 803.3h5.7v1.1h-5.7zM53.9 832.3h13.5v1.1h-13.5zM28.5 835.3h5.8v1.1h-5.8zM57.5 837.3h5.6v1.1h-5.6z" fill="url(#hgP)" fill-opacity="0.58"/>
<path d="M28.5 827.3h10.5v1.1h-10.5zM38 830.3h3.6v1.1h-3.6zM67.4 832.3h2.1v1.1h-2.1zM55.6 834.3h9.5v1.1h-9.5zM37.6 836.3h9.2v1.1h-9.2z" fill="url(#hgP)" fill-opacity="0.6"/>
<path d="M28.5 832.3h12.6v1.1h-12.6zM34.2 835.3h12.6v1.1h-12.6z" fill="url(#hgP)" fill-opacity="0.62"/>
<path d="M54.2 751.3h3.4v1.1h-3.4z" fill="url(#hgP)" fill-opacity="0.64"/>
<path d="M28.5 836.3h9.1v1.1h-9.1zM57.5 838.3h11.9v1h-11.9z" fill="url(#hgP)" fill-opacity="0.66"/>
<path d="M43 803.3h12.9v1.1h-12.9zM66.9 833.3h2.6v1.1h-2.6z" fill="url(#hgP)" fill-opacity="0.7"/>
<path d="M36.8 797.3h4.2v1.1h-4.2zM65 834.3h4.5v1.1h-4.5zM28.5 837.3h9.4v1.1h-9.4z" fill="url(#hgP)" fill-opacity="0.72"/>
<path d="M28.5 758.3h10.3v1.1h-10.3zM57.5 830.3h12v1.1h-12zM28.5 834.3h13.8v1.1h-13.8z" fill="url(#hgP)" fill-opacity="0.74"/>
<path d="M41.5 830.3h7.6v1.1h-7.6zM42.3 834.3h13.3v1.1h-13.3zM52.3 836.3h7.9v1.1h-7.9z" fill="url(#hgP)" fill-opacity="0.76"/>
<path d="M51.3 838.3h6.3v1h-6.3z" fill="url(#hgP)" fill-opacity="0.82"/>
<path d="M43 838.3h8.3v1h-8.3z" fill="url(#hgP)" fill-opacity="0.92"/>
<path d="M28.5 838.3h4.9v1h-4.9zM33.4 838.3h9.7v1h-9.7z" fill="url(#hgP)" fill-opacity="0.94"/>
<rect x="73.1" y="744.3" width="41.5" height="94.9" fill="#fff"/>
<path d="M79 752.3h7.9v1.1h-7.9zM86.8 752.3h9.4v1.1h-9.4zM73.1 763.3h8.8v1.1h-8.8zM81.9 763.3h3.8v1.1h-3.8zM85.6 763.3h8.8v1.1h-8.8zM94.4 763.3h8.1v1.1h-8.1zM102.5 763.3h9.3v1.1h-9.3zM73.1 769.3h10.4v1.1h-10.4zM83.4 769.3h5.9v1.1h-5.9zM89.3 769.3h9.4v1.1h-9.4zM98.6 769.3h10.9v1.1h-10.9zM109.5 769.3h5.2v1.1h-5.2zM73.1 787.3h6.4v1.1h-6.4zM90.5 787.3h9.7v1.1h-9.7zM100.1 787.3h11.2v1.1h-11.2zM73.1 807.3h11.3v1.1h-11.3zM84.4 807.3h6.9v1.1h-6.9zM91.3 807.3h6.9v1.1h-6.9zM98.1 807.3h7.7v1.1h-7.7zM105.7 807.3h8.9v1.1h-8.9zM73.1 821.3h9.4v1.1h-9.4zM93.9 821.3h5.8v1.1h-5.8zM99.7 821.3h6.8v1.1h-6.8zM106.4 821.3h8.2v1.1h-8.2zM73.1 824.3h5.5v1.1h-5.5zM92.5 824.3h11.2v1.1h-11.2z" fill="url(#hgM2)" fill-opacity="0.02"/>
<path d="M102.2 749.3h12.5v1.1h-12.5zM73.1 752.3h6v1.1h-6zM96.2 752.3h9.1v1.1h-9.1zM105.2 752.3h9.4v1.1h-9.4zM73.1 760.3h8.7v1.1h-8.7zM76.2 762.3h10.3v1.1h-10.3zM86.5 762.3h11.5v1.1h-11.5zM103.5 762.3h11.1v1.1h-11.1zM111.7 763.3h3v1.1h-3zM79 786.3h4.9v1.1h-4.9zM79.5 787.3h11.1v1.1h-11.1zM111.3 787.3h3.3v1.1h-3.3zM111 791.3h3.7v1.1h-3.7zM82 809.3h6.4v1.1h-6.4zM107.6 809.3h3.1v1.1h-3.1zM87.3 814.3h4.7v1.1h-4.7zM82.5 821.3h7.6v1.1h-7.6zM90 821.3h4v1.1h-4zM78.5 824.3h14v1.1h-14zM103.6 824.3h11.1v1.1h-11.1z" fill="url(#hgM2)" fill-opacity="0.04"/>
<path d="M73.1 749.3h9.6v1.1h-9.6zM82.7 749.3h13.6v1.1h-13.6zM96.2 749.3h6v1.1h-6zM73.1 758.3h11.6v1.1h-11.6zM81.7 760.3h11.1v1.1h-11.1zM92.8 760.3h7.5v1.1h-7.5zM100.2 760.3h9.6v1.1h-9.6zM109.8 760.3h4.9v1.1h-4.9zM83.7 777.3h4.1v1.1h-4.1zM97.7 777.3h4.3v1.1h-4.3zM110.7 777.3h4v1.1h-4zM73.1 783.3h13.7v1.1h-13.7zM94.1 783.3h3.3v1.1h-3.3zM97.4 783.3h6v1.1h-6zM73.1 784.3h10.7v1.1h-10.7zM112.4 784.3h2.3v1.1h-2.3zM73.1 786.3h6v1.1h-6zM99.7 786.3h7.7v1.1h-7.7zM73.1 790.3h9.3v1.1h-9.3zM84.8 791.3h13.4v1.1h-13.4zM104.9 795.3h9.7v1.1h-9.7zM88.3 809.3h8.6v1.1h-8.6zM110.7 809.3h4v1.1h-4zM73.1 810.3h8.2v1.1h-8.2zM91.2 813.3h4.1v1.1h-4.1zM106.3 813.3h8.3v1.1h-8.3zM73.1 814.3h5v1.1h-5zM78 814.3h9.3v1.1h-9.3zM106.8 814.3h7.8v1.1h-7.8z" fill="url(#hgM2)" fill-opacity="0.06"/>
<path d="M84.7 758.3h4.5v1.1h-4.5zM89.1 758.3h5.1v1.1h-5.1zM108 758.3h6.6v1.1h-6.6zM73.1 762.3h3.2v1.1h-3.2zM98 762.3h5.6v1.1h-5.6zM76.3 768.3h3.8v1.1h-3.8zM92 773.3h7.5v1.1h-7.5zM111.3 774.3h3.4v1.1h-3.4zM88.3 775.3h10v1.1h-10zM98.3 775.3h10.4v1.1h-10.4zM87.7 777.3h5v1.1h-5zM92.7 777.3h5.1v1.1h-5.1zM86.8 783.3h7.4v1.1h-7.4zM103.4 783.3h11.3v1.1h-11.3zM94 784.3h9.8v1.1h-9.8zM103.7 784.3h8.7v1.1h-8.7zM83.9 786.3h10.2v1.1h-10.2zM107.4 786.3h7.2v1.1h-7.2zM97.2 789.3h6v1.1h-6zM73.1 791.3h11.7v1.1h-11.7zM73.1 795.3h4.8v1.1h-4.8zM84.8 795.3h10.5v1.1h-10.5zM95.3 795.3h9.7v1.1h-9.7zM103 797.3h3.6v1.1h-3.6zM83.8 802.3h9.9v1.1h-9.9zM93.6 802.3h8.1v1.1h-8.1zM101.7 802.3h8.7v1.1h-8.7zM83.1 803.3h8v1.1h-8zM110.5 803.3h4.1v1.1h-4.1zM88.6 805.3h4v1.1h-4zM92.5 805.3h9.4v1.1h-9.4zM73.1 809.3h8.9v1.1h-8.9zM96.8 809.3h10.9v1.1h-10.9zM73.1 813.3h6.4v1.1h-6.4zM79.5 813.3h11.8v1.1h-11.8zM95.2 813.3h11.2v1.1h-11.2zM102.5 814.3h4.4v1.1h-4.4zM89.9 816.3h10.3v1.1h-10.3zM105.3 816.3h9.3v1.1h-9.3z" fill="url(#hgM2)" fill-opacity="0.08"/>
<path d="M94.1 758.3h6.2v1.1h-6.2zM100.2 758.3h7.8v1.1h-7.8zM104 759.3h10.6v1.1h-10.6zM105.1 761.3h4.5v1.1h-4.5zM108.5 764.3h6.2v1.1h-6.2zM82.1 765.3h7.8v1.1h-7.8zM96.2 765.3h12.8v1.1h-12.8zM105.5 766.3h9.2v1.1h-9.2zM80.7 767.3h8.8v1.1h-8.8zM89.4 767.3h3.2v1.1h-3.2zM105.5 768.3h5v1.1h-5zM110.4 768.3h4.2v1.1h-4.2zM101.5 770.3h10.5v1.1h-10.5zM85 773.3h7v1.1h-7zM98 774.3h13.3v1.1h-13.3zM76.2 775.3h3.9v1.1h-3.9zM108.6 775.3h6v1.1h-6zM73.1 777.3h10.7v1.1h-10.7zM83.7 784.3h10.3v1.1h-10.3zM94 786.3h5.8v1.1h-5.8zM73.1 789.3h3.2v1.1h-3.2zM82.7 789.3h3.4v1.1h-3.4zM98.1 791.3h12.9v1.1h-12.9zM84.2 793.3h6.6v1.1h-6.6zM77.8 795.3h7.1v1.1h-7.1zM96.3 797.3h6.8v1.1h-6.8zM106.6 797.3h8.1v1.1h-8.1zM73.1 802.3h3.9v1.1h-3.9zM101.3 803.3h5.5v1.1h-5.5zM106.7 803.3h3.8v1.1h-3.8zM82.1 804.3h4.6v1.1h-4.6zM86.7 804.3h9.7v1.1h-9.7zM112.2 804.3h2.5v1.1h-2.5zM83 805.3h5.6v1.1h-5.6zM91.9 810.3h4.1v1.1h-4.1zM95.9 810.3h9.8v1.1h-9.8zM105.6 810.3h9v1.1h-9zM95.3 812.3h13.2v1.1h-13.2zM91.9 814.3h10.6v1.1h-10.6zM105.2 815.3h3.7v1.1h-3.7zM73.1 820.3h13.2v1.1h-13.2zM86.3 820.3h6.9v1.1h-6.9zM104.3 820.3h5.4v1.1h-5.4zM85.3 827.3h12.4v1.1h-12.4z" fill="url(#hgM2)" fill-opacity="0.1"/>
<path d="M73.1 748.3h13v1.1h-13zM96.1 748.3h4.9v1.1h-4.9zM108.9 765.3h5.7v1.1h-5.7zM73.1 766.3h10v1.1h-10zM73.1 767.3h7.6v1.1h-7.6zM80.1 768.3h13.4v1.1h-13.4zM93.4 768.3h12.1v1.1h-12.1zM73.1 770.3h12.7v1.1h-12.7zM108.8 771.3h5.8v1.1h-5.8zM73.1 773.3h4.8v1.1h-4.8zM77.8 773.3h7.2v1.1h-7.2zM99.4 773.3h11.8v1.1h-11.8zM111.1 773.3h3.5v1.1h-3.5zM73.1 774.3h12.7v1.1h-12.7zM101.9 777.3h8.8v1.1h-8.8zM76.9 788.3h11.1v1.1h-11.1zM103.8 788.3h5.6v1.1h-5.6zM82.3 790.3h11.2v1.1h-11.2zM93.5 790.3h12.2v1.1h-12.2zM92.1 792.3h11.4v1.1h-11.4zM106.9 796.3h7.8v1.1h-7.8zM84.4 797.3h11.9v1.1h-11.9zM84.7 800.3h9.3v1.1h-9.3zM93.9 800.3h4.6v1.1h-4.6zM106.3 800.3h8.4v1.1h-8.4zM73.1 801.3h13.2v1.1h-13.2zM110.3 802.3h4.3v1.1h-4.3zM73.1 803.3h6.5v1.1h-6.5zM91 803.3h6.3v1.1h-6.3zM73.1 805.3h9.9v1.1h-9.9zM81.3 810.3h10.6v1.1h-10.6zM108.5 812.3h6.1v1.1h-6.1zM85.7 815.3h11.1v1.1h-11.1zM73.1 816.3h5.1v1.1h-5.1zM78.2 816.3h11.7v1.1h-11.7zM109.7 818.3h5v1.1h-5zM73.1 819.3h8.8v1.1h-8.8zM93.1 820.3h11.2v1.1h-11.2zM97.7 827.3h6.9v1.1h-6.9z" fill="url(#hgM2)" fill-opacity="0.12"/>
<path d="M91.4 745.3h4v1.1h-4zM110.3 747.3h4.3v1.1h-4.3zM86.1 748.3h10.1v1.1h-10.1zM108.8 748.3h5.9v1.1h-5.9zM73.1 750.3h8.4v1.1h-8.4zM81.5 750.3h4.8v1.1h-4.8zM94 750.3h9.7v1.1h-9.7zM86.8 751.3h6.7v1.1h-6.7zM104.4 751.3h10.3v1.1h-10.3zM79.1 755.3h4.1v1.1h-4.1zM88.2 755.3h10.6v1.1h-10.6zM99.6 756.3h4.2v1.1h-4.2zM97.1 759.3h7v1.1h-7zM73.1 761.3h8.5v1.1h-8.5zM100.8 761.3h4.4v1.1h-4.4zM97.9 764.3h10.6v1.1h-10.6zM73.1 765.3h9.1v1.1h-9.1zM89.9 765.3h6.4v1.1h-6.4zM83.1 766.3h11.5v1.1h-11.5zM94.5 766.3h11v1.1h-11zM105.3 767.3h9.4v1.1h-9.4zM73.1 768.3h3.3v1.1h-3.3zM112 770.3h2.7v1.1h-2.7zM99.4 771.3h9.4v1.1h-9.4zM85.8 774.3h12.3v1.1h-12.3zM73.1 775.3h3.1v1.1h-3.1zM80 775.3h8.4v1.1h-8.4zM103.2 776.3h11.5v1.1h-11.5zM73.1 779.3h4.8v1.1h-4.8zM105.6 790.3h9v1.1h-9zM73.1 797.3h4.1v1.1h-4.1zM98.5 800.3h7.8v1.1h-7.8zM95.8 801.3h7.4v1.1h-7.4zM79.5 803.3h3.6v1.1h-3.6zM97.2 803.3h4.1v1.1h-4.1zM100.1 816.3h5.2v1.1h-5.2zM73.1 817.3h6.7v1.1h-6.7zM97.1 817.3h13.2v1.1h-13.2zM102 819.3h4.1v1.1h-4.1zM73.1 822.3h6v1.1h-6zM91.2 822.3h12.8v1.1h-12.8zM73.1 827.3h12.2v1.1h-12.2zM104.5 827.3h3.6v1.1h-3.6zM111 827.3h3.6v1.1h-3.6z" fill="url(#hgM2)" fill-opacity="0.14"/>
<path d="M92.3 744.3h11.5v1.1h-11.5zM96.4 747.3h14v1.1h-14zM86.2 750.3h7.9v1.1h-7.9zM103.6 750.3h11v1.1h-11zM87.1 756.3h8.7v1.1h-8.7zM83.6 757.3h9.9v1.1h-9.9zM90.6 759.3h6.5v1.1h-6.5zM92.5 767.3h8.3v1.1h-8.3zM100.8 767.3h4.6v1.1h-4.6zM85.7 770.3h6.3v1.1h-6.3zM91.3 771.3h8.2v1.1h-8.2zM73.1 776.3h8v1.1h-8zM87.5 776.3h6.9v1.1h-6.9zM85.9 780.3h3.5v1.1h-3.5zM93.6 780.3h8.3v1.1h-8.3zM73.1 781.3h3.7v1.1h-3.7zM96.5 782.3h10.9v1.1h-10.9zM73.1 788.3h3.9v1.1h-3.9zM88 788.3h3.5v1.1h-3.5zM86.1 789.3h11.1v1.1h-11.1zM103.4 792.3h11.2v1.1h-11.2zM73.1 793.3h11.1v1.1h-11.1zM77.1 797.3h7.3v1.1h-7.3zM98.4 798.3h13.7v1.1h-13.7zM86.3 801.3h9.6v1.1h-9.6zM107.7 801.3h6.9v1.1h-6.9zM76.9 802.3h6.9v1.1h-6.9zM73.1 804.3h9.1v1.1h-9.1zM96.3 804.3h3.4v1.1h-3.4zM101.9 805.3h12.8v1.1h-12.8zM73.1 808.3h11.9v1.1h-11.9zM73.1 812.3h12.8v1.1h-12.8zM109.6 820.3h5.1v1.1h-5.1zM103.9 822.3h5.1v1.1h-5.1z" fill="url(#hgM2)" fill-opacity="0.16"/>
<path d="M103.8 744.3h7.1v1.1h-7.1zM100.9 748.3h7.9v1.1h-7.9zM93.5 751.3h10.9v1.1h-10.9zM104.2 754.3h8.3v1.1h-8.3zM73.1 755.3h6.1v1.1h-6.1zM83.1 755.3h5.1v1.1h-5.1zM98.7 755.3h10.6v1.1h-10.6zM107.7 756.3h7v1.1h-7zM93.4 757.3h9v1.1h-9zM73.1 759.3h4.4v1.1h-4.4zM77.5 759.3h13.2v1.1h-13.2zM96.1 761.3h4.8v1.1h-4.8zM85.8 764.3h12.2v1.1h-12.2zM85.5 771.3h5.9v1.1h-5.9zM73.1 778.3h3.9v1.1h-3.9zM92.9 782.3h3.7v1.1h-3.7zM76.2 789.3h6.6v1.1h-6.6zM103.1 789.3h11.5v1.1h-11.5zM73.1 796.3h11.1v1.1h-11.1zM84.2 796.3h8.9v1.1h-8.9zM93 796.3h13.9v1.1h-13.9zM103.2 801.3h4.6v1.1h-4.6zM99.6 804.3h12.6v1.1h-12.6zM96.8 806.3h3.8v1.1h-3.8zM103.7 806.3h8.3v1.1h-8.3zM85 808.3h13v1.1h-13zM98 808.3h10.7v1.1h-10.7zM85.9 812.3h9.5v1.1h-9.5zM73.1 815.3h12.7v1.1h-12.7zM110.2 817.3h4.5v1.1h-4.5zM95.7 818.3h4.6v1.1h-4.6zM97.6 819.3h4.5v1.1h-4.5zM106 819.3h8.6v1.1h-8.6zM94.6 825.3h12v1.1h-12zM73.1 826.3h3.5v1.1h-3.5z" fill="url(#hgM2)" fill-opacity="0.18"/>
<path d="M82.5 744.3h9.8v1.1h-9.8zM81.6 745.3h9.9v1.1h-9.9zM73.1 747.3h8.7v1.1h-8.7zM73.1 751.3h13.8v1.1h-13.8zM102.3 757.3h12.3v1.1h-12.3zM87.8 761.3h8.3v1.1h-8.3zM73.1 764.3h12.7v1.1h-12.7zM91.9 770.3h9.6v1.1h-9.6zM73.1 771.3h12.5v1.1h-12.5zM77 778.3h8.4v1.1h-8.4zM101.8 780.3h12.8v1.1h-12.8zM91.4 788.3h12.4v1.1h-12.4zM82.9 792.3h9.2v1.1h-9.2zM90.7 793.3h11.7v1.1h-11.7zM102.4 793.3h12.3v1.1h-12.3zM85.5 794.3h5.3v1.1h-5.3zM90.7 794.3h8v1.1h-8zM73.1 799.3h10.5v1.1h-10.5zM83.6 799.3h3.9v1.1h-3.9zM73.1 800.3h11.7v1.1h-11.7zM89.8 806.3h7v1.1h-7zM108.6 808.3h6v1.1h-6zM96.8 815.3h8.5v1.1h-8.5zM108.9 815.3h5.8v1.1h-5.8zM73.1 818.3h9.6v1.1h-9.6zM100.3 818.3h4v1.1h-4zM81.8 819.3h11.5v1.1h-11.5zM93.3 819.3h4.3v1.1h-4.3zM76.4 823.3h7.8v1.1h-7.8zM108 827.3h3.1v1.1h-3.1z" fill="url(#hgM2)" fill-opacity="0.2"/>
<path d="M110.9 744.3h3.8v1.1h-3.8zM73.1 756.3h14v1.1h-14zM73.1 757.3h10.5v1.1h-10.5zM81.5 761.3h6.3v1.1h-6.3zM94.3 776.3h8.9v1.1h-8.9zM97 778.3h8.8v1.1h-8.8zM91.1 779.3h14v1.1h-14zM105.1 779.3h9.6v1.1h-9.6zM73.1 780.3h4.9v1.1h-4.9zM78 780.3h7.9v1.1h-7.9zM79.9 782.3h5.3v1.1h-5.3zM85.2 782.3h7.8v1.1h-7.8zM82.9 785.3h10.2v1.1h-10.2zM93 785.3h13.5v1.1h-13.5zM109.3 788.3h5.3v1.1h-5.3zM73.1 792.3h9.9v1.1h-9.9zM73.1 798.3h13.8v1.1h-13.8zM86.7 806.3h3.1v1.1h-3.1zM100.5 806.3h3.2v1.1h-3.2zM96.9 811.3h3.8v1.1h-3.8zM106.2 811.3h8.4v1.1h-8.4zM79.8 817.3h3.9v1.1h-3.9zM83.6 817.3h13.5v1.1h-13.5zM104.2 818.3h5.5v1.1h-5.5zM79 822.3h12.2v1.1h-12.2zM110.7 826.3h3.9v1.1h-3.9zM92.3 828.3h9.4v1.1h-9.4z" fill="url(#hgM2)" fill-opacity="0.22"/>
<path d="M91.5 747.3h4.9v1.1h-4.9zM98.5 754.3h5.7v1.1h-5.7zM109.3 755.3h5.3v1.1h-5.3zM103.7 756.3h4v1.1h-4zM109.5 761.3h5.2v1.1h-5.2zM85.4 778.3h11.7v1.1h-11.7zM89.3 780.3h4.3v1.1h-4.3zM108.3 781.3h4.2v1.1h-4.2zM112.4 781.3h2.2v1.1h-2.2zM73.1 782.3h6.8v1.1h-6.8zM86.9 798.3h11.6v1.1h-11.6zM82.7 818.3h13.1v1.1h-13.1zM84.1 823.3h6.9v1.1h-6.9zM110.1 823.3h4.6v1.1h-4.6zM73.1 825.3h9v1.1h-9zM73.1 828.3h3.7v1.1h-3.7z" fill="url(#hgM2)" fill-opacity="0.24"/>
<path d="M73.1 744.3h9.5v1.1h-9.5zM95.3 745.3h9.6v1.1h-9.6zM104.8 745.3h9.8v1.1h-9.8zM86.5 747.3h5v1.1h-5zM112.4 754.3h2.2v1.1h-2.2zM95.7 756.3h4v1.1h-4zM81 776.3h6.5v1.1h-6.5zM73.1 806.3h13.7v1.1h-13.7zM109 822.3h5.6v1.1h-5.6zM91 823.3h12.7v1.1h-12.7zM103.6 823.3h6.6v1.1h-6.6zM106.6 825.3h8.1v1.1h-8.1zM90.1 826.3h11.2v1.1h-11.2zM76.8 828.3h11.5v1.1h-11.5z" fill="url(#hgM2)" fill-opacity="0.26"/>
<path d="M76.7 753.3h6.1v1.1h-6.1zM87.6 753.3h12.3v1.1h-12.3zM99.9 753.3h4.9v1.1h-4.9zM73.1 754.3h12.5v1.1h-12.5zM77.8 779.3h13.3v1.1h-13.3zM99.3 781.3h9v1.1h-9zM106.5 785.3h8.2v1.1h-8.2zM112.1 798.3h2.6v1.1h-2.6zM76.5 826.3h13.6v1.1h-13.6zM104.5 826.3h6.3v1.1h-6.3zM88.3 828.3h4.1v1.1h-4.1zM108.8 828.3h5.8v1.1h-5.8zM73.1 829.3h11.3v1.1h-11.3zM82.4 831.3h5.4v1.1h-5.4z" fill="url(#hgM2)" fill-opacity="0.28"/>
<path d="M73.1 745.3h8.5v1.1h-8.5zM108.6 746.3h6.1v1.1h-6.1zM81.7 747.3h4.9v1.1h-4.9zM85.5 754.3h13.1v1.1h-13.1zM107.3 782.3h7.3v1.1h-7.3zM73.1 823.3h3.4v1.1h-3.4zM101.2 826.3h3.3v1.1h-3.3zM102.3 829.3h12.3v1.1h-12.3z" fill="url(#hgM2)" fill-opacity="0.3"/>
<path d="M84.3 746.3h10v1.1h-10zM94.2 746.3h10.4v1.1h-10.4zM105.8 778.3h3.4v1.1h-3.4zM109.1 778.3h5.6v1.1h-5.6zM76.8 781.3h13.6v1.1h-13.6zM73.1 794.3h6.1v1.1h-6.1zM99.1 799.3h13.1v1.1h-13.1zM112 806.3h2.7v1.1h-2.7zM101.7 828.3h7.2v1.1h-7.2z" fill="url(#hgM2)" fill-opacity="0.32"/>
<path d="M73.1 746.3h11.2v1.1h-11.2zM90.3 781.3h9v1.1h-9zM102 794.3h9.7v1.1h-9.7zM111.6 794.3h3v1.1h-3zM73.1 811.3h12v1.1h-12zM82.1 825.3h12.5v1.1h-12.5zM103.6 830.3h7.3v1.1h-7.3zM101.4 832.3h13.3v1.1h-13.3z" fill="url(#hgM2)" fill-opacity="0.34"/>
<path d="M104.6 746.3h4v1.1h-4zM98.7 794.3h3.4v1.1h-3.4zM100.7 811.3h5.6v1.1h-5.6zM93.3 837.3h8.2v1.1h-8.2z" fill="url(#hgM2)" fill-opacity="0.36"/>
<path d="M104.7 753.3h3.6v1.1h-3.6zM73.1 785.3h9.8v1.1h-9.8zM112.2 799.3h2.5v1.1h-2.5zM77.1 834.3h8.4v1.1h-8.4zM98.4 834.3h5.7v1.1h-5.7zM92.9 836.3h11.4v1.1h-11.4z" fill="url(#hgM2)" fill-opacity="0.38"/>
<path d="M79.2 794.3h6.3v1.1h-6.3zM85 811.3h11.9v1.1h-11.9zM100.6 831.3h10.9v1.1h-10.9z" fill="url(#hgM2)" fill-opacity="0.4"/>
<path d="M87.4 799.3h11.7v1.1h-11.7zM92.7 830.3h11v1.1h-11zM102.7 835.3h12v1.1h-12z" fill="url(#hgM2)" fill-opacity="0.42"/>
<path d="M82.7 753.3h5v1.1h-5zM89.3 772.3h9.7v1.1h-9.7zM84.4 829.3h13.1v1.1h-13.1zM77.1 832.3h10.8v1.1h-10.8zM110.3 837.3h4.3v1.1h-4.3z" fill="url(#hgM2)" fill-opacity="0.44"/>
<path d="M73.1 772.3h8.8v1.1h-8.8z" fill="url(#hgM2)" fill-opacity="0.46"/>
<path d="M85.8 830.3h7v1.1h-7zM110.9 830.3h3.7v1.1h-3.7zM73.1 835.3h7.8v1.1h-7.8zM85.1 836.3h7.8v1.1h-7.8zM80 837.3h4.2v1.1h-4.2z" fill="url(#hgM2)" fill-opacity="0.48"/>
<path d="M81.9 772.3h7.5v1.1h-7.5zM99 772.3h6.2v1.1h-6.2zM105.1 772.3h6.9v1.1h-6.9zM87.9 832.3h13.5v1.1h-13.5zM85.5 834.3h13v1.1h-13zM104.1 834.3h10.6v1.1h-10.6zM78.6 836.3h6.5v1.1h-6.5zM82.9 838.3h4.2v1h-4.2z" fill="url(#hgM2)" fill-opacity="0.5"/>
<path d="M112 772.3h2.7v1.1h-2.7zM97.4 829.3h5v1.1h-5zM73.1 834.3h4v1.1h-4z" fill="url(#hgM2)" fill-opacity="0.52"/>
<path d="M73.1 830.3h12.8v1.1h-12.8zM73.1 831.3h9.3v1.1h-9.3zM73.1 832.3h4.1v1.1h-4.1zM73.1 833.3h8.5v1.1h-8.5zM107.9 833.3h6.8v1.1h-6.8z" fill="url(#hgM2)" fill-opacity="0.54"/>
<path d="M73.1 753.3h3.6v1.1h-3.6zM87.8 831.3h12.9v1.1h-12.9z" fill="url(#hgM2)" fill-opacity="0.56"/>
<path d="M111.4 831.3h3.2v1.1h-3.2z" fill="url(#hgM2)" fill-opacity="0.58"/>
<path d="M81.6 833.3h14v1.1h-14zM73.1 838.3h9.9v1h-9.9z" fill="url(#hgM2)" fill-opacity="0.6"/>
<path d="M108.3 753.3h6.3v1.1h-6.3zM95.5 833.3h12.4v1.1h-12.4zM94.1 835.3h8.6v1.1h-8.6zM73.1 837.3h7v1.1h-7zM84.1 837.3h9.2v1.1h-9.2z" fill="url(#hgM2)" fill-opacity="0.62"/>
<path d="M84.4 835.3h9.8v1.1h-9.8zM104.2 836.3h10.4v1.1h-10.4z" fill="url(#hgM2)" fill-opacity="0.66"/>
<path d="M73.1 836.3h5.6v1.1h-5.6z" fill="url(#hgM2)" fill-opacity="0.7"/>
<path d="M101.4 837.3h9v1.1h-9z" fill="url(#hgM2)" fill-opacity="0.74"/>
<path d="M80.8 835.3h3.6v1.1h-3.6z" fill="url(#hgM2)" fill-opacity="0.76"/>
<path d="M96.9 838.3h11.5v1h-11.5z" fill="url(#hgM2)" fill-opacity="0.82"/>
<path d="M108.4 838.3h6.2v1h-6.2z" fill="url(#hgM2)" fill-opacity="0.98"/>
<path d="M87.1 838.3h9.9v1h-9.9z" fill="url(#hgM2)" fill-opacity="1.0"/>
<rect x="28.5" y="626.3" width="40.9" height="116.2" fill="none" stroke="#555" stroke-width="0.8" rx="0.6"/>
<rect x="28.5" y="744.3" width="40.9" height="94.9" fill="none" stroke="#555" stroke-width="0.8" rx="0.6"/>
<rect x="28.5" y="590.6" width="40.9" height="33.9" fill="none" stroke="#555" stroke-width="0.8" rx="0.6"/>
<rect x="73.1" y="626.3" width="41.5" height="116.2" fill="none" stroke="#555" stroke-width="0.8" rx="0.6"/>
<rect x="73.1" y="744.3" width="41.5" height="94.9" fill="none" stroke="#555" stroke-width="0.8" rx="0.6"/>
<rect x="73.1" y="590.6" width="41.5" height="33.9" fill="none" stroke="#555" stroke-width="0.8" rx="0.6"/>
<line x1="28.5" y1="839.2" x2="28.5" y2="840.8" stroke="#444" stroke-width="0.4"/>
<line x1="31.1" y1="839.2" x2="31.1" y2="840.1" stroke="#444" stroke-width="0.4"/>
<line x1="33.6" y1="839.2" x2="33.6" y2="840.1" stroke="#444" stroke-width="0.4"/>
<line x1="36.2" y1="839.2" x2="36.2" y2="840.1" stroke="#444" stroke-width="0.4"/>
<line x1="38.7" y1="839.2" x2="38.7" y2="840.1" stroke="#444" stroke-width="0.4"/>
<line x1="41.3" y1="839.2" x2="41.3" y2="840.1" stroke="#444" stroke-width="0.4"/>
<line x1="43.8" y1="839.2" x2="43.8" y2="840.1" stroke="#444" stroke-width="0.4"/>
<line x1="46.4" y1="839.2" x2="46.4" y2="840.1" stroke="#444" stroke-width="0.4"/>
<line x1="49" y1="839.2" x2="49" y2="840.8" stroke="#444" stroke-width="0.4"/>
<line x1="51.5" y1="839.2" x2="51.5" y2="840.1" stroke="#444" stroke-width="0.4"/>
<line x1="54.1" y1="839.2" x2="54.1" y2="840.1" stroke="#444" stroke-width="0.4"/>
<line x1="56.6" y1="839.2" x2="56.6" y2="840.1" stroke="#444" stroke-width="0.4"/>
<line x1="59.2" y1="839.2" x2="59.2" y2="840.1" stroke="#444" stroke-width="0.4"/>
<line x1="61.7" y1="839.2" x2="61.7" y2="840.1" stroke="#444" stroke-width="0.4"/>
<line x1="64.3" y1="839.2" x2="64.3" y2="840.1" stroke="#444" stroke-width="0.4"/>
<line x1="66.8" y1="839.2" x2="66.8" y2="840.1" stroke="#444" stroke-width="0.4"/>
<line x1="69.4" y1="839.2" x2="69.4" y2="840.8" stroke="#444" stroke-width="0.4"/>
<text font-size="5.2" text-anchor="middle" fill="#333" transform="translate(35.5 846.7) scale(1 1.07)">−1500</text>
<text font-size="5.2" text-anchor="middle" fill="#333" transform="translate(49 847.2) scale(1 1.07)">start</text>
<text font-size="5.2" text-anchor="middle" fill="#333" transform="translate(64.1 846.7) scale(1 1.07)">1500</text>
<line x1="73.1" y1="839.2" x2="73.1" y2="840.8" stroke="#444" stroke-width="0.4"/>
<line x1="75.7" y1="839.2" x2="75.7" y2="840.1" stroke="#444" stroke-width="0.4"/>
<line x1="78.3" y1="839.2" x2="78.3" y2="840.1" stroke="#444" stroke-width="0.4"/>
<line x1="80.9" y1="839.2" x2="80.9" y2="840.1" stroke="#444" stroke-width="0.4"/>
<line x1="83.5" y1="839.2" x2="83.5" y2="840.1" stroke="#444" stroke-width="0.4"/>
<line x1="86.1" y1="839.2" x2="86.1" y2="840.1" stroke="#444" stroke-width="0.4"/>
<line x1="88.7" y1="839.2" x2="88.7" y2="840.1" stroke="#444" stroke-width="0.4"/>
<line x1="91.3" y1="839.2" x2="91.3" y2="840.1" stroke="#444" stroke-width="0.4"/>
<line x1="93.8" y1="839.2" x2="93.8" y2="840.8" stroke="#444" stroke-width="0.4"/>
<line x1="96.4" y1="839.2" x2="96.4" y2="840.1" stroke="#444" stroke-width="0.4"/>
<line x1="99" y1="839.2" x2="99" y2="840.1" stroke="#444" stroke-width="0.4"/>
<line x1="101.6" y1="839.2" x2="101.6" y2="840.1" stroke="#444" stroke-width="0.4"/>
<line x1="104.2" y1="839.2" x2="104.2" y2="840.1" stroke="#444" stroke-width="0.4"/>
<line x1="106.8" y1="839.2" x2="106.8" y2="840.1" stroke="#444" stroke-width="0.4"/>
<line x1="109.4" y1="839.2" x2="109.4" y2="840.1" stroke="#444" stroke-width="0.4"/>
<line x1="112" y1="839.2" x2="112" y2="840.1" stroke="#444" stroke-width="0.4"/>
<line x1="114.6" y1="839.2" x2="114.6" y2="840.8" stroke="#444" stroke-width="0.4"/>
<text font-size="5.2" text-anchor="middle" fill="#333" transform="translate(80.2 846.7) scale(1 1.07)">−1500</text>
<text font-size="5.2" text-anchor="middle" fill="#333" transform="translate(93.8 847.2) scale(1 1.07)">start</text>
<text font-size="5.2" text-anchor="middle" fill="#333" transform="translate(109.2 846.7) scale(1 1.07)">1500</text>
<rect x="19.9" y="626.4" width="5.1" height="116.1" fill="#3a148f"/>
<rect x="19.9" y="745" width="5.1" height="94.2" fill="#1fbde8"/>
<text font-size="11.8" text-anchor="middle" fill="#000" transform="translate(16.7 681.2) rotate(-90) scale(1.04 1)">Gain</text>
<text font-size="11.8" text-anchor="middle" fill="#000" transform="translate(16.7 786.6) rotate(-90) scale(1.04 1)">Loss</text>
<text font-size="12.7" text-anchor="middle" fill="#000" transform="translate(92.6 572.8) scale(1 1.07)">C8+C35</text>
<text font-size="12.7" text-anchor="middle" fill="#000" transform="translate(50.8 588.9) scale(1 1.07)">WT</text>
<text font-size="12.7" text-anchor="middle" fill="#000" transform="translate(93.8 588.9) scale(1 1.07)">Mut</text>
<polyline points="28.9,604 29.4,603.9 29.9,603.9 30.4,603.9 30.9,603.9 31.4,603.9 31.9,603.8 32.4,603.8 32.9,603.8 33.4,603.7 33.9,603.7 34.4,603.6 34.9,603.6 35.4,603.5 35.9,603.4 36.4,603.4 36.9,603.3 37.4,603.2 37.9,603.1 38.4,603 38.9,602.9 39.4,602.7 39.9,602.6 40.4,602.4 40.9,602.2 41.4,602 41.9,601.8 42.4,601.5 42.9,601.2 43.4,600.9 43.9,600.5 44.4,600.1 44.9,599.6 45.4,599.1 45.9,598.5 46.4,597.9 46.9,597.3 47.4,596.6 47.9,595.8 48.4,595.1 49,594.3 49.5,594.9 50,595.7 50.5,596.5 51,597.2 51.5,597.8 52,598.5 52.5,599.1 53,599.6 53.5,600.1 54,600.5 54.5,600.9 55,601.3 55.5,601.6 56,601.9 56.5,602.1 57,602.3 57.5,602.5 58,602.7 58.5,602.9 59,603 59.5,603.2 60,603.3 60.5,603.4 61,603.5 61.5,603.6 62,603.7 62.5,603.8 63,603.8 63.5,603.9 64,604 64.5,604 65,604.1 65.5,604.1 66,604.2 66.5,604.2 67,604.2 67.5,604.3 68,604.3 68.5,604.3 69,604.4" fill="none" stroke="#49c6ef" stroke-width="0.9"/>
<polyline points="28.9,619.5 29.4,619.5 29.9,619.5 30.4,619.5 30.9,619.5 31.4,619.5 31.9,619.5 32.4,619.5 32.9,619.5 33.4,619.5 33.9,619.5 34.4,619.5 34.9,619.5 35.4,619.5 35.9,619.5 36.4,619.5 36.9,619.5 37.4,619.5 37.9,619.5 38.4,619.5 38.9,619.5 39.4,619.5 39.9,619.5 40.4,619.5 40.9,619.5 41.4,619.5 41.9,619.5 42.4,619.5 42.9,619.5 43.4,619.4 43.9,619.4 44.4,619.4 44.9,619.4 45.4,619.3 45.9,619.3 46.4,619.2 46.9,619.2 47.4,619.1 47.9,619 48.4,618.8 49,618.6 49.5,618.8 50,618.9 50.5,619.1 51,619.2 51.5,619.2 52,619.3 52.5,619.3 53,619.4 53.5,619.4 54,619.4 54.5,619.4 55,619.5 55.5,619.5 56,619.5 56.5,619.5 57,619.5 57.5,619.5 58,619.5 58.5,619.5 59,619.5 59.5,619.5 60,619.5 60.5,619.5 61,619.5 61.5,619.5 62,619.5 62.5,619.5 63,619.5 63.5,619.5 64,619.5 64.5,619.5 65,619.5 65.5,619.5 66,619.5 66.5,619.5 67,619.5 67.5,619.5 68,619.5 68.5,619.5 69,619.5" fill="none" stroke="#6a3ec4" stroke-width="0.9"/>
<polyline points="73.5,617.4 74,617.3 74.5,617.3 75,617.3 75.5,617.3 76,617.3 76.6,617.3 77.1,617.2 77.6,617.2 78.1,617.2 78.6,617.2 79.1,617.1 79.6,617.1 80.1,617 80.6,616.9 81.1,616.9 81.6,616.8 82.1,616.7 82.7,616.6 83.2,616.5 83.7,616.3 84.2,616.2 84.7,616 85.2,615.8 85.7,615.6 86.2,615.3 86.7,615.1 87.2,614.8 87.7,614.5 88.3,614.1 88.8,613.8 89.3,613.4 89.8,613 90.3,612.5 90.8,612 91.3,611.5 91.8,611 92.3,610.4 92.8,609.7 93.3,609 93.8,608.2 94.4,608.9 94.9,609.6 95.4,610.2 95.9,610.8 96.4,611.4 96.9,611.9 97.4,612.4 97.9,612.8 98.4,613.2 98.9,613.6 99.4,614 100,614.3 100.5,614.6 101,614.9 101.5,615.2 102,615.4 102.5,615.6 103,615.8 103.5,616 104,616.1 104.5,616.3 105,616.4 105.6,616.5 106.1,616.6 106.6,616.7 107.1,616.7 107.6,616.8 108.1,616.8 108.6,616.9 109.1,616.9 109.6,617 110.1,617 110.6,617 111.1,617 111.7,617 112.2,617 112.7,617 113.2,617 113.7,617.1 114.2,617.1" fill="none" stroke="#6a3ec4" stroke-width="0.9"/>
<polyline points="73.5,613.5 74,613.5 74.5,613.5 75,613.5 75.5,613.5 76,613.5 76.6,613.5 77.1,613.5 77.6,613.5 78.1,613.5 78.6,613.5 79.1,613.5 79.6,613.5 80.1,613.5 80.6,613.5 81.1,613.5 81.6,613.5 82.1,613.5 82.7,613.5 83.2,613.4 83.7,613.4 84.2,613.4 84.7,613.4 85.2,613.4 85.7,613.4 86.2,613.3 86.7,613.3 87.2,613.3 87.7,613.2 88.3,613.2 88.8,613.1 89.3,613 89.8,612.9 90.3,612.8 90.8,612.6 91.3,612.5 91.8,612.3 92.3,612 92.8,611.7 93.3,611.4 93.8,610.9 94.4,611.3 94.9,611.7 95.4,612 95.9,612.2 96.4,612.4 96.9,612.6 97.4,612.8 97.9,612.9 98.4,613 98.9,613.1 99.4,613.1 100,613.2 100.5,613.3 101,613.3 101.5,613.3 102,613.4 102.5,613.4 103,613.4 103.5,613.4 104,613.4 104.5,613.4 105,613.5 105.6,613.5 106.1,613.5 106.6,613.5 107.1,613.5 107.6,613.5 108.1,613.5 108.6,613.5 109.1,613.5 109.6,613.5 110.1,613.5 110.6,613.5 111.1,613.5 111.7,613.5 112.2,613.5 112.7,613.5 113.2,613.5 113.7,613.5 114.2,613.5" fill="none" stroke="#49c6ef" stroke-width="0.9"/>
<line x1="25.8" y1="601.6" x2="28.3" y2="601.6" stroke="#444" stroke-width="0.6"/>
<text font-size="5.6" text-anchor="end" fill="#333" transform="translate(25 603.6) scale(1 1.07)">10</text>
<line x1="25.8" y1="613.4" x2="28.3" y2="613.4" stroke="#444" stroke-width="0.6"/>
<text font-size="5.6" text-anchor="end" fill="#333" transform="translate(25 615.4) scale(1 1.07)">5</text>
<line x1="25.8" y1="624.5" x2="28.3" y2="624.5" stroke="#444" stroke-width="0.6"/>
<text font-size="5.6" text-anchor="end" fill="#333" transform="translate(25 626.5) scale(1 1.07)">0</text>
<rect x="27.6" y="851.4" width="39.1" height="8.1" fill="url(#cbP)"/>
<rect x="73.3" y="851.4" width="39.4" height="8.1" fill="url(#cbM)"/>
<text font-size="6.0" text-anchor="middle" fill="#222" transform="translate(31 865.4) scale(1 1.07)">30</text>
<text font-size="6.0" text-anchor="middle" fill="#222" transform="translate(43 865.4) scale(1 1.07)">20</text>
<text font-size="6.0" text-anchor="middle" fill="#222" transform="translate(55 865.4) scale(1 1.07)">10</text>
<text font-size="6.0" text-anchor="middle" fill="#222" transform="translate(66.4 865.4) scale(1 1.07)">0</text>
<text font-size="6.0" text-anchor="middle" fill="#222" transform="translate(76.6 865.4) scale(1 1.07)">30</text>
<text font-size="6.0" text-anchor="middle" fill="#222" transform="translate(88.9 865.4) scale(1 1.07)">20</text>
<text font-size="6.0" text-anchor="middle" fill="#222" transform="translate(101 865.4) scale(1 1.07)">10</text>
<text font-size="6.0" text-anchor="middle" fill="#222" transform="translate(111.5 865.4) scale(1 1.07)">0</text>
<line x1="170.9" y1="583.7" x2="170.9" y2="712.3" stroke="#e4e4e4" stroke-width="0.7"/>
<line x1="205.7" y1="583.7" x2="205.7" y2="712.3" stroke="#e4e4e4" stroke-width="0.7"/>
<line x1="240.5" y1="583.7" x2="240.5" y2="712.3" stroke="#e4e4e4" stroke-width="0.7"/>
<line x1="275.3" y1="583.7" x2="275.3" y2="712.3" stroke="#e4e4e4" stroke-width="0.7"/>
<line x1="310.1" y1="583.7" x2="310.1" y2="712.3" stroke="#e4e4e4" stroke-width="0.7"/>
<line x1="166.3" y1="707" x2="328.6" y2="707" stroke="#e4e4e4" stroke-width="0.7"/>
<line x1="166.3" y1="676.2" x2="328.6" y2="676.2" stroke="#e4e4e4" stroke-width="0.7"/>
<line x1="166.3" y1="645.4" x2="328.6" y2="645.4" stroke="#e4e4e4" stroke-width="0.7"/>
<line x1="166.3" y1="614.6" x2="328.6" y2="614.6" stroke="#e4e4e4" stroke-width="0.7"/>
<line x1="166.3" y1="583.8" x2="328.6" y2="583.8" stroke="#e4e4e4" stroke-width="0.7"/>
<line x1="166.3" y1="583.7" x2="166.3" y2="712.3" stroke="#ececec" stroke-width="0.6"/>
<line x1="328.6" y1="583.7" x2="328.6" y2="712.3" stroke="#ececec" stroke-width="0.6"/>
<line x1="166.3" y1="712.3" x2="328.6" y2="712.3" stroke="#e4e4e4" stroke-width="0.7"/>
<text font-size="5.8" text-anchor="end" fill="#555" transform="translate(163 709.1) scale(1 1.07)">0</text>
<text font-size="5.8" text-anchor="end" fill="#555" transform="translate(163 678.3) scale(1 1.07)">1</text>
<text font-size="5.8" text-anchor="end" fill="#555" transform="translate(163 647.5) scale(1 1.07)">2</text>
<text font-size="5.8" text-anchor="end" fill="#555" transform="translate(163 616.7) scale(1 1.07)">3</text>
<text font-size="5.8" text-anchor="end" fill="#555" transform="translate(163 585.9) scale(1 1.07)">4</text>
<text font-size="6.2" text-anchor="middle" fill="#555" transform="translate(170.9 720.2) scale(1 1.07)">−1.0</text>
<text font-size="6.2" text-anchor="middle" fill="#555" transform="translate(205.7 720.2) scale(1 1.07)">−0.5</text>
<text font-size="6.2" text-anchor="middle" fill="#555" transform="translate(240.5 720.2) scale(1 1.07)">0.0</text>
<text font-size="6.2" text-anchor="middle" fill="#555" transform="translate(275.3 720.2) scale(1 1.07)">0.5</text>
<text font-size="6.2" text-anchor="middle" fill="#555" transform="translate(310.1 720.2) scale(1 1.07)">1.0</text>
<text font-size="10.3" text-anchor="middle" fill="#111" transform="translate(244 729.7) scale(1 1.07)">log2 Fold Change</text>
<text font-size="9.4" text-anchor="middle" fill="#111" transform="translate(157 649.5) rotate(-90) scale(1.15 1)">−log10(FDR)</text>
<rect x="185.9" y="705.8" width="107.9" height="2.4" fill="#2f0d8a"/>
<circle cx="177.9" cy="707" r="1.2" fill="#2f0d8a"/>
<circle cx="179.9" cy="707" r="1.2" fill="#2f0d8a"/>
<polygon points="240.5,707 238.3,704.9 236.2,702.8 234,700.8 231.8,698.7 229.7,696.6 227.5,694.5 225.4,692.4 223.2,690.4 221.1,688.3 218.9,686.2 216.8,684.1 215,682.1 213.2,680 211.5,677.9 209.7,675.8 207.9,673.7 206.1,671.7 204.4,669.6 202.6,667.5 200.8,665.4 208.8,665.4 210.4,667.5 212,669.6 213.6,671.7 215.2,673.7 216.8,675.8 218.4,677.9 220,680 221.6,682.1 223.2,684.1 224.8,686.2 226.4,688.3 228,690.4 229.6,692.4 231.2,694.5 232.8,696.6 234.3,698.7 235.9,700.8 237.4,702.8 239,704.9 240.5,707" fill="#2f0d8a"/>
<polygon points="240.5,707 243.1,704.9 245.7,702.8 248.4,700.8 250.9,698.7 253.2,696.6 255.5,694.5 257.8,692.4 260.1,690.4 262.4,688.3 264.5,686.2 266.2,684.1 267.9,682.1 269.5,680 271.2,677.9 272.9,675.8 274.5,673.7 276.2,671.7 277.9,669.6 279.5,667.5 281.2,665.4 272.5,665.4 270.8,667.5 269,669.6 267.3,671.7 265.6,673.7 263.8,675.8 262.1,677.9 260.4,680 258.6,682.1 256.9,684.1 255.2,686.2 253.5,688.3 251.9,690.4 250.4,692.4 248.8,694.5 247.2,696.6 245.6,698.7 244.3,700.8 243,702.8 241.8,704.9 240.5,707" fill="#2f0d8a"/>
<polygon points="200.8,665.4 200.2,664.4 199.6,663.4 199,662.4 198.4,661.4 197.8,660.4 197.1,659.4 196.5,658.4 195.9,657.4 195.3,656.4 194.7,655.4 194.1,654.4 193.5,653.4 192.9,652.4 192.2,651.4 191.6,650.4 191,649.4 190.4,648.4 189.8,647.4 189.1,646.4 188.4,645.4 203.6,645.4 204,646.4 204.3,647.4 204.6,648.4 204.8,649.4 205.1,650.4 205.3,651.4 205.6,652.4 205.8,653.4 206.1,654.4 206.3,655.4 206.6,656.4 206.8,657.4 207.1,658.4 207.3,659.4 207.6,660.4 207.8,661.4 208.1,662.4 208.3,663.4 208.6,664.4 208.8,665.4" fill="#e8198a"/>
<polygon points="281.2,665.4 282.3,663.3 283.4,661.1 284.4,659 285.5,656.8 286.6,654.6 287.7,652.5 288.7,650.3 289.8,648.2 291.1,646 292.7,643.9 294.2,641.7 295.7,639.5 297.2,637.4 298.7,635.2 300.3,633.1 301.8,630.9 303.4,628.8 305,626.6 306.7,624.5 308.4,622.3 302.1,622.3 300.2,624.5 298.4,626.6 296.5,628.8 294.7,630.9 293,633.1 291.3,635.2 289.5,637.4 287.8,639.5 286,641.7 284.3,643.9 282.6,646 281.1,648.2 280,650.3 279,652.5 277.9,654.6 276.8,656.8 275.7,659 274.7,661.1 273.6,663.3 272.5,665.4" fill="#e8198a"/>
<path d="M219.7 681.3h0M215.9 674.3h0M217.5 676.5h0M238.9 705.2h0M208.7 668.3h0M205.4 670h0M221.5 687.5h0M221 684.4h0M239.4 705.9h0M231.6 695.1h0M210.4 675.5h0M209.1 674.2h0M215.1 681.5h0M240 706.3h0M231.6 697.9h0M209.5 666.7h0M231.5 694.7h0M221.9 684.6h0M234 698.1h0M219.3 678.5h0M207.2 670.3h0M225.3 691.8h0M233.8 700.5h0M229.6 694.2h0M239.9 706.2h0M227 692.8h0M211.3 673.4h0M228.6 693.6h0M211.6 678h0M202 667h0M216.5 676.1h0M239.4 705.7h0M227.2 691.6h0M239.5 706h0M234.8 699.1h0M233.7 698.5h0M211.7 668.9h0M226.9 692.5h0M223.1 685.2h0M236.5 702h0M215.2 674.2h0M239 704.9h0M236.5 702.7h0M221.4 681.7h0M229.8 692.7h0M219 684.4h0M227.2 693.6h0M236.7 703.2h0M219.6 678.6h0M233.1 699.9h0M206.3 666.6h0M223.9 690h0M221.3 682.4h0M223.1 688h0M238.4 704.1h0M238.8 705.1h0M207.7 672.6h0M217.9 676.9h0M219.8 680.9h0M236 702.1h0M235.4 700.4h0M229.2 694.5h0M208.8 666.1h0M205.9 667h0M224 686.7h0M221.4 687.1h0M223.5 690.1h0M229 691.2h0M208 667.7h0M220.9 686.2h0M236.4 702.8h0M215.7 674.8h0M228.5 691.8h0M214.5 675.1h0M218.5 679.6h0M228 691.7h0M229.9 695.1h0M214.6 675.3h0M231.3 694.5h0M217.6 680.2h0M239.6 705.9h0M231.6 696.3h0M225.4 687.7h0M219.4 680.3h0M228.2 692.3h0M216.8 676.6h0M229.1 692.3h0M211.4 671.3h0M210.4 667h0M221.6 685.5h0M234.9 699.7h0M207.4 668.6h0M217.3 678.5h0M211.7 676.9h0M213.4 674.9h0M215.8 679.5h0M219.9 681.2h0M219.1 680.7h0M238.8 705.3h0M225.1 688.6h0M232.7 697.5h0M214 680.9h0M221.3 687.4h0M237.7 704.2h0M227.2 693.6h0M231.7 698.6h0M222.5 687.6h0M218.9 681.7h0M232.9 696.8h0M239.9 706.4h0M229.6 695.1h0M236.5 701.7h0M224.1 691.3h0M215 681.6h0M219.2 684.4h0M222.7 682.9h0M210.8 673.4h0M212.8 673.6h0M224.9 691.5h0M219.2 682.3h0M211.1 667.8h0M217.2 681.8h0M204.6 670.3h0M236.2 702h0M215.3 681.6h0M220.6 681h0M226.1 691.2h0M231.2 697.3h0M205.3 667.1h0M210.5 667.6h0M216.9 682.3h0M206.1 666.8h0M224 689.6h0M206 666.7h0M229.6 694.8h0M235.8 701.5h0M222.8 688.5h0M215.4 674.8h0M239.5 705.9h0M231.9 695.3h0M210.5 674.8h0M229 695.6h0M204 666.5h0M218.1 681.9h0M217.9 680.4h0M210.8 676.4h0M211.7 675.7h0M219.6 684.9h0M229.5 694.4h0M222.4 687.6h0M214.6 676.3h0M238.5 704.9h0M226.2 688h0M209.6 670.6h0M239.6 705.8h0M225.1 689.1h0M216.1 677.8h0M225.4 686.9h0M225.6 690.8h0M207.8 672h0M230.7 694.4h0M238 703.7h0M215 678.4h0M230.9 694.8h0M205.3 669.6h0M223.1 687.1h0M221 686.3h0M234.7 700.2h0M208 673.6h0M232.8 697.1h0M213.7 674.4h0M239.2 705.4h0M210.7 666.9h0M211.7 678.1h0M208.3 672.4h0M220.6 680.3h0M212 677.6h0M231.2 694.6h0M234.9 700.3h0M223.2 689.7h0M214.3 681.3h0M235.9 702h0M236.8 703.5h0M221.2 683.2h0M206.3 670.9h0M223.4 689h0M218.5 682.2h0M206.4 668.5h0M238.2 704.1h0M234.9 700.3h0M224.6 686h0M221 684h0M230.7 695.8h0M231.8 696.1h0M218.8 685.5h0M231.1 696.9h0M211.5 676.7h0M216.1 677.6h0M237.2 702.9h0M236.1 702.7h0M216.8 682.4h0M209.4 671h0M229.7 693.3h0M239 705.2h0M237.7 704.2h0M208.7 668h0M230.7 697.4h0M207.9 667.1h0M208.3 673.3h0M216.6 681.2h0M231 696.9h0M217 681.6h0M224.2 690.8h0M212.3 672.9h0M211.3 673.9h0M210.5 672h0M219.4 682.5h0M213.2 676.5h0M235.8 702.5h0M231.3 698.2h0M209 670.5h0M209.2 675.7h0M225.6 687.4h0M217.4 681.4h0M220.7 687.6h0M233.6 700.1h0M225.9 691.3h0M206.4 670.9h0M230.1 696.1h0M233.7 699.9h0M231.5 696.9h0M239.1 705.1h0M229 691.5h0M217.1 678.6h0M225.9 687.4h0M236.1 701.6h0M230.3 694.6h0M211.6 677h0M231.3 698.3h0M230.3 697.1h0M228.2 690.2h0M225.9 691.7h0M221.8 687.5h0M216 676.8h0M233.5 699.8h0M219.7 679.3h0M216.5 680.3h0M201.9 667h0M238.1 703.9h0M222.7 689.8h0M223.9 684.3h0M220.3 685.4h0M236 702.6h0M208.8 670.1h0M203.7 668.6h0M229.7 696.6h0M223.3 690.4h0M230.5 696.1h0M227.1 694h0M239 704.9h0M247.7 699.1h0M255.7 690.1h0M244.8 703h0M244.9 702h0M272.5 669.2h0M274.3 671.8h0M241.7 705.7h0M258.4 686.8h0M253.9 691.2h0M262.8 677.1h0M252.9 694h0M273.2 673h0M246.1 701.7h0M243.5 702.8h0M272.1 673.3h0M247.7 701.1h0M253 696.5h0M256.2 689.1h0M253.2 696.5h0M271 678.1h0M249.8 698.3h0M258.6 691.3h0M258.5 689.4h0M267.4 676h0M271.1 670.2h0M267.4 675.7h0M254.3 688.5h0M260 679.9h0M265 677h0M248.7 695.6h0M258.7 691h0M244.3 703.7h0M249.5 695.8h0M255 694.9h0M267.7 675.6h0M242.7 705.3h0M246.5 701.1h0M266.9 671.7h0M266.2 681.7h0M258.4 689.1h0M257.4 693.1h0M258.9 682.8h0M271.3 677.1h0M264.1 685h0M267.1 677.8h0M271.1 668.5h0M246.2 701.6h0M273.7 669.5h0M257.8 688.9h0M263.9 675.4h0M255.6 684.9h0M267 682.3h0M270.8 673.5h0M242 704.3h0M242.2 705.1h0M254.9 686.9h0M258.3 690.5h0M253.6 695.2h0M263.2 683.7h0M270.6 676.1h0M256.3 692.2h0M272.1 666.7h0M270 672.1h0M259.3 690.2h0M270.7 672.8h0M243 704.9h0M244 702.4h0M275.9 670.1h0M271.3 674.2h0M261.8 678.8h0M260.5 681.2h0M259.5 691.2h0M259.1 685.7h0M248.6 698.9h0M256.7 693.6h0M253.6 693.8h0M256.6 687.2h0M251.4 690.3h0M265.7 673.5h0M264.2 678.4h0M257.6 684.7h0M253.7 691.7h0M265.3 679h0M254.8 694.9h0M244.7 702.9h0M259.5 683h0M268.7 677.6h0M276.1 668.9h0M271.2 677.5h0M266.2 676h0M270.7 667.8h0M262.3 678.6h0M266.3 676.6h0M248.7 698h0M275.4 670.2h0M274.9 667.1h0M260.3 690.5h0M258.5 690.6h0M260.5 680h0M272 669.7h0M259 690.8h0M265.3 678.6h0M268 677.5h0M275.3 670.6h0M254.3 694.1h0M259.4 681.3h0M246.5 699.6h0M271.3 675.5h0M243.2 703.9h0M266.6 672.9h0M268 677h0M256.6 689.2h0M275 669.9h0M250.7 695.1h0M278.2 667.4h0M242.7 705.2h0M260.6 683.7h0M249.7 699h0M261.2 682.4h0M263.5 678.5h0M243.4 703.9h0M266 672.7h0M250 693.5h0M259.9 680.4h0M248.2 697.1h0M271.1 672.5h0M245.9 702.3h0M249 700.1h0M246.1 700.3h0M244 702.2h0M264.1 676.7h0M267.5 674h0M269 669.1h0M258.8 681.2h0M246.3 702.2h0M244.2 703.8h0M255.4 691.3h0M263 678.9h0M244.5 703h0M262.4 684.5h0M245 701.6h0M253.3 691.3h0M254.5 686.4h0M278.7 668.3h0M265.9 675.7h0M255 694.4h0M260.4 687.1h0M263.1 676.6h0M257.2 691h0M257.4 686.3h0M268.4 674.5h0M253.3 694.4h0M270.9 672.2h0M243.1 704.4h0M248.7 696.8h0M244.4 703.4h0M244.7 702.5h0M275.2 666.7h0M251.4 690.8h0M244.9 702.7h0M275 673.7h0M269.8 675.5h0M241.9 705.7h0M259.3 687.9h0M265 685.5h0M246.1 697.6h0M257.8 688.5h0M244.9 702.9h0M272.8 667.9h0M264.7 685.9h0M253.1 690.5h0M256.3 688.8h0M271.4 670h0M269 680.7h0M241.6 705.4h0M252.8 689.7h0M266.1 673.1h0M250.6 691.1h0M264 675.9h0M245.2 700.4h0M252.1 689.4h0M278.8 666.3h0M259 689.4h0M260.8 687.4h0M269.1 679.5h0M247.6 699.6h0M244.1 703.4h0M268.8 670.2h0M251.3 698.5h0M265.7 673h0M266.7 682.2h0M247 696.8h0M278.8 668.6h0M248.3 698.9h0M249.1 695.6h0M252.4 691.3h0M246.6 700.3h0M273.3 667h0M245.6 702.8h0M265.7 680.4h0M255 691.5h0M257.3 682.9h0M249.5 696.7h0M250.5 695.8h0M271.1 676.9h0M256.8 687h0M241.2 706.1h0M256.6 689.5h0M260.2 681.8h0M243.1 704.1h0M242.7 704.8h0M258 692.4h0M252.5 694.4h0M260.2 680h0M254.6 691.4h0M262.1 677.6h0M269.5 668.1h0M254.9 694.2h0M278.2 668.8h0M255.3 688.3h0M261.8 685.1h0M275.7 669.1h0M257.8 684.1h0M246.9 700.8h0M258.7 686.4h0M249 698h0M244.2 704h0M256.8 692.6h0M277.5 667.3h0M249.2 695.3h0M270.1 676.5h0M269.2 672.9h0M254.3 690.7h0M251.8 696.5h0M272.7 671h0M276 670.2h0M248.2 700.8h0M266.9 676.5h0M241.8 706h0M270.4 673.1h0M276.6 671.2h0M266.6 682.6h0M265.8 677.3h0M266.3 681.7h0M278.4 668.1h0M243 703.8h0M245.9 702.6h0M256.6 687.8h0M270.3 670.4h0M243.3 703.6h0M274.9 672.3h0M270.5 675.9h0M256.1 694.3h0M268 675.8h0M273.3 670h0M248.3 700.1h0M247.6 695.8h0M251.3 698.1h0M257.8 692.2h0M255.7 689.2h0M268 680.1h0M246.2 700.8h0M266.4 678.7h0M257.6 683.3h0M247.6 700.5h0M259 686.5h0M272.3 670.1h0M265.8 679.7h0M265.5 674.7h0M255 694.5h0M251.7 695.9h0M274.9 670.5h0M262.4 681h0M278.6 667.8h0M270.2 675.3h0M244.4 702.2h0M270.1 672.3h0M242 704.4h0M254.1 690.9h0M269.5 677.2h0M257.9 689.9h0M246.1 702.5h0M267.7 677.5h0M276.3 671.3h0M254.8 694.2h0M271.3 668.3h0M272.7 670.2h0M245.2 702.2h0M252.6 697.3h0M264 683.6h0M245 702h0M269.4 668.7h0M262.5 687.6h0M272.5 675.4h0M265.3 684.7h0M275.3 666.6h0M259.6 688.7h0M256.2 684.2h0M259.8 689.1h0M255.6 685.6h0" stroke="#2f0d8a" stroke-width="2.3" stroke-linecap="round" fill="none"/>
<path d="M204 655h0M192 641.3h0M197.8 644.1h0M198.5 661.2h0M194.8 640.8h0M208.2 653.5h0M199.9 650.1h0M206.4 657.5h0M202.6 658.3h0M200.1 645.4h0M200.5 661.4h0M203.3 647h0M210.7 662.2h0M200 661.4h0M204.1 662.5h0M206.2 649h0M206.6 660.6h0M205.6 662.1h0M201.1 658.4h0M207.7 663.5h0M207.7 661.7h0M203.7 656.2h0M199.1 648.5h0M205.5 642.5h0M200.4 657.6h0M188.4 642.4h0M200.1 654.1h0M186.7 639.8h0M204.1 648.1h0M188.2 646.2h0M191.3 640.7h0M200.2 643h0M207 654h0M195.8 647.5h0M198.4 646.1h0M200.8 646.6h0M190.3 644.5h0M192.1 652.2h0M203.1 644.6h0M187.2 643.4h0M199.9 651.1h0M200.7 661.7h0M203.1 639.9h0M207.9 658.7h0M197 648.2h0M194 648.3h0M195.8 657.8h0M200.7 648h0M198.2 645.8h0M198.1 653.7h0M195.6 646h0M204.5 649.5h0M204.3 653.4h0M202.1 663.2h0M189.3 643.3h0M199.3 663.4h0M189.7 645.2h0M200 653.1h0M196.8 644.3h0M192.1 651.5h0M203 644.5h0M205.8 648.9h0M203.6 649.1h0M199.2 643h0M209.8 664.3h0M188.1 639.5h0M203 663.1h0M203 662.2h0M201.3 662.5h0M204.8 664.7h0M206 657.1h0M196.4 654.9h0M204.3 640.4h0M193.2 647.2h0M200.8 654.5h0M193.9 654.4h0M205.6 653.2h0M205.9 647.1h0M204 647.3h0M205.5 642.5h0M195.7 644.5h0M202.2 647.9h0M201 642.2h0M196.1 653.5h0M198.6 656.4h0M204.2 647.4h0M204.2 659.9h0M194 643.3h0M206 662.4h0M196.4 655.5h0M195.5 657.4h0M203.2 661h0M198.4 662.1h0M208.4 650.7h0M193.2 643.5h0M186.4 641.2h0M197.7 661h0M206.2 663.3h0M197.5 645.5h0M196.3 644.3h0M198.2 641.3h0M194.4 651.1h0M200.4 653.9h0M191.4 643.8h0M207.4 657.3h0M205.3 663h0M205.7 659.2h0M192.2 649.6h0M196.4 646.1h0M207.8 656.6h0M193.7 644.9h0M191.5 647.5h0M193.1 651.5h0M207.2 648.4h0M190.6 648.5h0M200 651.7h0M195.4 653.5h0M202.1 657.7h0M207 663h0M200.2 658.6h0M202.3 662.5h0M191.1 641h0M202.7 662.4h0M186.3 640.6h0M197.7 656h0M198.1 647.4h0M209.1 662.3h0M205.2 656.4h0M207.4 653.2h0M201.8 663.3h0M199.3 657.5h0M197.1 643.8h0M202.3 655.9h0M198.3 643.2h0M203.8 653.3h0M197.8 649.1h0M195.3 653.9h0M207.6 653.6h0M200.6 657h0M201.3 649.4h0M196 640.5h0M175.1 625.1h0M205.4 642.4h0M173.4 620.3h0M202.2 643.1h0M200.9 637.5h0M198.2 644.5h0M193 640.9h0M192.3 626.2h0M203 621.7h0M204.6 628.2h0M196.8 640.5h0M199.6 636.5h0M208.9 642.3h0M204.1 635.1h0M206.3 619.3h0M206.3 634.6h0M174.4 617.8h0M199.6 624.7h0M187.2 632.7h0M195.1 640.6h0M185.8 619.6h0M200 638.3h0M198.2 633.3h0M187.5 632.8h0M207.7 644.4h0M183.4 627.1h0M196.6 631.6h0M207.1 631.4h0M184 623.8h0M199 636h0M209.9 640.9h0M199.2 644.1h0M197.1 637.8h0M191.9 644.1h0M200.1 618h0M195.7 639.3h0M189.5 644.5h0M211.1 640.1h0M188.2 636.8h0M282.1 662h0M302.7 622.5h0M299.2 625.7h0M299.4 631.5h0M282.6 657.6h0M281.4 662h0M295.3 634.2h0M278.9 664.4h0M296.5 628.7h0M293.4 633.8h0M301.2 626.1h0M283.8 648.5h0M287.5 652.8h0M282.5 653.8h0M283.6 659.7h0M283.2 654.3h0M303.4 624.1h0M297 629.2h0M292.8 639.6h0M286.8 648.1h0M289 637.8h0M299.3 631.2h0M285 658.4h0M293.5 640h0M278.8 664.6h0M284.6 655.1h0M292.6 636.6h0M280 652.8h0M276.3 656h0M278 659.8h0M292.6 634.8h0M283.8 644.1h0M290.4 638.1h0M281.6 661.4h0M286.5 645h0M275.9 660.8h0M284.1 650.1h0M285.3 642.6h0M282.3 652h0M290 639.1h0M285.5 651.5h0M286.1 644.8h0M296.3 637.4h0M285.7 645.8h0M285 656.5h0M306.2 625.3h0M290.2 643.6h0M279.7 663.5h0M281 657.9h0M305.1 626.1h0M281.8 649.9h0M296.8 638.2h0M283.7 655.1h0M301.6 626.8h0M282.2 653.9h0M291.3 644.2h0M291.4 636.5h0M287 644.5h0M292.8 632.1h0M296.2 638.8h0M286.6 643.3h0M281.5 650.7h0M283 649.2h0M290.1 638.7h0M300.5 625.5h0M293 634.7h0M280.2 655h0M296.3 638.4h0M298.8 632.7h0M287.6 643.9h0M292.9 634.1h0M282.4 644.9h0M285.5 646h0M305.9 622.7h0M290.8 634.5h0M275.3 661.2h0M292.6 637.1h0M294.3 631.2h0M279.8 658.6h0M289.9 638.6h0M300.9 624.1h0M302.5 629.6h0M281.2 646.7h0M300.8 624.6h0M280.6 650.6h0M287.4 642.2h0M289 637.7h0M290.7 634.4h0M287.9 643.8h0M292.6 636.9h0M272.6 662.7h0M283.3 651.3h0M280.8 663h0M304.1 625.3h0M279.4 652.1h0M279.8 654.5h0M286.3 640.6h0M289.1 644.5h0M283.5 653.8h0M280.7 664.8h0M281.7 658.5h0M292.8 632.1h0M286.7 649.7h0M281.3 652.3h0M291.4 644.5h0M291.2 642.5h0M276.5 658.7h0M279.4 660.3h0M296.3 632.2h0M301.9 627.7h0M306.6 624.6h0M301.7 626.8h0M279.2 664.7h0M302.7 622.8h0M292.9 633.5h0M278.8 664.5h0M282.6 645h0M304.5 626.2h0M303.9 622.8h0M287.5 651.9h0M285.5 646.7h0M288.6 645.5h0M303.1 624.5h0M280 651.7h0M282.5 654.4h0M281.6 660.4h0M303.7 622.4h0M287.1 642.5h0M293.5 636.2h0M288.1 649.2h0M281.3 663.6h0M290.4 647.6h0M295.3 636.1h0M283.5 654.9h0M290.9 643.9h0M299.8 628.6h0M282.5 661.9h0M300.3 627h0M280.4 652.4h0M273.3 662.8h0M301.2 625h0M278.4 662.7h0M298.3 629.2h0M283.8 655.9h0M277.6 662.1h0M281 657.1h0M297.8 626.7h0M284.9 643.9h0M274.5 659.1h0M300.2 628h0M302.5 627.1h0M305.5 623.1h0M299.4 625.5h0M300.6 625.1h0M280.5 661.7h0M289.2 636.9h0M298.3 635.9h0M285.6 650h0M283.1 657.5h0M289.9 642.9h0M283.1 653.5h0M302.1 624.5h0M292.3 632.8h0M273 663.5h0M281.8 660.8h0M293.6 633.4h0M292 638.7h0M296 634.1h0M283.7 656.5h0M283.9 660h0M299.5 624.3h0M284.8 650h0M279.4 653h0M291.3 643.9h0M297.1 627.2h0M277.9 662.8h0M279.7 655.4h0M286.3 649.6h0M281.8 652h0M288.3 643.4h0M294.2 635.9h0M303.4 624.6h0M293.8 631.2h0M291.2 638.4h0M295.6 631.2h0M281.5 656.6h0M285 658.1h0M295.8 635.6h0M287.1 654h0M275.1 663.8h0M284.8 649.6h0M289.9 636.1h0M297.2 635h0M306.9 622.8h0M289.3 640.1h0M278.4 652.6h0M289.6 638.9h0M275.8 658.9h0M281.3 652.6h0M297.4 633.5h0M284 653.5h0M302.7 623.2h0M286.5 644.8h0M295.4 636.9h0M282.4 661.6h0M289.8 640.1h0M303 623.2h0M295.5 628.5h0M288.8 643.7h0M288.5 644.8h0M295.9 632.5h0M274.2 659.6h0M286.4 642.4h0M288.7 641.5h0M294.4 640.3h0M276.8 659.2h0M288 649.9h0M296.2 630.1h0M297.7 632.3h0M276.5 659.2h0" stroke="#e8198a" stroke-width="2.3" stroke-linecap="round" fill="none"/>
<circle cx="174.4" cy="618.6" r="1.2" fill="#e8198a"/>
<circle cx="175.8" cy="626.3" r="1.2" fill="#e8198a"/>
<circle cx="180.6" cy="628.5" r="1.2" fill="#e8198a"/>
<circle cx="186.2" cy="618.3" r="1.2" fill="#e8198a"/>
<circle cx="190.4" cy="613.1" r="1.2" fill="#e8198a"/>
<circle cx="193.2" cy="611.5" r="1.2" fill="#e8198a"/>
<circle cx="191.8" cy="623.8" r="1.2" fill="#e8198a"/>
<circle cx="197.3" cy="621.4" r="1.2" fill="#e8198a"/>
<circle cx="198.7" cy="630.6" r="1.2" fill="#e8198a"/>
<circle cx="202.2" cy="638.6" r="1.2" fill="#e8198a"/>
<circle cx="205.7" cy="644.8" r="1.2" fill="#e8198a"/>
<circle cx="204.3" cy="654.6" r="1.2" fill="#e8198a"/>
<circle cx="207.1" cy="659.3" r="1.2" fill="#e8198a"/>
<circle cx="211.3" cy="661.4" r="1.2" fill="#e8198a"/>
<circle cx="306.6" cy="614.6" r="1.2" fill="#e8198a"/>
<circle cx="310.1" cy="613.1" r="1.2" fill="#e8198a"/>
<circle cx="313.6" cy="610" r="1.2" fill="#e8198a"/>
<circle cx="317.1" cy="602.3" r="1.2" fill="#e8198a"/>
<circle cx="321.2" cy="598.6" r="1.2" fill="#e8198a"/>
<circle cx="325.4" cy="591.5" r="1.2" fill="#e8198a"/>
<circle cx="301.1" cy="619.2" r="1.2" fill="#e8198a"/>
<circle cx="269.7" cy="662.3" r="1.2" fill="#e8198a"/>
<circle cx="271.8" cy="657.1" r="1.2" fill="#e8198a"/>
<circle cx="275.3" cy="653.1" r="1.2" fill="#e8198a"/>
<circle cx="280.9" cy="648.5" r="1.2" fill="#e8198a"/>
<circle cx="266.9" cy="664.5" r="1.2" fill="#e8198a"/>
<circle cx="211.3" cy="667.6" r="1.2" fill="#2f0d8a"/>
<circle cx="216.1" cy="676.2" r="1.2" fill="#2f0d8a"/>
<circle cx="219.6" cy="680.8" r="1.2" fill="#2f0d8a"/>
<circle cx="255.8" cy="677.7" r="1.2" fill="#2f0d8a"/>
<circle cx="258.6" cy="674.7" r="1.2" fill="#2f0d8a"/>
<circle cx="261.4" cy="670" r="1.2" fill="#2f0d8a"/>
<circle cx="174.9" cy="591.3" r="1.3" fill="#2f0d8a"/>
<text font-size="7.75" text-anchor="start" fill="#222" transform="translate(179.9 594.1) scale(1 1.07)">FDR &gt;0.05</text>
<circle cx="233.7" cy="591.3" r="1.3" fill="#e8198a"/>
<text font-size="7.75" text-anchor="start" fill="#222" transform="translate(238.2 594.1) scale(1 1.07)">FDR&lt;=0.05</text>
<text font-size="13" text-anchor="start" fill="#27b4ea" transform="translate(207.5 615.3) scale(1 1.07)">816</text>
<text font-size="13" text-anchor="start" fill="#27b4ea" transform="translate(207.3 631.2) scale(1 1.07)">loss</text>
<text font-size="13" text-anchor="start" fill="#7a35b2" transform="translate(262.3 615.3) scale(1 1.07)">2,047</text>
<text font-size="13" text-anchor="start" fill="#7a35b2" transform="translate(262.4 629) scale(1 1.07)">gain</text>
<text font-size="9.7" text-anchor="middle" fill="#111" transform="translate(243.2 748.9) scale(1 1.07)">Gene Ontology Biological Process</text>
<rect x="144.9" y="756.8" width="175.2" height="9.4" fill="#bfe9f8"/>
<line x1="141.5" y1="761.5" x2="144.1" y2="761.5" stroke="#222" stroke-width="0.8"/>
<text font-size="8.0" text-anchor="start" fill="#111" transform="translate(151.8 764.1) scale(1 1.07)">Pos. regulation of cell-substrate junction organization</text>
<rect x="144.9" y="771" width="175.2" height="9.4" fill="#bfe9f8"/>
<line x1="141.5" y1="775.8" x2="144.1" y2="775.8" stroke="#222" stroke-width="0.8"/>
<text font-size="8.0" text-anchor="start" fill="#111" transform="translate(151.8 778.3) scale(1 1.07)">Muscle cell differentiation</text>
<rect x="144.9" y="785.3" width="173.5" height="9.4" fill="#bfe9f8"/>
<line x1="141.5" y1="790" x2="144.1" y2="790" stroke="#222" stroke-width="0.8"/>
<text font-size="8.0" text-anchor="start" fill="#111" transform="translate(151.8 792.6) scale(1 1.07)">Positive regulation of focal adhesion assembly</text>
<rect x="144.9" y="799.5" width="173.5" height="9.4" fill="#bfe9f8"/>
<line x1="141.5" y1="804.2" x2="144.1" y2="804.2" stroke="#222" stroke-width="0.8"/>
<text font-size="8.0" text-anchor="start" fill="#111" transform="translate(151.8 806.8) scale(1 1.07)">Small GTPase mediated signal transducton</text>
<rect x="144.9" y="813.8" width="170.6" height="9.4" fill="#bfe9f8"/>
<line x1="141.5" y1="818.5" x2="144.1" y2="818.5" stroke="#222" stroke-width="0.8"/>
<text font-size="8.0" text-anchor="start" fill="#111" transform="translate(151.8 821.1) scale(1 1.07)">Regulation of actin filament-based process</text>
<rect x="144.9" y="828" width="169.6" height="9.4" fill="#bfe9f8"/>
<line x1="141.5" y1="832.8" x2="144.1" y2="832.8" stroke="#222" stroke-width="0.8"/>
<text font-size="8.0" text-anchor="start" fill="#111" transform="translate(151.8 835.3) scale(1 1.07)">Epithelial tube morphogenesis</text>
<line x1="144.1" y1="751.8" x2="144.1" y2="842.2" stroke="#222" stroke-width="0.9"/>
<line x1="143.7" y1="841.8" x2="342.2" y2="841.8" stroke="#222" stroke-width="0.9"/>
<line x1="144.1" y1="841.8" x2="144.1" y2="844.6" stroke="#222" stroke-width="0.8"/>
<text font-size="9.0" text-anchor="middle" fill="#111" transform="translate(144.1 855.7) scale(1 1.07)">0.0</text>
<line x1="193.6" y1="841.8" x2="193.6" y2="844.6" stroke="#222" stroke-width="0.8"/>
<text font-size="9.0" text-anchor="middle" fill="#111" transform="translate(193.6 855.7) scale(1 1.07)">0.5</text>
<line x1="243.1" y1="841.8" x2="243.1" y2="844.6" stroke="#222" stroke-width="0.8"/>
<text font-size="9.0" text-anchor="middle" fill="#111" transform="translate(243.1 855.7) scale(1 1.07)">1.0</text>
<line x1="292.7" y1="841.8" x2="292.7" y2="844.6" stroke="#222" stroke-width="0.8"/>
<text font-size="9.0" text-anchor="middle" fill="#111" transform="translate(292.7 855.7) scale(1 1.07)">1.5</text>
<line x1="342.2" y1="841.8" x2="342.2" y2="844.6" stroke="#222" stroke-width="0.8"/>
<text font-size="9.0" text-anchor="middle" fill="#111" transform="translate(342.2 855.7) scale(1 1.07)">2.0</text>
<text font-size="9.0" text-anchor="middle" fill="#111" transform="translate(243.3 865.9) scale(1 1.07)">p.adjust (-log)</text>
<line x1="368.2" y1="586.6" x2="669" y2="586.6" stroke="#222" stroke-width="0.6"/>
<path d="M366.2 586.6L370.2 585.2L370.2 588Z" fill="#111"/>
<path d="M671 586.6L667 585.2L667 588Z" fill="#111"/>
<text font-size="7.0" text-anchor="middle" fill="#111" transform="translate(515.5 584.8) scale(1 1.07)">44 kb</text>
<path d="M364.5 592.4L365.8 592.4L365.8 615.2L364.5 615.2" fill="none" stroke="#444" stroke-width="0.6"/>
<text font-size="4.6" text-anchor="end" fill="#333" transform="translate(364.2 596.7) scale(1 1.07)">9.6</text>
<text font-size="4.6" text-anchor="end" fill="#333" transform="translate(363.8 614.7) scale(1 1.07)">0</text>
<path d="M364.5 617.6L365.8 617.6L365.8 640.3L364.5 640.3" fill="none" stroke="#444" stroke-width="0.6"/>
<text font-size="4.6" text-anchor="end" fill="#333" transform="translate(364.2 621.9) scale(1 1.07)">9.6</text>
<text font-size="4.6" text-anchor="end" fill="#333" transform="translate(363.8 639.8) scale(1 1.07)">0</text>
<text font-size="6.2" text-anchor="start" fill="#555" transform="translate(370 600.8) scale(1 1.07)">Mutant</text>
<text font-size="6.2" text-anchor="start" fill="#555" transform="translate(370 625.7) scale(1 1.07)">WT</text>
<polygon points="366.6,615.2 366.6,614.4 367.1,614.2 367.6,614.2 368.1,614.7 368.6,614.8 369.1,614.8 369.6,614.9 370.1,614.9 370.6,614.8 371.1,613.2 371.6,613.4 372.1,614.2 372.6,614.6 373.1,614.8 373.6,614.6 374.1,614.8 374.6,612.3 375.1,614 375.6,614.5 376.1,614.6 376.6,614.5 377.1,614.5 377.6,614.4 378.1,614.6 378.6,614.6 379.1,614.3 379.6,613.1 380.1,614.3 380.6,614.5 381.1,614.6 381.6,614.6 382.1,614.5 382.6,614.7 383.1,614.3 383.6,614.6 384.1,614.8 384.6,614.5 385.1,614.6 385.6,614.1 386.1,614.6 386.6,614.7 387.1,614.4 387.6,614.4 388.1,614.7 388.6,614.1 389.1,614.6 389.6,614.8 390.1,614.1 390.6,614.5 391.1,614.7 391.6,614.7 392.1,614.4 392.6,614.4 393.1,614.1 393.6,612.7 394.1,610.2 394.6,607.2 395.1,610.2 395.6,607.1 396.1,595.7 396.6,607.1 397.1,612.3 397.6,610.2 398.1,612.3 398.6,613.9 399.1,614.6 399.6,614.5 400.1,613.3 400.6,614.2 401.1,614.6 401.6,614.5 402.1,614.8 402.6,614.8 403.1,614.9 403.6,614.5 404.1,614.2 404.6,614.5 405.1,613.7 405.6,614.4 406.1,614.2 406.6,613.2 407.1,613.9 407.6,614.3 408.1,614.5 408.6,614.1 409.1,614.4 409.6,611.7 410.1,613.9 410.6,614.4 411.1,614.6 411.6,614.7 412.1,614.4 412.6,614.1 413.1,613 413.6,611.2 414.1,609.2 414.6,611.2 415.1,608.2 415.6,598.2 416.1,608.2 416.6,613.3 417.1,614.1 417.6,614.2 418.1,614 418.6,614.3 419.1,613.7 419.6,614.3 420.1,614.6 420.6,614.6 421.1,614.5 421.6,614.4 422.1,614.3 422.6,614.4 423.1,613.6 423.6,613.6 424.1,611.7 424.6,613.6 425.1,614.2 425.6,614.7 426.1,614.7 426.6,613.8 427.1,612.2 427.6,612.6 428.1,612.6 428.6,614.1 429.1,614.6 429.6,614.6 430.1,614.7 430.6,614.8 431.1,614.7 431.6,613.9 432.1,614.4 432.6,614.6 433.1,614.1 433.6,614.3 434.1,614.7 434.6,614.8 435.1,614.7 435.6,614.6 436.1,614.8 436.6,614.3 437.1,614.7 437.6,614.8 438.1,614.3 438.6,614.4 439.1,614.6 439.6,614.5 440.1,614.3 440.6,614.6 441.1,614.5 441.6,613.4 442.1,611.2 442.6,613.4 443.1,613.4 443.6,613.2 444.1,614.2 444.6,614.5 445.1,614.1 445.6,614.4 446.1,611.9 446.6,613.7 447.1,613.9 447.6,614.5 448.1,614.6 448.6,614.6 449.1,613.9 449.6,614.3 450.1,614.6 450.6,614.1 451.1,614.2 451.6,614.5 452.1,614.4 452.6,612.1 453.1,613.8 453.6,614.1 454.1,614.5 454.6,614.5 455.1,612.7 455.6,612.5 456.1,613.9 456.6,614.4 457.1,614.5 457.6,614.3 458.1,612.8 458.6,613.6 459.1,614.5 459.6,614.8 460.1,614.5 460.6,614.7 461.1,614.4 461.6,614.5 462.1,613.8 462.6,613.7 463.1,614.5 463.6,614.5 464.1,614.5 464.6,614.3 465.1,614.3 465.6,614.2 466.1,614 466.6,614.5 467.1,614.5 467.6,614.8 468.1,614.7 468.6,614.6 469.1,614.4 469.6,613.6 470.1,611.7 470.6,613.6 471.1,613.9 471.6,614.5 472.1,614 472.6,613.7 473.1,614.2 473.6,614.6 474.1,614.2 474.6,613.2 475.1,613.7 475.6,614.4 476.1,614 476.6,613.2 477.1,614 477.6,614 478.1,613.7 478.6,613.6 479.1,612.7 479.6,613.7 480.1,614.3 480.6,613.9 481.1,613.9 481.6,613.5 482.1,613.9 482.6,613.8 483.1,613.8 483.6,614 484.1,614.2 484.6,613.7 485.1,612.9 485.6,612.8 486.1,614.1 486.6,614.6 487.1,614.6 487.6,614.8 488.1,614.8 488.6,614.2 489.1,614.2 489.6,614.1 490.1,614.3 490.6,614.3 491.1,614.3 491.6,614.3 492.1,614.3 492.6,614.3 493.1,614.1 493.6,614.5 494.1,614.5 494.6,614.5 495.1,614.7 495.6,614.7 496.1,614.8 496.6,614.5 497.1,613 497.6,613.7 498.1,614.3 498.6,614.5 499.1,614.6 499.6,614.8 500.1,614.7 500.6,614.5 501.1,614.4 501.6,614.4 502.1,614.2 502.6,614.5 503.1,614.6 503.6,614.6 504.1,614 504.6,614 505.1,612.1 505.6,613.8 506.1,614.3 506.6,614.7 507.1,614.6 507.6,613.6 508.1,611.7 508.6,609.2 509.1,611.7 509.6,605.5 510.1,591.7 510.6,605.5 511.1,609.2 511.6,606.2 512.1,609.2 512.6,611.9 513.1,613.5 513.6,614.1 514.1,614.5 514.6,614.5 515.1,614.5 515.6,614.7 516.1,614.7 516.6,614.6 517.1,614.6 517.6,614.3 518.1,614.6 518.6,614.5 519.1,614.3 519.6,614 520.1,614.4 520.6,614.3 521.1,614.4 521.6,614.2 522.1,614.2 522.6,614.5 523.1,613.4 523.6,614.1 524.1,614.3 524.6,614.6 525.1,613.6 525.6,612.5 526.1,614.1 526.6,614.3 527.1,614 527.6,613.9 528.1,613.8 528.6,613.6 529.1,614.2 529.6,614.3 530.1,613.1 530.6,614.1 531.1,614.5 531.6,614.4 532.1,614.2 532.6,614.7 533.1,614.5 533.6,614.1 534.1,613.4 534.6,614.3 535.1,614.3 535.6,614.2 536.1,614.6 536.6,614.3 537.1,612.7 537.6,612.9 538.1,613.9 538.6,614.6 539.1,614.4 539.6,614.5 540.1,614 540.6,614.6 541.1,614.3 541.6,614.5 542.1,613.8 542.6,614.3 543.1,614.3 543.6,614.4 544.1,614.2 544.6,614.5 545.1,614.5 545.6,614.6 546.1,614.8 546.6,614.1 547.1,614.5 547.6,614.7 548.1,614.5 548.6,614.3 549.1,614.7 549.6,612.2 550.1,613.8 550.6,613.7 551.1,614 551.6,613.8 552.1,614.1 552.6,614.1 553.1,614.6 553.6,614.6 554.1,614.1 554.6,613.6 555.1,611.7 555.6,613.6 556.1,614.7 556.6,614 557.1,614.3 557.6,613 558.1,614.2 558.6,614.4 559.1,614.6 559.6,614.7 560.1,614.7 560.6,613.1 561.1,613.6 561.6,614.4 562.1,614.4 562.6,614.2 563.1,614 563.6,613.7 564.1,614.3 564.6,614.1 565.1,613.3 565.6,614.4 566.1,614 566.6,613.9 567.1,614.1 567.6,613.9 568.1,614.4 568.6,613.7 569.1,613.9 569.6,614.1 570.1,614.2 570.6,614.2 571.1,614.5 571.6,614.3 572.1,613.8 572.6,614.4 573.1,614.4 573.6,613.7 574.1,614.2 574.6,614 575.1,614.4 575.6,613.4 576.1,613.6 576.6,614 577.1,614 577.6,614.2 578.1,614.3 578.6,614.2 579.1,613.9 579.6,614.2 580.1,613.7 580.6,613.3 581.1,614.3 581.6,614 582.1,613.6 582.6,613.6 583.1,612 583.6,613 584.1,614.1 584.6,614.2 585.1,614.4 585.6,613.6 586.1,614.4 586.6,614 587.1,614.2 587.6,614 588.1,614.2 588.6,613.8 589.1,613.6 589.6,612.9 590.1,610.2 590.6,612.9 591.1,614.2 591.6,613.9 592.1,613.9 592.6,614.1 593.1,614 593.6,613.8 594.1,614.1 594.6,614.4 595.1,614.1 595.6,614 596.1,612.2 596.6,613.4 597.1,613.7 597.6,614.3 598.1,614.2 598.6,614 599.1,613.9 599.6,613 600.1,612.9 600.6,613.6 601.1,613.1 601.6,614.3 602.1,612 602.6,613.1 603.1,613.5 603.6,614.1 604.1,614.3 604.6,614 605.1,614.2 605.6,614 606.1,614 606.6,613.9 607.1,614.5 607.6,614.3 608.1,614.6 608.6,614.5 609.1,614.1 609.6,613.9 610.1,613.8 610.6,614.1 611.1,614.5 611.6,614.1 612.1,614 612.6,613.9 613.1,613.6 613.6,614.1 614.1,611.1 614.6,613 615.1,613.6 615.6,613.9 616.1,614.3 616.6,614.6 617.1,613.9 617.6,613.6 618.1,614.1 618.6,614 619.1,613.6 619.6,613.8 620.1,613.9 620.6,613.8 621.1,612.4 621.6,613.5 622.1,613.5 622.6,613.8 623.1,614.1 623.6,614.3 624.1,613.9 624.6,614.4 625.1,614.5 625.6,614.2 626.1,614.6 626.6,614.3 627.1,614.6 627.6,614.7 628.1,614.4 628.6,614 629.1,614.3 629.6,613.7 630.1,614.5 630.6,614.4 631.1,614.1 631.6,613.9 632.1,613.1 632.6,613.9 633.1,614.1 633.6,614.6 634.1,614.8 634.6,614.4 635.1,614.4 635.6,614.6 636.1,613.8 636.6,614.1 637.1,614.4 637.6,614.1 638.1,614.4 638.6,614.5 639.1,614.3 639.6,614.3 640.1,614.3 640.6,614.4 641.1,614.4 641.6,613.7 642.1,614.5 642.6,614.3 643.1,613.1 643.6,608.6 644.1,600.7 644.6,608.6 645.1,610.5 645.6,609.2 646.1,610.5 646.6,611.9 647.1,613 647.6,613.8 648.1,614.3 648.6,614.6 649.1,614.5 649.6,614.6 650.1,614.6 650.6,614.5 651.1,614.7 651.6,614.4 652.1,614.5 652.6,614.7 653.1,612.7 653.6,613.8 654.1,614.1 654.6,614.5 655.1,614.7 655.6,614.7 656.1,614.2 656.6,614.5 657.1,614.5 657.6,614.6 658.1,614.8 658.6,614.5 659.1,614.7 659.6,614.3 660.1,612.1 660.6,613.7 661.1,613.8 661.6,613.9 662.1,614.1 662.6,614.5 663.1,614.3 663.6,614.5 664.1,614 664.6,614.2 665.1,613.3 665.6,614.2 666.1,614 666.6,614.4 667.1,614.5 667.6,614.4 668.1,614.5 668.6,614.7 669.1,612.2 669.6,613.7 670,615.2" fill="#ff2b0c"/>
<line x1="366.6" y1="615.2" x2="670" y2="615.2" stroke="#ff2b0c" stroke-width="0.9"/>
<polygon points="366.6,640.3 366.6,638.1 367.1,639.1 367.6,639.7 368.1,639.2 368.6,639.2 369.1,639.4 369.6,639.2 370.1,639.3 370.6,639.3 371.1,638.9 371.6,639.2 372.1,639.7 372.6,639.3 373.1,638.3 373.6,639.1 374.1,639.3 374.6,639.4 375.1,638.9 375.6,639 376.1,639.2 376.6,638.5 377.1,639.4 377.6,639.7 378.1,639.4 378.6,639.3 379.1,639.5 379.6,639.1 380.1,639 380.6,639 381.1,639.3 381.6,639.5 382.1,639.2 382.6,639.6 383.1,638.8 383.6,639.5 384.1,639.3 384.6,639.4 385.1,639.6 385.6,636.8 386.1,638.8 386.6,639.4 387.1,637.6 387.6,639.2 388.1,637.6 388.6,639.1 389.1,639.4 389.6,637.7 390.1,638.9 390.6,639.6 391.1,637.5 391.6,638.9 392.1,638.7 392.6,637.6 393.1,635.9 393.6,634.3 394.1,635.9 394.6,637 395.1,634.3 395.6,631.3 396.1,634.3 396.6,637 397.1,637 397.6,635.3 398.1,637 398.6,638.5 399.1,639.3 399.6,639 400.1,638.7 400.6,639.5 401.1,639.8 401.6,639.8 402.1,637.9 402.6,638 403.1,639.3 403.6,639.7 404.1,639.4 404.6,639.2 405.1,639.1 405.6,638.4 406.1,639.3 406.6,639.2 407.1,638.2 407.6,639.4 408.1,639.5 408.6,639.6 409.1,639.2 409.6,639 410.1,639.5 410.6,639.7 411.1,639.8 411.6,639.9 412.1,639.8 412.6,638.8 413.1,639.5 413.6,637.2 414.1,637.8 414.6,637.3 415.1,637.5 415.6,636.8 416.1,637.5 416.6,636.4 417.1,638.1 417.6,639 418.1,639.5 418.6,639.6 419.1,637.3 419.6,638.4 420.1,636.5 420.6,638.8 421.1,638.9 421.6,638.8 422.1,639.4 422.6,638.6 423.1,636.8 423.6,638.7 424.1,639.5 424.6,639.8 425.1,639.4 425.6,637.6 426.1,638.8 426.6,638.5 427.1,639.1 427.6,638.5 428.1,636.3 428.6,638.5 429.1,639.2 429.6,639.5 430.1,639.8 430.6,639.9 431.1,639.8 431.6,639.9 432.1,638.9 432.6,638.4 433.1,638.6 433.6,637.3 434.1,638.8 434.6,639.4 435.1,639.3 435.6,639.5 436.1,638.7 436.6,639.2 437.1,639.7 437.6,639.8 438.1,639 438.6,639.1 439.1,639.3 439.6,639.2 440.1,639.7 440.6,636.7 441.1,638.3 441.6,638.7 442.1,636.5 442.6,638.9 443.1,639.4 443.6,639.5 444.1,639 444.6,639.4 445.1,639.7 445.6,638.8 446.1,638.4 446.6,639.2 447.1,639.1 447.6,639.5 448.1,639.5 448.6,639.6 449.1,639.9 449.6,640 450.1,639.1 450.6,639.5 451.1,638.9 451.6,639.3 452.1,637.5 452.6,638.8 453.1,639.5 453.6,638.9 454.1,639.3 454.6,639.2 455.1,637.3 455.6,638.9 456.1,639 456.6,636.9 457.1,638.5 457.6,638.6 458.1,639.4 458.6,639.7 459.1,639.6 459.6,637.2 460.1,638 460.6,637.4 461.1,638.9 461.6,639.3 462.1,639.6 462.6,639.2 463.1,639.5 463.6,639.6 464.1,639.7 464.6,639.6 465.1,639.5 465.6,639.6 466.1,639.2 466.6,639.2 467.1,638.9 467.6,639.2 468.1,638.7 468.6,638.7 469.1,636.8 469.6,638.7 470.1,639.2 470.6,639.5 471.1,639.7 471.6,638.9 472.1,639.5 472.6,639.8 473.1,639.8 473.6,639.1 474.1,639.2 474.6,639.4 475.1,639.7 475.6,639.8 476.1,639.2 476.6,639.6 477.1,639.8 477.6,639.9 478.1,639.5 478.6,639.8 479.1,639.6 479.6,638.3 480.1,638.9 480.6,638.9 481.1,639.3 481.6,639.5 482.1,639.5 482.6,638.5 483.1,638.5 483.6,639.2 484.1,639.5 484.6,639.3 485.1,639.5 485.6,639.6 486.1,639.4 486.6,639.6 487.1,639.8 487.6,639.3 488.1,638.2 488.6,638 489.1,639.3 489.6,636.6 490.1,638.4 490.6,638.5 491.1,639.2 491.6,639.5 492.1,638.6 492.6,638.8 493.1,639.2 493.6,639.6 494.1,639.7 494.6,639.7 495.1,638.6 495.6,639.1 496.1,639.3 496.6,639.7 497.1,639.3 497.6,639.1 498.1,639.2 498.6,639.5 499.1,639.5 499.6,639.2 500.1,639.2 500.6,639.4 501.1,639.7 501.6,639.8 502.1,639.2 502.6,639.1 503.1,639.6 503.6,639.3 504.1,639.4 504.6,637.3 505.1,638.7 505.6,638.2 506.1,636.8 506.6,638.7 507.1,639.5 507.6,639.4 508.1,639.4 508.6,638.8 509.1,638.1 509.6,637.2 510.1,636.3 510.6,637.2 511.1,638.1 511.6,638.8 512.1,638.8 512.6,638 513.1,636.3 513.6,638 514.1,639.1 514.6,639.2 515.1,639.6 515.6,639.9 516.1,639.6 516.6,639.3 517.1,639.7 517.6,639.1 518.1,639.1 518.6,639.2 519.1,638.9 519.6,639.4 520.1,636.4 520.6,638.8 521.1,639.2 521.6,639.7 522.1,639.5 522.6,639.8 523.1,639.9 523.6,639.6 524.1,637.4 524.6,638.6 525.1,639.2 525.6,639.5 526.1,639.7 526.6,639.6 527.1,639.7 527.6,639.3 528.1,639.4 528.6,639.8 529.1,639.8 529.6,639.6 530.1,639.3 530.6,639.1 531.1,639.1 531.6,638.7 532.1,638.7 532.6,639 533.1,639.3 533.6,639.5 534.1,639 534.6,639 535.1,638.7 535.6,636.7 536.1,638.4 536.6,639 537.1,638.6 537.6,639.1 538.1,639.2 538.6,638.7 539.1,636.6 539.6,637.8 540.1,639.2 540.6,638.8 541.1,639.4 541.6,638.6 542.1,639.2 542.6,639.1 543.1,639.4 543.6,639.6 544.1,639.6 544.6,639.2 545.1,639.7 545.6,638.7 546.1,639.2 546.6,638.9 547.1,639.2 547.6,638.2 548.1,638.6 548.6,636.4 549.1,638.2 549.6,639.2 550.1,639.1 550.6,639.3 551.1,636.7 551.6,637.9 552.1,638.8 552.6,638.5 553.1,638.5 553.6,638.1 554.1,638.5 554.6,639.5 555.1,638.7 555.6,638.1 556.1,638.5 556.6,639.2 557.1,638.8 557.6,638.7 558.1,638.9 558.6,638.7 559.1,638.6 559.6,639.2 560.1,639 560.6,638.8 561.1,638.9 561.6,639.3 562.1,639.3 562.6,637.5 563.1,637.5 563.6,637.8 564.1,638.4 564.6,638.7 565.1,638.9 565.6,638.9 566.1,639 566.6,638.8 567.1,639.5 567.6,639.1 568.1,639.4 568.6,639.2 569.1,639 569.6,638.3 570.1,638.9 570.6,637.2 571.1,638.9 571.6,639.4 572.1,639.4 572.6,638.4 573.1,638.3 573.6,639 574.1,636.9 574.6,636.2 575.1,638.4 575.6,639 576.1,638.9 576.6,639 577.1,639 577.6,639.5 578.1,638.2 578.6,637.7 579.1,639 579.6,638.6 580.1,638.2 580.6,639.2 581.1,638.1 581.6,639.1 582.1,638.6 582.6,638.6 583.1,638.9 583.6,639.1 584.1,636.1 584.6,638.7 585.1,639 585.6,638.8 586.1,638.8 586.6,639 587.1,637 587.6,638.2 588.1,638.4 588.6,638.6 589.1,638.7 589.6,639.1 590.1,639.1 590.6,638.1 591.1,639.3 591.6,639.3 592.1,639.4 592.6,639.4 593.1,639.7 593.6,638.8 594.1,639.4 594.6,639.7 595.1,639.7 595.6,639.4 596.1,639.8 596.6,639.9 597.1,640 597.6,639.9 598.1,639.7 598.6,639.9 599.1,639.6 599.6,639.7 600.1,638.6 600.6,639 601.1,639.1 601.6,637.7 602.1,638.6 602.6,638.3 603.1,638.8 603.6,638.4 604.1,637.6 604.6,638.7 605.1,636.7 605.6,638 606.1,639.3 606.6,638.5 607.1,638.4 607.6,638.6 608.1,638.1 608.6,639.4 609.1,639 609.6,639.4 610.1,639.4 610.6,639 611.1,637 611.6,638.4 612.1,638.8 612.6,639.4 613.1,639 613.6,639.1 614.1,638.5 614.6,638.4 615.1,638.7 615.6,637.8 616.1,639.1 616.6,638.5 617.1,638.6 617.6,639.4 618.1,638.8 618.6,638.8 619.1,639.1 619.6,638.9 620.1,638.6 620.6,639.3 621.1,638.7 621.6,635.8 622.1,637.5 622.6,638.8 623.1,638.4 623.6,638.9 624.1,639.2 624.6,639.2 625.1,638.2 625.6,639.2 626.1,639.1 626.6,638.7 627.1,638.9 627.6,638.8 628.1,638.8 628.6,638.8 629.1,639 629.6,639 630.1,638.9 630.6,638.9 631.1,636.5 631.6,637.7 632.1,638.8 632.6,638.1 633.1,638.7 633.6,638.6 634.1,638.4 634.6,638.9 635.1,639.2 635.6,639.3 636.1,638.8 636.6,638 637.1,638.8 637.6,638.2 638.1,638.6 638.6,637.9 639.1,638.7 639.6,638.5 640.1,639 640.6,638 641.1,636.7 641.6,635.3 642.1,636.7 642.6,638 643.1,638.1 643.6,634.5 644.1,629.3 644.6,634.5 645.1,638.1 645.6,637 646.1,638.3 646.6,639.3 647.1,639.6 647.6,638.8 648.1,638.7 648.6,639.5 649.1,639.6 649.6,639.9 650.1,639.6 650.6,639.1 651.1,639.4 651.6,639.7 652.1,639.8 652.6,639.6 653.1,639.7 653.6,637.8 654.1,639.3 654.6,639.7 655.1,638.6 655.6,639.5 656.1,638.9 656.6,639.1 657.1,639.7 657.6,639.8 658.1,639.9 658.6,639.6 659.1,637.7 659.6,639.2 660.1,639.5 660.6,639.5 661.1,639.4 661.6,639.4 662.1,639.1 662.6,639.4 663.1,639.5 663.6,639.7 664.1,639.8 664.6,636.8 665.1,638.8 665.6,637.1 666.1,638.9 666.6,639.1 667.1,639.3 667.6,639.5 668.1,638.5 668.6,636.3 669.1,638.5 669.6,639 670,640.3" fill="#1430ff"/>
<line x1="366.6" y1="640.3" x2="670" y2="640.3" stroke="#1430ff" stroke-width="0.9"/>
<rect x="391.2" y="586.5" width="10.5" height="58.4" rx="1.2" fill="#f6b414" fill-opacity="0.3"/>
<rect x="410.2" y="586.5" width="10.5" height="58.4" rx="1.2" fill="#f6b414" fill-opacity="0.3"/>
<rect x="505" y="586.5" width="10.2" height="58.4" rx="1.2" fill="#f6b414" fill-opacity="0.3"/>
<line x1="612.7" y1="649.4" x2="626.6" y2="649.4" stroke="#3b6fd2" stroke-width="0.7"/>
<path d="M633.7 649.4L626.6 645.6L626.6 653.2Z" fill="#3b6fd2"/>
<line x1="645.6" y1="649.4" x2="667" y2="649.4" stroke="#1b2a8e" stroke-width="0.7"/>
<line x1="646.5" y1="647.6" x2="646.5" y2="651.2" stroke="#1b2a8e" stroke-width="0.8"/>
<line x1="652" y1="647.6" x2="652" y2="651.2" stroke="#1b2a8e" stroke-width="0.8"/>
<line x1="655" y1="647.6" x2="655" y2="651.2" stroke="#1b2a8e" stroke-width="0.8"/>
<line x1="657.5" y1="647.6" x2="657.5" y2="651.2" stroke="#1b2a8e" stroke-width="0.8"/>
<rect x="660.5" y="648.1" width="7.4" height="2.6" fill="#1b2a8e"/>
<text font-size="11.6" text-anchor="middle" fill="#172490" transform="translate(651.1 665.2) scale(1 1.07)">CXCL8</text>
<line x1="370.9" y1="686" x2="673.3" y2="686" stroke="#222" stroke-width="0.6"/>
<path d="M368.9 686L372.9 684.6L372.9 687.4Z" fill="#111"/>
<path d="M675.3 686L671.3 684.6L671.3 687.4Z" fill="#111"/>
<text font-size="7.0" text-anchor="middle" fill="#111" transform="translate(521 684.2) scale(1 1.07)">100 kb</text>
<path d="M365.7 693.1L367 693.1L367 714.6L365.7 714.6" fill="none" stroke="#444" stroke-width="0.6"/>
<text font-size="5.6" text-anchor="end" fill="#333" transform="translate(365.4 697.7) scale(1 1.07)">4.5</text>
<text font-size="5.6" text-anchor="end" fill="#333" transform="translate(365 714.4) scale(1 1.07)">0</text>
<path d="M365.7 718L367 718L367 740.2L365.7 740.2" fill="none" stroke="#444" stroke-width="0.6"/>
<text font-size="5.6" text-anchor="end" fill="#333" transform="translate(365.4 722.6) scale(1 1.07)">4.5</text>
<text font-size="5.6" text-anchor="end" fill="#333" transform="translate(365 740) scale(1 1.07)">0</text>
<text font-size="6.2" text-anchor="start" fill="#555" transform="translate(371.5 700) scale(1 1.07)">Mutant</text>
<text font-size="6.2" text-anchor="start" fill="#555" transform="translate(371.5 726) scale(1 1.07)">WT</text>
<polygon points="367.5,714.6 367.5,714.3 368,713.3 368.5,710.1 369,712.8 369.5,713.6 370,711.3 370.5,709.2 371,712.6 371.5,712.4 372,710.1 372.5,708.7 373,712.2 373.5,713.3 374,712.3 374.5,712.5 375,712.8 375.5,711.9 376,713.3 376.5,712.9 377,713.4 377.5,713.4 378,713.5 378.5,713 379,713.2 379.5,709 380,712.6 380.5,712.9 381,709.6 381.5,708.5 382,712.3 382.5,712.4 383,711 383.5,710.1 384,708 384.5,711.6 385,712 385.5,709.9 386,711.3 386.5,711.3 387,712.8 387.5,713 388,712 388.5,712.6 389,713.5 389.5,712.8 390,710.6 390.5,712.8 391,713.3 391.5,713 392,711.4 392.5,713.3 393,713.9 393.5,713.1 394,713.5 394.5,713.3 395,711.7 395.5,712.6 396,711.8 396.5,712.9 397,713.5 397.5,713.3 398,713.2 398.5,713.9 399,714 399.5,714 400,713.7 400.5,713.8 401,711.2 401.5,712.6 402,712.4 402.5,713.4 403,713.4 403.5,710.7 404,709.5 404.5,712.6 405,713.3 405.5,713.1 406,710.8 406.5,713.1 407,713.3 407.5,713.1 408,711.7 408.5,709.3 409,706.6 409.5,707.2 410,696.6 410.5,707.2 411,710.5 411.5,707.6 412,710.5 412.5,712.8 413,713.9 413.5,712.6 414,713 414.5,710.5 415,713.1 415.5,713.1 416,713.8 416.5,713.8 417,713.6 417.5,711.2 418,712.6 418.5,713.1 419,712.6 419.5,712.6 420,710.1 420.5,712.6 421,713.9 421.5,713.3 422,712.3 422.5,709.3 423,712.5 423.5,712.9 424,713.4 424.5,713.3 425,713 425.5,710.8 426,712.6 426.5,711.3 427,713.2 427.5,713.8 428,713.3 428.5,713.3 429,713.7 429.5,713 430,713.3 430.5,710.3 431,712.8 431.5,712.4 432,712.4 432.5,713.6 433,709.8 433.5,712 434,712.1 434.5,710.6 435,710.6 435.5,711.8 436,713.3 436.5,713.9 437,710.3 437.5,712.4 438,712.3 438.5,713.6 439,713.9 439.5,714.1 440,713.8 440.5,713.5 441,713.8 441.5,714.1 442,713.7 442.5,714.1 443,713.4 443.5,710.9 444,712.6 444.5,709.4 445,712.1 445.5,713.2 446,713.1 446.5,710.1 447,712.8 447.5,712.9 448,711.9 448.5,713.2 449,712.9 449.5,712.8 450,710.6 450.5,712.2 451,712.8 451.5,713.8 452,714 452.5,713.8 453,713.5 453.5,712.4 454,711.7 454.5,712 455,713.3 455.5,712.7 456,713.7 456.5,713.9 457,712.1 457.5,713.5 458,712.7 458.5,711.6 459,709.7 459.5,711.8 460,712.1 460.5,713.3 461,711.8 461.5,713.2 462,713.4 462.5,714 463,714.1 463.5,713.7 464,714.1 464.5,711.5 465,712.8 465.5,712.5 466,708.6 466.5,711.6 467,712.5 467.5,713.2 468,712.9 468.5,713.8 469,712 469.5,712.9 470,713.2 470.5,710.4 471,712.2 471.5,712.9 472,708.3 472.5,712 473,713 473.5,712.8 474,713.4 474.5,713.9 475,713.9 475.5,712.9 476,713.5 476.5,710.2 477,711.9 477.5,713.5 478,713.3 478.5,712.6 479,713.4 479.5,712.1 480,713.2 480.5,711 481,712.3 481.5,713.2 482,713.3 482.5,713.8 483,712.9 483.5,712.7 484,712.9 484.5,713.3 485,712.8 485.5,712.1 486,713.3 486.5,710.6 487,711.8 487.5,707.9 488,709.6 488.5,711.7 489,712.6 489.5,712 490,711.9 490.5,712.1 491,711.8 491.5,711.7 492,710.4 492.5,712.1 493,712.9 493.5,712.9 494,713.3 494.5,712.9 495,710.1 495.5,710.6 496,711.8 496.5,711.6 497,712.2 497.5,712.8 498,713.4 498.5,710 499,710.8 499.5,712.4 500,712.1 500.5,713.2 501,708.6 501.5,711.1 502,711.6 502.5,712.7 503,712.8 503.5,713.2 504,713.8 504.5,711.2 505,711.1 505.5,712.1 506,711.8 506.5,712.4 507,712.9 507.5,712.7 508,712.3 508.5,709.9 509,711.8 509.5,712.8 510,711.9 510.5,712.2 511,709.9 511.5,710.4 512,712.4 512.5,713 513,712.3 513.5,712.9 514,712.3 514.5,711.3 515,711.5 515.5,710.2 516,711 516.5,712.2 517,712.2 517.5,711.9 518,709.5 518.5,712.5 519,710.1 519.5,711.8 520,709.6 520.5,711.4 521,712.2 521.5,711.3 522,711.3 522.5,711.4 523,712.6 523.5,711.2 524,711.5 524.5,713.1 525,712.8 525.5,712.6 526,713.4 526.5,711.7 527,712 527.5,711.8 528,713 528.5,712.3 529,713.2 529.5,712.6 530,712.8 530.5,713 531,710.9 531.5,710.3 532,711 532.5,709.8 533,712.5 533.5,713.4 534,712.8 534.5,712.8 535,708.2 535.5,710.7 536,711.6 536.5,711.6 537,711.8 537.5,712.7 538,709.4 538.5,711.7 539,713 539.5,713.1 540,713.2 540.5,713 541,711.8 541.5,712.2 542,710.2 542.5,710.8 543,709 543.5,711.4 544,711.7 544.5,713.1 545,712.5 545.5,711.6 546,712.6 546.5,710.1 547,709.7 547.5,710.3 548,708 548.5,711.1 549,709.7 549.5,712.3 550,711.9 550.5,712.6 551,713.4 551.5,713.1 552,711.3 552.5,710.8 553,712.9 553.5,711 554,712.2 554.5,712.3 555,713.3 555.5,712.3 556,712 556.5,711.4 557,712.2 557.5,713 558,713.3 558.5,709.5 559,709.5 559.5,711.8 560,712.8 560.5,712.1 561,712.8 561.5,712.9 562,713 562.5,712.6 563,712.9 563.5,712.9 564,713.1 564.5,713.6 565,713.6 565.5,713.5 566,712.5 566.5,713 567,712.9 567.5,711.1 568,712.5 568.5,713.1 569,712.9 569.5,712 570,713 570.5,713.5 571,713 571.5,713.4 572,712.1 572.5,709.9 573,712.6 573.5,712.9 574,712.5 574.5,712.3 575,711.8 575.5,711.8 576,712.3 576.5,713.2 577,713.6 577.5,713.1 578,713.2 578.5,712.6 579,712.6 579.5,713.5 580,712.9 580.5,712.4 581,712.5 581.5,712.8 582,713.4 582.5,708.9 583,709.3 583.5,711.4 584,710.8 584.5,711.9 585,708.6 585.5,711.9 586,713 586.5,709.7 587,711.5 587.5,708.7 588,711.6 588.5,713.1 589,711.5 589.5,711.8 590,711 590.5,709.9 591,711.5 591.5,712.5 592,712.9 592.5,712.5 593,712.3 593.5,710.8 594,712.6 594.5,712.9 595,712.5 595.5,713.3 596,712.8 596.5,713.6 597,713.2 597.5,713.6 598,713.8 598.5,712.7 599,712.9 599.5,712.6 600,709.5 600.5,712 601,713.5 601.5,713.6 602,711.3 602.5,711.9 603,713.5 603.5,713 604,713.1 604.5,711.8 605,712.9 605.5,713.3 606,712.9 606.5,712.7 607,712.6 607.5,713.4 608,713.2 608.5,712.9 609,712 609.5,713.2 610,713.5 610.5,712.5 611,713.3 611.5,713 612,710.7 612.5,704.1 613,710.7 613.5,710 614,712.9 614.5,710.5 615,712.8 615.5,710.3 616,713 616.5,711.3 617,712.7 617.5,713.8 618,714.1 618.5,714.1 619,714.1 619.5,713.8 620,714.1 620.5,713.9 621,713.3 621.5,713.9 622,713.3 622.5,711.8 623,712.7 623.5,712.7 624,712.4 624.5,713.4 625,713.6 625.5,714 626,713.1 626.5,713.1 627,710.3 627.5,710 628,706.6 628.5,709.3 629,704.9 629.5,691.1 630,704.9 630.5,704.6 631,707.9 631.5,710.9 632,712.8 632.5,712.8 633,713.5 633.5,710.8 634,708.5 634.5,709.2 635,712.2 635.5,712.2 636,713.4 636.5,712.9 637,713.3 637.5,713.7 638,714.1 638.5,713.1 639,713.3 639.5,710.9 640,713 640.5,713.9 641,713.2 641.5,713.2 642,712.8 642.5,711.8 643,712.8 643.5,712 644,710.6 644.5,713.1 645,712.2 645.5,713.5 646,713.9 646.5,713.3 647,711.2 647.5,710.4 648,703.1 648.5,710.4 649,713 649.5,710.7 650,713.2 650.5,709.7 651,711.1 651.5,709.3 652,710.5 652.5,712.4 653,712.9 653.5,712.8 654,710.7 654.5,712.8 655,713.1 655.5,709.3 656,712.5 656.5,712 657,708.3 657.5,712.5 658,713.2 658.5,713.3 659,710.8 659.5,712.5 660,713.4 660.5,713 661,712.2 661.5,711.6 662,713.2 662.5,712.4 663,710.3 663.5,711.4 664,712.8 664.5,713.3 665,713.8 665.5,714 666,713.9 666.5,713.5 667,713 667.5,709.3 668,712 668.5,711.2 669,712.7 669.5,713.2 670,713.5 670.5,713.9 671,713.3 671.5,713.6 671.8,714.6" fill="#ff2b0c"/>
<line x1="367.5" y1="714.6" x2="671.8" y2="714.6" stroke="#ff2b0c" stroke-width="0.9"/>
<polygon points="367.5,740.2 367.5,740 368,738.1 368.5,737.7 369,738.1 369.5,739.2 370,737.1 370.5,738.6 371,737.5 371.5,739 372,739.1 372.5,739.4 373,734.8 373.5,735.1 374,733.2 374.5,737.1 375,738.2 375.5,737.7 376,738.4 376.5,738.4 377,736.6 377.5,735.5 378,738.3 378.5,738.4 379,739.2 379.5,736.1 380,737.9 380.5,738.4 381,738.3 381.5,737.1 382,738.8 382.5,739.1 383,736.5 383.5,737.5 384,738.8 384.5,737.2 385,736.8 385.5,738.8 386,738.7 386.5,736.6 387,735.8 387.5,736.6 388,734.9 388.5,733.4 389,737.4 389.5,737.3 390,738.8 390.5,739.4 391,735 391.5,737.6 392,738.4 392.5,735.9 393,736 393.5,738.7 394,737.6 394.5,736.7 395,734.7 395.5,738.2 396,739.1 396.5,738.8 397,739.5 397.5,739.4 398,736.4 398.5,737.5 399,737.8 399.5,738.4 400,738.1 400.5,738 401,739.1 401.5,733.2 402,736.8 402.5,738.8 403,734.9 403.5,734.9 404,738.1 404.5,738.2 405,737.3 405.5,733.4 406,737.8 406.5,738.4 407,735.2 407.5,737.6 408,737.5 408.5,735.8 409,738.6 409.5,736.3 410,736.7 410.5,737.9 411,738.9 411.5,738.8 412,739 412.5,739.4 413,739.1 413.5,739.3 414,739.5 414.5,738.8 415,739.5 415.5,735.9 416,737.9 416.5,733.7 417,735.6 417.5,737.8 418,739.2 418.5,739.7 419,739.7 419.5,738.4 420,737.4 420.5,738 421,738.1 421.5,738.4 422,738.7 422.5,738.2 423,734.2 423.5,735.7 424,733.8 424.5,737.2 425,738.1 425.5,738.6 426,736.4 426.5,737.4 427,734.2 427.5,735.6 428,733.8 428.5,737.8 429,737.7 429.5,737.5 430,735.3 430.5,736.3 431,738.6 431.5,735.9 432,738.4 432.5,736.2 433,737.8 433.5,736.5 434,737.8 434.5,736.3 435,734 435.5,735.6 436,736.4 436.5,733.9 437,737.2 437.5,738.3 438,737.7 438.5,738.4 439,733.7 439.5,737.4 440,738.4 440.5,738.6 441,734.8 441.5,733.2 442,734.4 442.5,737.4 443,737.9 443.5,737.9 444,738.9 444.5,737.7 445,737.4 445.5,737.3 446,738.6 446.5,737.9 447,737.9 447.5,737.9 448,737.7 448.5,738.7 449,738.8 449.5,735.1 450,733.7 450.5,737.6 451,738.5 451.5,739.3 452,739.5 452.5,738 453,737.6 453.5,738.3 454,738.7 454.5,738.6 455,738.1 455.5,737.3 456,738.6 456.5,737.9 457,737.7 457.5,737.9 458,735.4 458.5,735.5 459,737.9 459.5,738.5 460,739.4 460.5,735 461,736.2 461.5,738.4 462,739.2 462.5,738.2 463,738.1 463.5,738.6 464,733.9 464.5,732.4 465,734.7 465.5,734.7 466,737.7 466.5,739.2 467,735.9 467.5,737.9 468,738.5 468.5,738.2 469,737.8 469.5,738.3 470,735.4 470.5,737.8 471,738.7 471.5,736.7 472,730.7 472.5,736.7 473,738.2 473.5,738.4 474,738.3 474.5,736.5 475,737.9 475.5,736 476,736.9 476.5,738 477,738.8 477.5,739.1 478,738.8 478.5,738.6 479,734.9 479.5,736.1 480,737.5 480.5,738.1 481,738.8 481.5,738.5 482,737.3 482.5,737.3 483,738.7 483.5,737.2 484,737.6 484.5,737.9 485,736 485.5,734 486,737.7 486.5,735.2 487,734.1 487.5,737.7 488,738.6 488.5,738.6 489,739.2 489.5,738.3 490,734.9 490.5,736.7 491,738.6 491.5,737.5 492,738.6 492.5,739 493,735.9 493.5,737.2 494,737.9 494.5,734.4 495,733.7 495.5,734.7 496,737.2 496.5,737.7 497,738.6 497.5,739.1 498,739.2 498.5,738.4 499,736.4 499.5,737.6 500,738.5 500.5,737.3 501,735.4 501.5,738 502,737.2 502.5,738.1 503,738.6 503.5,738.6 504,738.1 504.5,738.7 505,738.8 505.5,735.9 506,737.8 506.5,733.6 507,736.6 507.5,737.3 508,738.7 508.5,738.6 509,737.8 509.5,737 510,738.1 510.5,738.4 511,737.1 511.5,736.7 512,737.5 512.5,737.5 513,738.1 513.5,737.1 514,738.3 514.5,735.8 515,734.7 515.5,738.1 516,738.8 516.5,738.6 517,735.5 517.5,737.4 518,738.4 518.5,739.4 519,738.2 519.5,737.6 520,734.2 520.5,736.6 521,736.5 521.5,736.7 522,735.1 522.5,736.9 523,738.3 523.5,738.6 524,738.5 524.5,738.2 525,734.1 525.5,734.7 526,737.8 526.5,734.2 527,736.2 527.5,737.8 528,738.6 528.5,733.6 529,732.8 529.5,736.8 530,738.8 530.5,738.6 531,738.5 531.5,737.7 532,738.3 532.5,737.8 533,738.1 533.5,734.2 534,737.6 534.5,736 535,737.4 535.5,738.2 536,738.9 536.5,734.8 537,737.7 537.5,739 538,738.9 538.5,739.1 539,739.2 539.5,738.8 540,738.7 540.5,738 541,739.2 541.5,738.9 542,735.5 542.5,737.8 543,738.3 543.5,738.2 544,735.4 544.5,738.3 545,735.4 545.5,736 546,737.1 546.5,737.7 547,738.3 547.5,737.9 548,738.5 548.5,739.4 549,738.3 549.5,739.3 550,739.6 550.5,739.6 551,739.6 551.5,739.8 552,735.4 552.5,735.7 553,736.7 553.5,738 554,735.1 554.5,737.7 555,739.2 555.5,739 556,738.9 556.5,738.7 557,738.5 557.5,738.8 558,737.7 558.5,739.2 559,738.9 559.5,738 560,734.2 560.5,736.2 561,737.2 561.5,737.8 562,738.9 562.5,738.1 563,738.3 563.5,739.4 564,737.9 564.5,739.2 565,737.3 565.5,738.7 566,739.2 566.5,739.4 567,739.6 567.5,739.4 568,739 568.5,738.6 569,739.1 569.5,735.5 570,737.9 570.5,738.7 571,738.3 571.5,738.5 572,738.1 572.5,736.8 573,734.6 573.5,736.3 574,736.3 574.5,737.3 575,738.1 575.5,734.7 576,736 576.5,737.5 577,735.3 577.5,733.2 578,736.5 578.5,735.4 579,737.4 579.5,738 580,734.6 580.5,733.7 581,736.6 581.5,737 582,738.6 582.5,738.3 583,736.6 583.5,737.8 584,738.1 584.5,739.1 585,733.9 585.5,737.8 586,738.7 586.5,735.4 587,736.6 587.5,738.2 588,737.7 588.5,738.4 589,738.4 589.5,734.5 590,736.5 590.5,738.1 591,735.3 591.5,737.1 592,737.2 592.5,736.6 593,736.4 593.5,737.8 594,737.9 594.5,737.7 595,735 595.5,737.8 596,737.5 596.5,733.5 597,736.8 597.5,737.7 598,733.6 598.5,734.2 599,736.7 599.5,737.6 600,733.2 600.5,737.6 601,738.3 601.5,738.3 602,736.7 602.5,737.6 603,737.5 603.5,733.9 604,736.6 604.5,737.8 605,736.9 605.5,735.8 606,736.5 606.5,736.6 607,737.3 607.5,738.9 608,738.6 608.5,737.8 609,738.1 609.5,733.4 610,737.3 610.5,738.2 611,738.8 611.5,735.6 612,737.7 612.5,738.4 613,738.4 613.5,737.9 614,735.8 614.5,738 615,738 615.5,739.2 616,736.4 616.5,738 617,738.7 617.5,736.4 618,736.7 618.5,737.6 619,736.8 619.5,737.4 620,737.4 620.5,738.2 621,737.6 621.5,737.3 622,738.3 622.5,737 623,733.2 623.5,736.1 624,737.8 624.5,738.7 625,739.2 625.5,738.7 626,735.7 626.5,730.2 627,735.7 627.5,737.9 628,738.3 628.5,738.1 629,733.9 629.5,723.2 630,733.9 630.5,738.5 631,736.6 631.5,732.2 632,736.6 632.5,734.9 633,738.4 633.5,739 634,738.9 634.5,736.1 635,737.2 635.5,739 636,734.7 636.5,737 637,738.2 637.5,737.4 638,738.4 638.5,738.8 639,739.1 639.5,738.9 640,738.2 640.5,738.2 641,738.3 641.5,736.9 642,737.4 642.5,733.3 643,737.7 643.5,739 644,739.6 644.5,735.2 645,738.3 645.5,738.3 646,739.4 646.5,736.8 647,738.7 647.5,738.6 648,739.1 648.5,739.1 649,739 649.5,739.4 650,739.2 650.5,738.6 651,737.8 651.5,738.9 652,739.4 652.5,738.4 653,738.8 653.5,737.3 654,734.4 654.5,737.1 655,737.5 655.5,737.8 656,738.6 656.5,738.7 657,739.5 657.5,737.9 658,738.5 658.5,738.6 659,738.2 659.5,739.2 660,739.5 660.5,739.8 661,739.5 661.5,739.5 662,739.2 662.5,736.1 663,738.5 663.5,738.8 664,738 664.5,735.5 665,738.4 665.5,736.9 666,737.7 666.5,738.5 667,736.7 667.5,737 668,738.2 668.5,738.3 669,739.2 669.5,738.8 670,737.6 670.5,732.7 671,737.4 671.5,735.2 671.8,740.2" fill="#1430ff"/>
<line x1="367.5" y1="740.2" x2="671.8" y2="740.2" stroke="#1430ff" stroke-width="0.9"/>
<rect x="404.9" y="686.5" width="10.5" height="59.1" rx="1.2" fill="#f6b414" fill-opacity="0.3"/>
<rect x="624.5" y="686.5" width="10" height="59.1" rx="1.2" fill="#f6b414" fill-opacity="0.3"/>
<line x1="597.5" y1="749.1" x2="612.2" y2="749.1" stroke="#3b6fd2" stroke-width="0.7"/>
<path d="M619.3 749.1L612.2 745.3L612.2 752.9Z" fill="#3b6fd2"/>
<line x1="628.5" y1="749.1" x2="641.6" y2="749.1" stroke="#1b2a8e" stroke-width="0.7"/>
<line x1="629.5" y1="747.3" x2="629.5" y2="750.9" stroke="#1b2a8e" stroke-width="0.8"/>
<line x1="632.5" y1="747.3" x2="632.5" y2="750.9" stroke="#1b2a8e" stroke-width="0.8"/>
<line x1="635" y1="747.3" x2="635" y2="750.9" stroke="#1b2a8e" stroke-width="0.8"/>
<line x1="637.5" y1="747.3" x2="637.5" y2="750.9" stroke="#1b2a8e" stroke-width="0.8"/>
<rect x="640" y="747.8" width="2" height="2.6" fill="#1b2a8e"/>
<text font-size="12.1" text-anchor="middle" fill="#172490" transform="translate(636 764.1) scale(1 1.07)">IL6</text>
<line x1="370.4" y1="787.2" x2="670.6" y2="787.2" stroke="#222" stroke-width="0.6"/>
<path d="M368.4 787.2L372.4 785.8L372.4 788.6Z" fill="#111"/>
<path d="M672.6 787.2L668.6 785.8L668.6 788.6Z" fill="#111"/>
<text font-size="7.0" text-anchor="middle" fill="#111" transform="translate(517.5 785.4) scale(1 1.07)">60 kb</text>
<path d="M365 794.4L366.3 794.4L366.3 815L365 815" fill="none" stroke="#444" stroke-width="0.6"/>
<text font-size="5.6" text-anchor="end" fill="#333" transform="translate(364.7 799) scale(1 1.07)">4.5</text>
<text font-size="5.6" text-anchor="end" fill="#333" transform="translate(364.3 814.8) scale(1 1.07)">0</text>
<path d="M365 818L366.3 818L366.3 840L365 840" fill="none" stroke="#444" stroke-width="0.6"/>
<text font-size="5.6" text-anchor="end" fill="#333" transform="translate(364.7 822.6) scale(1 1.07)">4.5</text>
<text font-size="5.6" text-anchor="end" fill="#333" transform="translate(364.3 839.8) scale(1 1.07)">0</text>
<text font-size="6.2" text-anchor="start" fill="#555" transform="translate(371.5 800.6) scale(1 1.07)">Mutant</text>
<text font-size="6.2" text-anchor="start" fill="#555" transform="translate(371.5 826) scale(1 1.07)">WT</text>
<polygon points="366.8,815 366.8,815 367.3,815 367.8,815 368.3,815 368.8,815 369.3,815 369.8,815 370.3,815 370.8,815 371.3,815 371.8,815 372.3,815 372.8,815 373.3,815 373.8,815 374.3,815 374.8,815 375.3,815 375.8,815 376.3,815 376.8,815 377.3,815 377.8,815 378.3,815 378.8,815 379.3,813.8 379.8,813.5 380.3,810.9 380.8,810.7 381.3,812.2 381.8,813 382.3,811.3 382.8,809.5 383.3,809.3 383.8,808.1 384.3,811.5 384.8,807.3 385.3,810.3 385.8,811.6 386.3,810.1 386.8,811.4 387.3,812.2 387.8,810.1 388.3,809.7 388.8,811.6 389.3,813 389.8,813.1 390.3,812.9 390.8,813.8 391.3,814.4 391.8,813 392.3,813.2 392.8,812.7 393.3,812.5 393.8,812.3 394.3,811.7 394.8,810.6 395.3,809.4 395.8,808.1 396.3,807 396.8,808.1 397.3,809.4 397.8,810.6 398.3,811.7 398.8,811.5 399.3,810.4 399.8,811.9 400.3,810.5 400.8,813.1 401.3,813.2 401.8,812.5 402.3,813 402.8,813.2 403.3,813.1 403.8,813.5 404.3,813.2 404.8,813.1 405.3,813 405.8,812.2 406.3,812.5 406.8,811.8 407.3,812.1 407.8,811.5 408.3,812.3 408.8,812 409.3,811.3 409.8,810.1 410.3,808.7 410.8,807.2 411.3,806 411.8,807.2 412.3,808.7 412.8,810.1 413.3,811.3 413.8,812.2 414.3,810.3 414.8,812.1 415.3,812.9 415.8,813.2 416.3,812.3 416.8,813 417.3,810.9 417.8,809.8 418.3,812.3 418.8,813 419.3,812.1 419.8,812.9 420.3,813.5 420.8,814 421.3,811.5 421.8,812.8 422.3,813.7 422.8,810.5 423.3,813.1 423.8,812.3 424.3,813.9 424.8,814 425.3,813.7 425.8,813.8 426.3,814.4 426.8,814.2 427.3,813.8 427.8,814.3 428.3,813.8 428.8,814.3 429.3,813.9 429.8,814.3 430.3,810.6 430.8,812.8 431.3,813 431.8,813.6 432.3,813.7 432.8,814 433.3,814.2 433.8,810.5 434.3,813.1 434.8,813.4 435.3,813.9 435.8,814.2 436.3,811.1 436.8,813.6 437.3,813.8 437.8,814.2 438.3,814.4 438.8,814.5 439.3,809.9 439.8,810.4 440.3,810.3 440.8,813 441.3,813.5 441.8,810.7 442.3,813.1 442.8,813 443.3,813 443.8,811.3 444.3,813.2 444.8,813.2 445.3,814.1 445.8,811.5 446.3,811.9 446.8,813.8 447.3,814.3 447.8,813.5 448.3,813.9 448.8,814.4 449.3,814.6 449.8,814.1 450.3,812.1 450.8,813.3 451.3,814.2 451.8,812.8 452.3,814.1 452.8,812.9 453.3,813 453.8,810 454.3,809.7 454.8,811.9 455.3,813.8 455.8,813.7 456.3,814 456.8,814.2 457.3,814.3 457.8,813.7 458.3,813.5 458.8,813.7 459.3,813.2 459.8,814.1 460.3,810.8 460.8,813.4 461.3,813.6 461.8,812.4 462.3,813.6 462.8,813.7 463.3,814 463.8,812.2 464.3,810.2 464.8,812.4 465.3,812.8 465.8,813.7 466.3,814 466.8,814.3 467.3,812.4 467.8,811.2 468.3,812.9 468.8,813.8 469.3,814.1 469.8,813.6 470.3,814.3 470.8,814.1 471.3,813.4 471.8,813.9 472.3,814.2 472.8,814.5 473.3,813.6 473.8,814.1 474.3,810.7 474.8,813.2 475.3,814 475.8,812.3 476.3,813.4 476.8,814.1 477.3,814.3 477.8,812.1 478.3,811.2 478.8,810.5 479.3,812.4 479.8,812.5 480.3,813.1 480.8,814 481.3,813.5 481.8,813.4 482.3,812.8 482.8,811.8 483.3,812.6 483.8,813.3 484.3,814 484.8,812.1 485.3,810.4 485.8,811.6 486.3,811.4 486.8,812.9 487.3,814.1 487.8,813.5 488.3,814.3 488.8,813.5 489.3,813.2 489.8,812.5 490.3,813.9 490.8,811.8 491.3,813.5 491.8,813.8 492.3,813.1 492.8,812.6 493.3,813.5 493.8,813.8 494.3,814 494.8,814.1 495.3,814.5 495.8,814.5 496.3,814.6 496.8,811.3 497.3,811.8 497.8,811.3 498.3,812.9 498.8,813.7 499.3,813.7 499.8,812.1 500.3,809.4 500.8,806 501.3,809.4 501.8,806.4 502.3,791.5 502.8,806.4 503.3,811.5 503.8,809 504.3,811.5 504.8,812.1 505.3,809.9 505.8,812.7 506.3,810.6 506.8,813.3 507.3,813.8 507.8,813 508.3,813.4 508.8,813.4 509.3,813.3 509.8,812.1 510.3,813.8 510.8,814.3 511.3,813.3 511.8,814.1 512.3,813.8 512.8,812.7 513.3,812.6 513.8,813.7 514.3,814 514.8,812.3 515.3,813.3 515.8,813.4 516.3,813.6 516.8,812.6 517.3,812.8 517.8,813.5 518.3,813.3 518.8,813.5 519.3,813.9 519.8,814.1 520.3,814.4 520.8,812.3 521.3,810.3 521.8,813.4 522.3,813.3 522.8,810.7 523.3,812.2 523.8,813.5 524.3,814.2 524.8,813.8 525.3,814 525.8,814.2 526.3,814.5 526.8,814.3 527.3,813.6 527.8,813.4 528.3,812.5 528.8,813.7 529.3,811.6 529.8,809.8 530.3,810.1 530.8,813 531.3,811.3 531.8,812.4 532.3,812 532.8,813.2 533.3,813.5 533.8,811.2 534.3,808.3 534.8,807 535.3,811.4 535.8,811.7 536.3,810.5 536.8,810.2 537.3,802 537.8,810.1 538.3,810.9 538.8,808 539.3,807.6 539.8,795 540.3,807.6 540.8,812.1 541.3,812.6 541.8,810 542.3,804 542.8,810 543.3,812.9 543.8,812.2 544.3,812.5 544.8,813 545.3,809.8 545.8,811.6 546.3,811.7 546.8,813.4 547.3,811.9 547.8,811.6 548.3,810.4 548.8,813.2 549.3,813.2 549.8,813.1 550.3,812.8 550.8,810.9 551.3,811.6 551.8,810.5 552.3,813.3 552.8,813.3 553.3,813.9 553.8,812 554.3,811.5 554.8,812.7 555.3,811.3 555.8,813.4 556.3,811.9 556.8,813.8 557.3,814.4 557.8,811.3 558.3,811.1 558.8,813.4 559.3,813.7 559.8,813.8 560.3,813.8 560.8,814.3 561.3,810.9 561.8,813.2 562.3,812.8 562.8,814.1 563.3,811 563.8,810.5 564.3,813.4 564.8,814.2 565.3,813.5 565.8,812.7 566.3,813.7 566.8,812.5 567.3,813.9 567.8,811.7 568.3,813.7 568.8,813.4 569.3,814 569.8,811.5 570.3,810.4 570.8,812.1 571.3,813.7 571.8,814 572.3,814.3 572.8,813.1 573.3,812.3 573.8,812.4 574.3,813 574.8,810.9 575.3,809.1 575.8,812.9 576.3,810.9 576.8,806 577.3,810.8 577.8,809.7 578.3,807.6 578.8,808 579.3,808.6 579.8,797.5 580.3,808.6 580.8,811.4 581.3,811.6 581.8,810.9 582.3,811.3 582.8,810.1 583.3,810.2 583.8,805 584.3,810.5 584.8,812.4 585.3,812.9 585.8,812.6 586.3,811.9 586.8,808.6 587.3,811.1 587.8,812.4 588.3,811 588.8,810.8 589.3,810 589.8,801.5 590.3,810 590.8,811.2 591.3,809 591.8,811 592.3,810.6 592.8,808 593.3,811.8 593.8,808.5 594.3,810.7 594.8,811.3 595.3,808.7 595.8,812.2 596.3,811.2 596.8,812.5 597.3,810.9 597.8,812.5 598.3,812.3 598.8,813.1 599.3,810.8 599.8,811.9 600.3,813.1 600.8,812.8 601.3,812.7 601.8,812.8 602.3,813.5 602.8,813.2 603.3,813.6 603.8,814.3 604.3,811.3 604.8,813.3 605.3,813.1 605.8,812.9 606.3,812.3 606.8,813.5 607.3,813.4 607.8,812.6 608.3,813.3 608.8,812.9 609.3,813.7 609.8,813.6 610.3,813.5 610.8,813.6 611.3,812.9 611.8,808.9 612.3,812.8 612.8,813.8 613.3,814.2 613.8,814.1 614.3,812.9 614.8,809.9 615.3,812.4 615.8,813.2 616.3,812.9 616.8,812.5 617.3,812.8 617.8,812.9 618.3,813.2 618.8,810.5 619.3,812.9 619.8,812.1 620.3,811.9 620.8,812.5 621.3,811.7 621.8,808.8 622.3,810.7 622.8,812.8 623.3,813 623.8,813.2 624.3,813.9 624.8,813.7 625.3,813 625.8,812.8 626.3,811.1 626.8,811.7 627.3,813.2 627.8,814 628.3,811.2 628.8,812.7 629.3,813.4 629.8,811.7 630.3,809.8 630.8,809.1 631.3,812.6 631.8,813 632.3,813.8 632.8,812.2 633.3,812.6 633.8,813.3 634.3,813.4 634.8,813.1 635.3,813.2 635.8,812.1 636.3,810.6 636.8,813.3 637.3,813.2 637.8,813.4 638.3,813.5 638.8,813.1 639.3,813.6 639.8,813.3 640.3,812.7 640.8,810.1 641.3,809.7 641.8,812.8 642.3,813.1 642.8,813.6 643.3,813.4 643.8,812.8 644.3,812.7 644.8,813.1 645.3,813.8 645.8,814.3 646.3,814 646.8,812 647.3,811.7 647.8,806 648.3,811.5 648.8,811.3 649.3,813.6 649.8,810.4 650.3,812 650.8,813.2 651.3,812.9 651.8,813.6 652.3,812.9 652.8,812.4 653.3,811.9 653.8,813.4 654.3,813.2 654.8,813 655.3,813.1 655.8,814 656.3,813.9 656.8,813.1 657.3,813.3 657.8,813.7 658.3,813.5 658.8,810.7 659.3,812 659.8,812.4 660.3,813.1 660.8,813 661.3,812.9 661.8,813.5 662.3,814.2 662.8,813.9 663.3,810.9 663.8,810.9 664.3,812.6 664.8,808.5 665.3,812.6 665.8,813 666.3,812.4 666.8,813.8 667.3,812.6 667.8,813.5 668.3,812.8 668.8,812.7 669.3,813.9 669.8,813.1 670.3,813.2 670.8,814.2 671.3,812.6 671.3,815" fill="#ff2b0c"/>
<line x1="366.8" y1="815" x2="671.3" y2="815" stroke="#ff2b0c" stroke-width="0.9"/>
<polygon points="366.8,840 366.8,840 367.3,840 367.8,840 368.3,840 368.8,840 369.3,840 369.8,840 370.3,840 370.8,840 371.3,840 371.8,840 372.3,840 372.8,840 373.3,840 373.8,840 374.3,840 374.8,840 375.3,840 375.8,840 376.3,840 376.8,840 377.3,840 377.8,840 378.3,840 378.8,840 379.3,839.4 379.8,838.4 380.3,838.3 380.8,839.3 381.3,838.7 381.8,838.6 382.3,838.4 382.8,836.5 383.3,838.4 383.8,838.7 384.3,839 384.8,838.5 385.3,838.3 385.8,838.6 386.3,839 386.8,839.2 387.3,838.7 387.8,839.1 388.3,838.5 388.8,838.1 389.3,838.5 389.8,838.5 390.3,838.7 390.8,839.3 391.3,839.3 391.8,839.4 392.3,838.9 392.8,836.6 393.3,838.5 393.8,839 394.3,836.5 394.8,838.7 395.3,838.9 395.8,839.1 396.3,835.4 396.8,836.3 397.3,837.1 397.8,837.7 398.3,838.3 398.8,838.6 399.3,838.8 399.8,838.3 400.3,836.3 400.8,838 401.3,837 401.8,836.4 402.3,838.2 402.8,836 403.3,838.2 403.8,838.9 404.3,839.4 404.8,836.9 405.3,838.4 405.8,838.1 406.3,837.7 406.8,838.8 407.3,839.1 407.8,838.9 408.3,836.9 408.8,837.7 409.3,839 409.8,839.2 410.3,836.9 410.8,838.3 411.3,838.7 411.8,838.9 412.3,836.9 412.8,836.3 413.3,838.4 413.8,837.9 414.3,838.7 414.8,838.8 415.3,839.3 415.8,836.7 416.3,837.5 416.8,838.2 417.3,835.5 417.8,837.3 418.3,837.8 418.8,838.7 419.3,839.3 419.8,839.3 420.3,836.1 420.8,837 421.3,838.2 421.8,838 422.3,838.8 422.8,837.2 423.3,838.8 423.8,839.3 424.3,838 424.8,834.5 425.3,838 425.8,838.6 426.3,839.1 426.8,837.1 427.3,836.2 427.8,838.2 428.3,839.2 428.8,839.1 429.3,839.1 429.8,839.3 430.3,838.5 430.8,837.1 431.3,838.4 431.8,838.8 432.3,838.4 432.8,839 433.3,839.3 433.8,838.9 434.3,839 434.8,837.7 435.3,839.1 435.8,837.3 436.3,838.1 436.8,839.1 437.3,838.1 437.8,838.6 438.3,836.5 438.8,836.2 439.3,838.4 439.8,839.3 440.3,839.1 440.8,838.5 441.3,838.9 441.8,839.3 442.3,839.5 442.8,839.2 443.3,839.2 443.8,838.4 444.3,836.4 444.8,835.8 445.3,834 445.8,836.8 446.3,836.4 446.8,837.1 447.3,835.2 447.8,838.3 448.3,835.4 448.8,837.9 449.3,838.4 449.8,838.8 450.3,839.4 450.8,837.2 451.3,838.6 451.8,838.5 452.3,839 452.8,839.5 453.3,839.1 453.8,838.9 454.3,838.1 454.8,835.7 455.3,837.6 455.8,838.1 456.3,838.8 456.8,838.9 457.3,836.4 457.8,838.7 458.3,839.1 458.8,836.1 459.3,838.2 459.8,838.5 460.3,839.2 460.8,838.8 461.3,838.9 461.8,838.7 462.3,838.2 462.8,839 463.3,839.4 463.8,836.5 464.3,838.7 464.8,839.1 465.3,836.3 465.8,838.2 466.3,839.1 466.8,839.1 467.3,837 467.8,838.1 468.3,838.9 468.8,838.6 469.3,838.3 469.8,835 470.3,836.1 470.8,836.6 471.3,838.6 471.8,835.6 472.3,834.9 472.8,837.3 473.3,838.9 473.8,839.4 474.3,835.5 474.8,838 475.3,837.6 475.8,838.4 476.3,838.7 476.8,837.4 477.3,839 477.8,838.6 478.3,838.8 478.8,838.9 479.3,838.4 479.8,839 480.3,838 480.8,839.2 481.3,838 481.8,839 482.3,839.4 482.8,839.4 483.3,839.2 483.8,839.2 484.3,838.4 484.8,837.2 485.3,838.5 485.8,839.1 486.3,836.9 486.8,838.1 487.3,838.5 487.8,838.7 488.3,838.6 488.8,839.2 489.3,839.6 489.8,839.1 490.3,838.9 490.8,839.2 491.3,839.2 491.8,839.3 492.3,839.2 492.8,837.4 493.3,836.7 493.8,836.9 494.3,838.6 494.8,838.7 495.3,839.2 495.8,838.4 496.3,839.1 496.8,837 497.3,834.6 497.8,836 498.3,835.3 498.8,836 499.3,836.4 499.8,837 500.3,838.8 500.8,839.3 501.3,838.6 501.8,838.9 502.3,837.7 502.8,835.6 503.3,838.2 503.8,838.9 504.3,838.9 504.8,835.4 505.3,838.4 505.8,838.6 506.3,838.6 506.8,838.7 507.3,838.9 507.8,839.4 508.3,838.9 508.8,838.6 509.3,838.6 509.8,838.9 510.3,839.1 510.8,837.1 511.3,838.6 511.8,838.7 512.3,839.3 512.8,839.6 513.3,838.7 513.8,839.3 514.3,838.7 514.8,839.3 515.3,836.5 515.8,836.5 516.3,838.2 516.8,838.5 517.3,837.9 517.8,838 518.3,839.1 518.8,838.9 519.3,839.1 519.8,839.3 520.3,837.3 520.8,836.3 521.3,837.9 521.8,838.9 522.3,837.8 522.8,836.9 523.3,838.1 523.8,839.1 524.3,838.7 524.8,838.6 525.3,838.9 525.8,838.3 526.3,838.7 526.8,837.6 527.3,835.3 527.8,837.5 528.3,838.8 528.8,839.3 529.3,836.5 529.8,836.7 530.3,838.3 530.8,838.4 531.3,839.3 531.8,839.5 532.3,838.2 532.8,838.3 533.3,839.2 533.8,839.1 534.3,839 534.8,838.7 535.3,838.4 535.8,838.3 536.3,839.1 536.8,839.1 537.3,837.3 537.8,836.8 538.3,837.8 538.8,838.6 539.3,838.2 539.8,836 540.3,838.2 540.8,839.2 541.3,839 541.8,838.7 542.3,839.1 542.8,839.5 543.3,839.2 543.8,839.5 544.3,839.5 544.8,839.5 545.3,839.3 545.8,839.1 546.3,836.8 546.8,835.1 547.3,836.5 547.8,837.4 548.3,839 548.8,835 549.3,837.7 549.8,839 550.3,838.8 550.8,838.5 551.3,839.2 551.8,839.3 552.3,838.9 552.8,837.6 553.3,838.7 553.8,837.7 554.3,835.9 554.8,836 555.3,837.9 555.8,838.7 556.3,838.8 556.8,839.1 557.3,838.7 557.8,839 558.3,838.1 558.8,838.3 559.3,838.6 559.8,838.9 560.3,836 560.8,837.8 561.3,838.5 561.8,837.8 562.3,838.3 562.8,838.1 563.3,837.5 563.8,838.8 564.3,837.6 564.8,837.4 565.3,837.5 565.8,836.2 566.3,836.5 566.8,837.2 567.3,838.1 567.8,838.1 568.3,838.7 568.8,838.2 569.3,837.9 569.8,834.7 570.3,836.2 570.8,838.4 571.3,838.2 571.8,837.5 572.3,838.8 572.8,836.6 573.3,837.1 573.8,837.2 574.3,837.5 574.8,838.3 575.3,838.6 575.8,836.5 576.3,836.9 576.8,838.8 577.3,838.1 577.8,839 578.3,838.6 578.8,835.4 579.3,837.7 579.8,835.5 580.3,838 580.8,839 581.3,838.9 581.8,839.1 582.3,837.3 582.8,838.7 583.3,838.1 583.8,838.6 584.3,839 584.8,838.5 585.3,838.3 585.8,838.4 586.3,837.9 586.8,838.6 587.3,838.8 587.8,838.6 588.3,834.9 588.8,837.6 589.3,834.6 589.8,837.4 590.3,837.5 590.8,838.7 591.3,838.4 591.8,838.7 592.3,838.1 592.8,837.8 593.3,838 593.8,838.6 594.3,838.5 594.8,837.3 595.3,838.3 595.8,838.3 596.3,838.9 596.8,835.8 597.3,837.4 597.8,838.1 598.3,839 598.8,839 599.3,838 599.8,838.5 600.3,839.3 600.8,838.8 601.3,838.9 601.8,839.2 602.3,838.8 602.8,838.6 603.3,838.9 603.8,839.1 604.3,838.9 604.8,836.2 605.3,838.1 605.8,837.2 606.3,838.1 606.8,838.2 607.3,836.9 607.8,836.6 608.3,837.3 608.8,837.3 609.3,838.4 609.8,836.3 610.3,838.3 610.8,838.3 611.3,838.2 611.8,838 612.3,835.3 612.8,837.3 613.3,838.1 613.8,836.3 614.3,837.1 614.8,838.3 615.3,838.5 615.8,838.5 616.3,835.4 616.8,836.9 617.3,837.3 617.8,837.7 618.3,838.2 618.8,838.6 619.3,835.3 619.8,837.1 620.3,837.7 620.8,834.9 621.3,837.2 621.8,838.2 622.3,835.9 622.8,837.2 623.3,835.4 623.8,835 624.3,834.9 624.8,835.6 625.3,836.7 625.8,838 626.3,837.9 626.8,838.9 627.3,838.1 627.8,837.7 628.3,837.4 628.8,838.5 629.3,838.7 629.8,837.5 630.3,837.7 630.8,834.9 631.3,836.8 631.8,838.2 632.3,835.3 632.8,835.4 633.3,836.8 633.8,836.5 634.3,838.2 634.8,838 635.3,837.7 635.8,838.1 636.3,838.7 636.8,837.3 637.3,836 637.8,836.5 638.3,837.6 638.8,838.7 639.3,838.9 639.8,837.7 640.3,838 640.8,838.1 641.3,838.9 641.8,836.9 642.3,837.9 642.8,838.7 643.3,838.3 643.8,837.2 644.3,837.3 644.8,838.2 645.3,838.7 645.8,838.9 646.3,835.2 646.8,837.2 647.3,837.8 647.8,838.5 648.3,838.9 648.8,838.5 649.3,838.5 649.8,839 650.3,836.2 650.8,838.1 651.3,838.4 651.8,838.5 652.3,836 652.8,836.6 653.3,837.6 653.8,837.7 654.3,836.7 654.8,837.4 655.3,835.4 655.8,837.8 656.3,838 656.8,835 657.3,836.9 657.8,837.4 658.3,837.7 658.8,837.7 659.3,838.2 659.8,833.9 660.3,836.9 660.8,837.9 661.3,836.5 661.8,838.1 662.3,837.7 662.8,838.1 663.3,838.3 663.8,838.4 664.3,837.9 664.8,838.3 665.3,838.8 665.8,838.3 666.3,838.5 666.8,838.1 667.3,838.3 667.8,838.2 668.3,838 668.8,837.1 669.3,836.7 669.8,832.7 670.3,834.9 670.8,837 671.3,836.2 671.3,840" fill="#1430ff"/>
<line x1="366.8" y1="840" x2="671.3" y2="840" stroke="#1430ff" stroke-width="0.9"/>
<rect x="392" y="787.8" width="10.5" height="58.6" rx="1.2" fill="#f6b414" fill-opacity="0.3"/>
<rect x="407" y="787.8" width="10.5" height="58.6" rx="1.2" fill="#f6b414" fill-opacity="0.3"/>
<rect x="497.6" y="787.8" width="10" height="58.6" rx="1.2" fill="#f6b414" fill-opacity="0.3"/>
<rect x="530" y="787.8" width="15.7" height="58.6" rx="1.2" fill="#f6b414" fill-opacity="0.3"/>
<rect x="573.8" y="787.8" width="23.7" height="58.6" rx="1.2" fill="#f6b414" fill-opacity="0.3"/>
<line x1="388.6" y1="849" x2="397.8" y2="849" stroke="#1b2a8e" stroke-width="0.7"/>
<line x1="391.5" y1="847.2" x2="391.5" y2="850.8" stroke="#1b2a8e" stroke-width="0.8"/>
<line x1="394" y1="847.2" x2="394" y2="850.8" stroke="#1b2a8e" stroke-width="0.8"/>
<line x1="396.5" y1="847.2" x2="396.5" y2="850.8" stroke="#1b2a8e" stroke-width="0.8"/>
<path d="M388.2 849 L391.2 847.3 L391.2 850.7Z" fill="#1b2a8e"/>
<line x1="439.3" y1="851" x2="425.4" y2="851" stroke="#3b6fd2" stroke-width="0.7"/>
<path d="M418.3 851L425.4 847.2L425.4 854.8Z" fill="#3b6fd2"/>
<text font-size="12.1" text-anchor="middle" fill="#172490" transform="translate(395.8 863.8) scale(1 1.07)">CCL2</text>
</svg></body></html>
